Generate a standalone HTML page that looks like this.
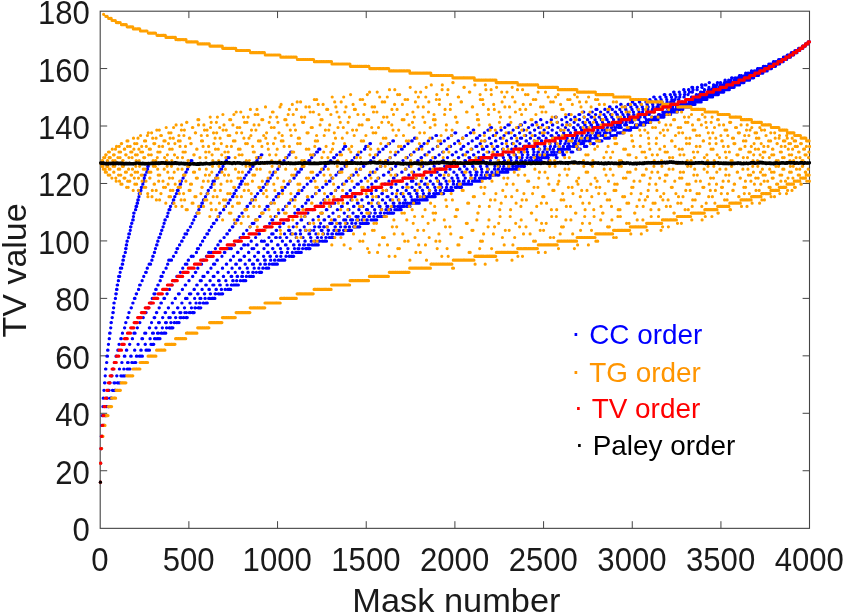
<!DOCTYPE html>
<html><head><meta charset="utf-8"><title>TV value vs mask number</title>
<style>
html,body{margin:0;padding:0;background:#fff}
body{width:844px;height:615px;overflow:hidden;font-family:"Liberation Sans",sans-serif}
svg{display:block}
text{font-family:"Liberation Sans",sans-serif;fill:#1a1a1a}
.d{fill:none;stroke-linecap:round;stroke-linejoin:round;stroke-width:3.2}
</style></head><body>
<svg width="844" height="615" viewBox="0 0 844 615">
<rect width="844" height="615" fill="#fff"/>
<g font-size="33.5"><text transform="translate(99.9 570.5) scale(0.930 1)" text-anchor="middle">0</text><text transform="translate(188.6 570.5) scale(0.930 1)" text-anchor="middle">500</text><text transform="translate(277.2 570.5) scale(0.930 1)" text-anchor="middle">1000</text><text transform="translate(365.9 570.5) scale(0.930 1)" text-anchor="middle">1500</text><text transform="translate(454.6 570.5) scale(0.930 1)" text-anchor="middle">2000</text><text transform="translate(543.3 570.5) scale(0.930 1)" text-anchor="middle">2500</text><text transform="translate(632.0 570.5) scale(0.930 1)" text-anchor="middle">3000</text><text transform="translate(720.6 570.5) scale(0.930 1)" text-anchor="middle">3500</text><text transform="translate(809.3 570.5) scale(0.930 1)" text-anchor="middle">4000</text><text transform="translate(89.9 541.1) scale(0.930 1)" text-anchor="end">0</text><text transform="translate(89.9 483.6) scale(0.930 1)" text-anchor="end">20</text><text transform="translate(89.9 426.2) scale(0.930 1)" text-anchor="end">40</text><text transform="translate(89.9 368.7) scale(0.930 1)" text-anchor="end">60</text><text transform="translate(89.9 311.3) scale(0.930 1)" text-anchor="end">80</text><text transform="translate(89.9 253.8) scale(0.930 1)" text-anchor="end">100</text><text transform="translate(89.9 196.4) scale(0.930 1)" text-anchor="end">120</text><text transform="translate(89.9 138.9) scale(0.930 1)" text-anchor="end">140</text><text transform="translate(89.9 81.5) scale(0.930 1)" text-anchor="end">160</text><text transform="translate(89.9 24.0) scale(0.930 1)" text-anchor="end">180</text></g>
<text transform="translate(456.4 612.4) scale(1.033 1)" font-size="33.3" text-anchor="middle">Mask number</text>
<text transform="translate(26.2 270.4) rotate(-90)" font-size="34" text-anchor="middle">TV value</text>
<rect x="100.2" y="11.2" width="709.3" height="517.15" fill="none" stroke="#444" stroke-width="1.1"/>
<path d="M188.88 528.20v-7.0M188.88 11.10v7.0M277.55 528.20v-7.0M277.55 11.10v7.0M366.23 528.20v-7.0M366.23 11.10v7.0M454.90 528.20v-7.0M454.90 11.10v7.0M543.58 528.20v-7.0M543.58 11.10v7.0M632.25 528.20v-7.0M632.25 11.10v7.0M720.93 528.20v-7.0M720.93 11.10v7.0M100.20 470.74h7.0M809.60 470.74h-7.0M100.20 413.29h7.0M809.60 413.29h-7.0M100.20 355.83h7.0M809.60 355.83h-7.0M100.20 298.38h7.0M809.60 298.38h-7.0M100.20 240.92h7.0M809.60 240.92h-7.0M100.20 183.47h7.0M809.60 183.47h-7.0M100.20 126.01h7.0M809.60 126.01h-7.0M100.20 68.56h7.0M809.60 68.56h-7.0" stroke="#444" stroke-width="1" fill="none"/>
<clipPath id="c"><rect x="97.2" y="9.1" width="713.9" height="521.1"/></clipPath>
<g clip-path="url(#c)">
<path class="d" stroke="#0000ff" d="M100.4 482.2h0M100.6 463.2h0.1M100.9 448.6h0.2M101.3 436.3h0.1M101.6 448.6h0M101.8 425.4h0.2M102.2 415.6h0M102.3 436.3h0.2M102.7 415.6h0M102.9 406.6h0.1M103.2 398.2h0.2M103.6 425.4h0.1M103.9 390.3h0.2M104.3 425.4h0M104.5 382.8h0M104.6 415.6h0.2M105 382.8h0M105.2 375.8h0.1M105.5 369h0M105.7 415.6h0M105.9 369h0M106.1 406.6h0M106.2 415.6h0M106.4 406.6h0M106.6 362.5h0.2M106.9 356.2h0M107.1 398.2h0.2M107.5 356.2h0M107.6 350.2h0M107.8 406.6h0M108 350.2h0M108.2 406.6h0M108.4 344.3h0.1M108.7 390.3h0M108.9 406.6h0M109.1 390.3h0M109.2 338.7h0.2M109.6 333.2h0M109.8 382.8h0.2M110.1 333.2h0M110.3 398.2h0.2M110.7 327.8h0.1M111 322.6h0M111.2 398.2h0M111.4 322.6h0M111.6 398.2h0M111.7 375.8h0.2M112.1 317.6h0.2M112.4 390.3h0.2M112.8 312.6h0M113 369h0.1M113.3 312.6h0M113.5 307.8h0.2M113.9 303h0M114 382.8h0M114.2 303h0M114.4 390.3h0M114.6 362.5h0.1M114.9 382.8h0M115.1 390.3h0M115.3 298.4h0.2M115.6 390.3h0M115.8 293.8h0M116 356.2h0.2M116.3 293.8h0M116.5 289.4h0M116.7 375.8h0.2M117 289.4h0M117.2 285h0M117.4 382.8h0M117.6 285h0M117.8 350.2h0M117.9 382.8h0M118.1 350.2h0M118.3 280.7h0.2M118.6 276.4h0M118.8 382.8h0M119 344.3h0.2M119.4 369h0.1M119.7 276.4h0M119.9 382.8h0M120.1 272.3h0.1M120.4 268.2h0.2M120.8 338.7h0M120.9 375.8h0.2M121.3 338.7h0M121.5 268.2h0.2M121.8 362.5h0.2M122.2 264.2h0M122.4 333.2h0.1M122.7 264.2h0M122.9 260.2h0M123.1 375.8h0.2M123.4 260.2h0M123.6 256.3h0M123.8 369h0.2M124.1 256.3h0M124.3 356.2h0M124.5 327.8h0.2M124.9 356.2h0M125 375.8h0M125.2 252.4h0.2M125.6 248.6h0M125.7 322.6h0.2M126.1 248.6h0M126.3 244.9h0M126.4 350.2h0M126.6 244.9h0M126.8 350.2h0M127 241.2h0M127.2 369h0M127.3 241.2h0M127.5 362.5h0M127.7 317.6h0M127.9 369h0M128 317.6h0M128.2 362.5h0M128.4 237.5h0.2M128.8 233.9h0M128.9 312.6h0.2M129.3 369h0M129.5 233.9h0M129.6 344.3h0.2M130 369h0M130.2 230.3h0.1M130.5 226.8h0M130.7 356.2h0M130.9 226.8h0M131.1 307.8h0M131.2 356.2h0M131.4 307.8h0M131.6 223.3h0M131.8 362.5h0M131.9 223.3h0M132.1 362.5h0M132.3 338.7h0.2M132.7 219.9h0M132.8 303h0.2M133.2 219.9h0M133.4 216.5h0.1M133.7 213.1h0M133.9 333.2h0M134.1 213.1h0M134.3 362.5h0M134.4 298.4h0M134.6 350.2h0.2M135 298.4h0M135.1 333.2h0M135.3 362.5h0M135.5 209.7h0.2M135.8 362.5h0M136 206.4h0M136.2 293.8h0M136.4 356.2h0M136.6 293.8h0M136.7 206.4h0M136.9 356.2h0M137.1 203.2h0M137.3 327.8h0.1M137.6 203.2h0M137.8 199.9h0M138 344.3h0.2M138.3 199.9h0M138.5 289.4h0.2M138.9 196.7h0.1M139.2 193.6h0M139.4 356.2h0M139.6 285h0M139.7 322.6h0.2M140.1 356.2h0M140.3 285h0M140.5 193.6h0M140.6 190.4h0M140.8 350.2h0M141 190.4h0M141.2 350.2h0M141.3 187.3h0M141.5 356.2h0M141.7 187.3h0M141.9 338.7h0M142.1 280.7h0.1M142.4 356.2h0M142.6 338.7h0M142.8 184.2h0.1M143.1 317.6h0.2M143.5 181.2h0M143.7 276.4h0.1M144 181.2h0M144.2 178.1h0.2M144.5 175.1h0M144.7 333.2h0M144.9 312.6h0M145.1 344.3h0M145.2 175.1h0M145.4 344.3h0M145.6 272.3h0M145.8 333.2h0M146 350.2h0M146.1 312.6h0M146.3 272.3h0M146.5 350.2h0M146.7 172.2h0.1M147 169.2h0M147.2 268.2h0.2M147.6 169.2h0M147.7 166.3h0M147.9 350.2h0M148.1 307.8h0M148.3 166.3h0M148.4 350.2h0M148.6 307.8h0M148.8 163.4h0.2M149.1 264.2h0M149.3 327.8h0M149.5 350.2h0M149.7 327.8h0M149.9 264.2h0M150 338.7h0.2M150.4 264.2h0.2M150.7 303h0M150.9 344.3h0.2M151.3 303h0M151.5 322.6h0.1M151.8 260.2h0.2M152.2 298.4h0.1M152.5 333.2h0M152.7 256.3h0M152.9 344.3h0.2M153.2 256.3h0M153.4 333.2h0M153.6 344.3h0.2M153.9 293.8h0M154.1 317.6h0M154.3 252.4h0M154.5 338.7h0M154.6 252.4h0M154.8 317.6h0M155 293.8h0M155.2 338.7h0M155.4 248.6h0.1M155.7 289.4h0M155.9 327.8h0.2M156.2 289.4h0M156.4 312.6h0M156.6 244.9h0M156.8 312.6h0M157 244.9h0M157.1 338.7h0.2M157.5 333.2h0M157.7 241.2h0M157.8 285h0M158 241.2h0M158.2 285h0M158.4 333.2h0M158.5 322.6h0M158.7 338.7h0M158.9 237.5h0M159.1 307.8h0.2M159.4 322.6h0M159.6 237.5h0M159.8 338.7h0.2M160.1 280.7h0.2M160.5 233.9h0.2M160.9 303h0M161 276.4h0M161.2 333.2h0M161.4 303h0M161.6 230.3h0M161.7 333.2h0M161.9 230.3h0M162.1 276.4h0M162.3 327.8h0.1M162.6 317.6h0.2M163 226.8h0.2M163.3 272.3h0.2M163.7 333.2h0M163.9 298.4h0M164 223.3h0.2M164.4 333.2h0M164.6 298.4h0M164.8 333.2h0M164.9 219.9h0M165.1 312.6h0M165.3 219.9h0M165.5 322.6h0M165.6 312.6h0M165.8 333.2h0M166 268.2h0.2M166.4 322.6h0M166.5 327.8h0.2M166.9 293.8h0M167.1 216.5h0M167.2 293.8h0M167.4 216.5h0M167.6 264.2h0.2M167.9 213.1h0.2M168.3 307.8h0.2M168.7 260.2h0M168.8 317.6h0M169 209.7h0M169.2 327.8h0M169.4 289.4h0.1M169.7 327.8h0M169.9 209.7h0M170.1 260.2h0M170.3 317.6h0M170.4 206.4h0.2M170.8 322.6h0.2M171.1 260.2h0M171.3 327.8h0M171.5 260.2h0M171.7 327.8h0M171.8 285h0.2M172.2 303h0.2M172.6 203.2h0.1M172.9 327.8h0M173.1 312.6h0M173.3 199.9h0M173.4 256.3h0.2M173.8 199.9h0M174 312.6h0M174.2 322.6h0M174.3 280.7h0M174.5 322.6h0M174.7 196.7h0.2M175 280.7h0M175.2 298.4h0.2M175.6 317.6h0.2M175.9 252.4h0.2M176.3 193.6h0.2M176.6 322.6h0M176.8 276.4h0M177 248.6h0M177.2 322.6h0M177.3 190.4h0M177.5 307.8h0M177.7 248.6h0M177.9 307.8h0M178.1 276.4h0M178.2 190.4h0M178.4 293.8h0M178.6 187.3h0M178.8 322.6h0M178.9 187.3h0M179.1 322.6h0M179.3 293.8h0M179.5 244.9h0.2M179.8 312.6h0M180 317.6h0M180.2 184.2h0M180.4 272.3h0.1M180.7 184.2h0M180.9 312.6h0M181.1 317.6h0M181.2 181.2h0.2M181.6 241.2h0M181.8 303h0.2M182.1 241.2h0M182.3 289.4h0.2M182.7 268.2h0.1M183 178.1h0.2M183.4 317.6h0.2M183.7 237.5h0.2M184.1 175.1h0.2M184.4 307.8h0.2M184.8 312.6h0M185 233.9h0M185.2 285h0M185.3 264.2h0M185.5 298.4h0M185.7 285h0M185.9 172.2h0M186 317.6h0M186.2 172.2h0M186.4 312.6h0M186.6 317.6h0M186.7 233.9h0M186.9 264.2h0M187.1 298.4h0M187.3 317.6h0M187.5 169.2h0.1M187.8 230.3h0.2M188.2 260.2h0M188.3 166.3h0M188.5 260.2h0M188.7 166.3h0M188.9 280.7h0.2M189.2 312.6h0M189.4 293.8h0M189.6 163.4h0.2M189.9 303h0.2M190.3 226.8h0.2M190.6 312.6h0M190.8 293.8h0M191 160.5h0M191.2 256.3h0M191.4 307.8h0.1M191.7 256.3h0M191.9 160.5h0M192.1 223.3h0.1M192.4 312.6h0M192.6 276.4h0.2M193 312.6h0M193.1 256.3h0.2M193.5 312.6h0M193.7 219.9h0.1M194 289.4h0M194.2 312.6h0M194.4 289.4h0M194.6 298.4h0.1M194.9 307.8h0M195.1 216.5h0M195.3 272.3h0M195.4 307.8h0M195.6 216.5h0M195.8 272.3h0M196 303h0.1M196.3 252.4h0.2M196.7 285h0M196.9 213.1h0.1M197.2 285h0M197.4 248.6h0M197.6 293.8h0M197.7 268.2h0.2M198.1 293.8h0M198.3 307.8h0M198.5 248.6h0M198.6 307.8h0M198.8 209.7h0.2M199.2 307.8h0.1M199.5 303h0M199.7 206.4h0M199.9 298.4h0M200 303h0M200.2 280.7h0M200.4 244.9h0.2M200.8 307.8h0M200.9 298.4h0M201.1 206.4h0M201.3 280.7h0M201.5 264.2h0.1M201.8 203.2h0M202 289.4h0.2M202.4 203.2h0M202.5 241.2h0.2M202.9 276.4h0M203.1 260.2h0M203.2 303h0M203.4 199.9h0M203.6 303h0M203.8 199.9h0M203.9 260.2h0M204.1 276.4h0M204.3 293.8h0M204.5 237.5h0M204.7 293.8h0M204.8 237.5h0M205 298.4h0.2M205.4 196.7h0.1M205.7 285h0M205.9 303h0.2M206.3 285h0M206.4 256.3h0.2M206.8 233.9h0M207 303h0M207.1 193.6h0M207.3 303h0M207.5 272.3h0M207.7 233.9h0M207.9 193.6h0M208 272.3h0M208.2 190.4h0.2M208.6 252.4h0M208.7 298.4h0M208.9 289.4h0M209.1 230.3h0.2M209.4 289.4h0M209.6 252.4h0M209.8 298.4h0M210 280.7h0.2M210.3 293.8h0.2M210.7 187.3h0M210.9 268.2h0.1M211.2 187.3h0M211.4 226.8h0.2M211.8 252.4h0.1M212.1 298.4h0M212.3 184.2h0.2M212.6 298.4h0M212.8 285h0M213 181.2h0M213.2 276.4h0M213.3 223.3h0M213.5 264.2h0M213.7 298.4h0M213.9 285h0M214.1 276.4h0M214.2 223.3h0M214.4 181.2h0M214.6 298.4h0M214.8 264.2h0M214.9 298.4h0M215.1 293.8h0M215.3 248.6h0.2M215.7 293.8h0M215.8 178.1h0M216 289.4h0M216.2 178.1h0M216.4 289.4h0M216.5 219.9h0.2M216.9 260.2h0M217.1 175.1h0.2M217.4 260.2h0M217.6 272.3h0M217.8 244.9h0M218 272.3h0M218.1 244.9h0M218.3 293.8h0M218.5 280.7h0M218.7 216.5h0.1M219 293.8h0M219.2 280.7h0M219.4 172.2h0.2M219.7 285h0M219.9 213.1h0M220.1 241.2h0M220.3 285h0M220.4 213.1h0M220.6 241.2h0M220.8 169.2h0M221 293.8h0.2M221.3 289.4h0.2M221.7 169.2h0M221.9 256.3h0.1M222.2 293.8h0M222.4 268.2h0.2M222.7 293.8h0M222.9 166.3h0.2M223.3 276.4h0M223.5 209.7h0M223.6 276.4h0M223.8 209.7h0M224 237.5h0.2M224.3 252.4h0M224.5 163.4h0.2M224.9 252.4h0M225.1 289.4h0.1M225.4 206.4h0.2M225.8 280.7h0.1M226.1 160.5h0M226.3 264.2h0M226.5 160.5h0M226.7 264.2h0M226.8 233.9h0M227 285h0.2M227.4 233.9h0M227.5 157.6h0M227.7 248.6h0M227.9 289.4h0M228.1 203.2h0M228.2 272.3h0.2M228.6 203.2h0M228.8 289.4h0M229 157.6h0M229.1 248.6h0M229.3 289.4h0M229.5 230.3h0M229.7 289.4h0M229.8 230.3h0M230 199.9h0.2M230.4 260.2h0.2M230.7 289.4h0M230.9 248.6h0M231.1 276.4h0M231.3 285h0M231.4 248.6h0M231.6 285h0M231.8 276.4h0M232 268.2h0.1M232.3 226.8h0M232.5 196.7h0M232.7 280.7h0M232.9 226.8h0M233 196.7h0M233.2 280.7h0M233.4 256.3h0.2M233.7 285h0M233.9 193.6h0M234.1 285h0M234.3 244.9h0M234.5 193.6h0M234.6 244.9h0M234.8 223.3h0.2M235.2 272.3h0.1M235.5 285h0M235.7 264.2h0M235.9 190.4h0M236.1 285h0M236.2 190.4h0M236.4 264.2h0M236.6 280.7h0.2M236.9 219.9h0M237.1 276.4h0M237.3 285h0M237.5 252.4h0M237.6 276.4h0M237.8 219.9h0M238 252.4h0M238.2 241.2h0M238.4 285h0M238.5 241.2h0M238.7 187.3h0.2M239.1 216.5h0.1M239.4 260.2h0M239.6 268.2h0.2M240 184.2h0M240.1 237.5h0M240.3 280.7h0.2M240.7 237.5h0M240.8 260.2h0M241 184.2h0M241.2 248.6h0.2M241.5 181.2h0M241.7 276.4h0M241.9 213.1h0.2M242.3 272.3h0M242.4 181.2h0M242.6 276.4h0M242.8 272.3h0M243 280.7h0.1M243.3 233.9h0.2M243.7 244.9h0M243.9 280.7h0M244 256.3h0M244.2 178.1h0.2M244.6 256.3h0M244.7 244.9h0M244.9 280.7h0M245.1 264.2h0.2M245.4 209.7h0.2M245.8 280.7h0M246 175.1h0.2M246.3 276.4h0.2M246.7 230.3h0.2M247 206.4h0M247.2 268.2h0.2M247.6 206.4h0M247.8 244.9h0M247.9 272.3h0M248.1 244.9h0M248.3 272.3h0M248.5 252.4h0M248.6 172.2h0M248.8 252.4h0M249 172.2h0M249.2 260.2h0M249.4 276.4h0.1M249.7 260.2h0M249.9 226.8h0.2M250.2 203.2h0.2M250.6 169.2h0.2M250.9 276.4h0M251.1 241.2h0.2M251.5 276.4h0.2M251.8 199.9h0M252 248.6h0M252.2 223.3h0M252.4 264.2h0M252.5 166.3h0M252.7 272.3h0M252.9 199.9h0M253.1 166.3h0M253.3 272.3h0M253.4 276.4h0M253.6 264.2h0M253.8 248.6h0M254 223.3h0M254.1 268.2h0.2M254.5 256.3h0.2M254.8 163.4h0.2M255.2 196.7h0.2M255.6 237.5h0.1M255.9 219.9h0.2M256.3 272.3h0.1M256.6 244.9h0M256.8 160.5h0M257 244.9h0M257.2 160.5h0M257.3 260.2h0M257.5 193.6h0.2M257.9 260.2h0M258 252.4h0M258.2 157.6h0M258.4 233.9h0M258.6 252.4h0M258.8 268.2h0.1M259.1 157.6h0M259.3 272.3h0M259.5 233.9h0M259.6 216.5h0M259.8 272.3h0M260 216.5h0M260.2 264.2h0.1M260.5 272.3h0M260.7 190.4h0M260.9 272.3h0M261.1 190.4h0M261.2 154.8h0M261.4 241.2h0M261.6 272.3h0M261.8 241.2h0M261.9 154.8h0M262.1 213.1h0.2M262.5 230.3h0.2M262.8 268.2h0M263 187.3h0M263.2 268.2h0M263.4 187.3h0M263.5 256.3h0.2M263.9 248.6h0.2M264.2 241.2h0.2M264.6 260.2h0M264.8 264.2h0M265 209.7h0.1M265.3 260.2h0M265.5 264.2h0M265.7 184.2h0.1M266 226.8h0M266.2 268.2h0.2M266.6 226.8h0M266.7 244.9h0M266.9 206.4h0M267.1 181.2h0M267.3 268.2h0.1M267.6 252.4h0M267.8 244.9h0M268 206.4h0M268.2 252.4h0M268.3 181.2h0M268.5 268.2h0.2M268.9 237.5h0.1M269.2 264.2h0.2M269.6 223.3h0.1M269.9 256.3h0M270.1 178.1h0.2M270.5 256.3h0M270.6 260.2h0.2M271 203.2h0.2M271.3 241.2h0.2M271.7 233.9h0M271.9 219.9h0M272.1 175.1h0M272.2 264.2h0M272.4 175.1h0M272.6 248.6h0M272.8 219.9h0M272.9 248.6h0M273.1 233.9h0M273.3 264.2h0M273.5 199.9h0.1M273.8 172.2h0.2M274.2 264.2h0.2M274.5 260.2h0M274.7 252.4h0.2M275.1 260.2h0M275.2 216.5h0.2M275.6 237.5h0M275.8 264.2h0M276 196.7h0M276.1 230.3h0M276.3 237.5h0M276.5 256.3h0M276.7 230.3h0M276.8 256.3h0M277 264.2h0M277.2 196.7h0M277.4 264.2h0M277.6 244.9h0M277.7 169.2h0.2M278.1 244.9h0M278.3 193.6h0M278.4 260.2h0M278.6 213.1h0.2M279 260.2h0M279.1 193.6h0M279.3 166.3h0.2M279.7 226.8h0.2M280 237.5h0.2M280.4 248.6h0.2M280.7 256.3h0.2M281.1 252.4h0M281.3 260.2h0M281.5 163.4h0.1M281.8 252.4h0M282 260.2h0M282.2 190.4h0M282.3 241.2h0.2M282.7 190.4h0M282.9 209.7h0.1M283.2 260.2h0M283.4 223.3h0M283.6 260.2h0M283.8 223.3h0M283.9 160.5h0.2M284.3 260.2h0M284.5 233.9h0.1M284.8 260.2h0M285 187.3h0.2M285.4 244.9h0M285.5 206.4h0.2M285.9 256.3h0M286.1 244.9h0M286.2 256.3h0M286.4 157.6h0M286.6 237.5h0.2M286.9 157.6h0M287.1 219.9h0M287.3 252.4h0.2M287.7 184.2h0M287.8 248.6h0.2M288.2 219.9h0M288.4 184.2h0M288.5 230.3h0M288.7 203.2h0M288.9 154.8h0M289.1 256.3h0M289.3 154.8h0M289.4 256.3h0M289.6 203.2h0M289.8 230.3h0M290 181.2h0.1M290.3 241.2h0.2M290.7 152h0M290.9 233.9h0M291 256.3h0M291.2 216.5h0.2M291.6 256.3h0M291.7 152h0M291.9 233.9h0M292.1 199.9h0M292.3 252.4h0.1M292.6 199.9h0M292.8 256.3h0.2M293.2 226.8h0.1M293.5 244.9h0M293.7 256.3h0M293.9 178.1h0M294 244.9h0M294.2 178.1h0M294.4 248.6h0.2M294.8 213.1h0.1M295.1 196.7h0.2M295.5 233.9h0M295.6 252.4h0M295.8 233.9h0M296 175.1h0M296.2 237.5h0M296.3 175.1h0M296.5 237.5h0M296.7 252.4h0M296.9 223.3h0.2M297.2 252.4h0M297.4 193.6h0M297.6 209.7h0M297.8 172.2h0M297.9 248.6h0M298.1 241.2h0.2M298.5 252.4h0M298.7 193.6h0M298.8 209.7h0M299 248.6h0M299.2 172.2h0M299.4 244.9h0.1M299.7 252.4h0.2M300.1 230.3h0.2M300.4 233.9h0.2M300.8 169.2h0M301 219.9h0M301.1 252.4h0.2M301.5 169.2h0M301.7 219.9h0M301.8 190.4h0.2M302.2 206.4h0.2M302.6 248.6h0.1M302.9 237.5h0.2M303.3 166.3h0.1M303.6 244.9h0M303.8 187.3h0.2M304.2 226.8h0.1M304.5 244.9h0M304.7 216.5h0M304.9 241.2h0M305 216.5h0M305.2 241.2h0M305.4 230.3h0M305.6 248.6h0M305.7 203.2h0.2M306.1 230.3h0M306.3 248.6h0M306.5 163.4h0.1M306.8 248.6h0.2M307.2 184.2h0.1M307.5 199.9h0M307.7 213.1h0.2M308.1 244.9h0M308.2 223.3h0M308.4 248.6h0M308.6 199.9h0M308.8 160.5h0M308.9 233.9h0M309.1 244.9h0M309.3 248.6h0M309.5 223.3h0M309.7 233.9h0M309.8 160.5h0M310 248.6h0M310.2 230.3h0.2M310.5 237.5h0M310.7 181.2h0M310.9 237.5h0M311.1 181.2h0M311.2 241.2h0.2M311.6 157.6h0.2M312 244.9h0M312.1 196.7h0M312.3 244.9h0M312.5 196.7h0M312.7 209.7h0.1M313 219.9h0.2M313.4 178.1h0.2M313.7 230.3h0.2M314.1 154.8h0.2M314.4 244.9h0M314.6 226.8h0.2M315 244.9h0M315.1 241.2h0.2M315.5 193.6h0.2M315.9 233.9h0.1M316.2 206.4h0M316.4 244.9h0M316.6 152h0M316.7 244.9h0M316.9 175.1h0M317.1 206.4h0M317.3 237.5h0M317.5 152h0M317.6 237.5h0M317.8 175.1h0M318 244.9h0M318.2 216.5h0M318.3 244.9h0M318.5 216.5h0M318.7 149.2h0M318.9 226.8h0M319 241.2h0M319.2 190.4h0.2M319.6 241.2h0M319.8 226.8h0M319.9 149.2h0M320.1 172.2h0.2M320.5 223.3h0.1M320.8 203.2h0.2M321.2 230.3h0M321.4 237.5h0.1M321.7 213.1h0.2M322.1 230.3h0M322.2 241.2h0.2M322.6 187.3h0.2M323 169.2h0M323.1 233.9h0M323.3 169.2h0M323.5 233.9h0M323.7 226.8h0M323.8 199.9h0M324 219.9h0M324.2 226.8h0M324.4 199.9h0M324.5 241.2h0M324.7 219.9h0M324.9 241.2h0M325.1 166.3h0M325.3 241.2h0M325.4 166.3h0M325.6 241.2h0M325.8 237.5h0M326 184.2h0M326.1 237.5h0M326.3 209.7h0M326.5 241.2h0M326.7 184.2h0M326.9 209.7h0M327 226.8h0.2M327.4 196.7h0.2M327.7 233.9h0.2M328.1 230.3h0M328.3 163.4h0.1M328.6 230.3h0M328.8 216.5h0.2M329.2 237.5h0M329.3 181.2h0M329.5 237.5h0M329.7 223.3h0.2M330 181.2h0M330.2 206.4h0.2M330.6 160.5h0.2M330.9 193.6h0M331.1 237.5h0.2M331.5 193.6h0M331.6 223.3h0M331.8 233.9h0M332 178.1h0M332.2 223.3h0M332.4 178.1h0M332.5 233.9h0M332.7 237.5h0M332.9 213.1h0.2M333.2 237.5h0.2M333.6 157.6h0M333.8 230.3h0M333.9 219.9h0M334.1 237.5h0M334.3 230.3h0M334.5 157.6h0M334.7 203.2h0.1M335 226.8h0M335.2 219.9h0M335.4 226.8h0M335.5 190.4h0.2M335.9 175.1h0.2M336.3 233.9h0.1M336.6 154.8h0.2M337 223.3h0.1M337.3 209.7h0.2M337.7 199.9h0.1M338 230.3h0M338.2 187.3h0M338.4 172.2h0M338.6 187.3h0M338.7 233.9h0M338.9 216.5h0.2M339.3 233.9h0M339.4 230.3h0M339.6 172.2h0M339.8 223.3h0M340 152h0.2M340.3 223.3h0M340.5 226.8h0.2M340.9 233.9h0.1M341.2 169.2h0M341.4 206.4h0M341.6 233.9h0M341.8 196.7h0.1M342.1 169.2h0M342.3 206.4h0M342.5 233.9h0M342.6 184.2h0.2M343 233.9h0M343.2 149.2h0.1M343.5 230.3h0M343.7 219.9h0.2M344.1 230.3h0M344.2 213.1h0.2M344.6 146.4h0M344.8 219.9h0M344.9 226.8h0M345.1 166.3h0.2M345.5 226.8h0M345.7 146.4h0M345.8 219.9h0M346 230.3h0M346.2 181.2h0M346.4 193.6h0M346.5 223.3h0M346.7 181.2h0M346.9 230.3h0M347.1 193.6h0M347.2 223.3h0M347.4 203.2h0.2M347.8 216.5h0.2M348.1 163.4h0.2M348.5 230.3h0M348.7 209.7h0M348.8 230.3h0M349 209.7h0M349.2 226.8h0M349.4 178.1h0.2M349.7 226.8h0M349.9 230.3h0M350.1 190.4h0M350.3 230.3h0M350.4 190.4h0M350.6 219.9h0M350.8 230.3h0M351 199.9h0M351.2 219.9h0M351.3 199.9h0M351.5 230.3h0M351.7 223.3h0M351.9 160.5h0M352 223.3h0M352.2 160.5h0M352.4 219.9h0.2M352.7 175.1h0M352.9 213.1h0.2M353.3 175.1h0M353.5 206.4h0M353.6 226.8h0.2M354 206.4h0M354.2 187.3h0.1M354.5 157.6h0.2M354.9 196.7h0.2M355.2 226.8h0.2M355.6 223.3h0.2M355.9 216.5h0.2M356.3 172.2h0.2M356.6 216.5h0M356.8 219.9h0M357 184.2h0M357.2 154.8h0M357.4 203.2h0M357.5 226.8h0.2M357.9 154.8h0M358.1 203.2h0M358.2 216.5h0M358.4 184.2h0M358.6 219.9h0M358.8 209.7h0.2M359.1 226.8h0.2M359.5 193.6h0.2M359.8 226.8h0M360 169.2h0M360.2 223.3h0.2M360.5 169.2h0M360.7 152h0.2M361.1 181.2h0.2M361.4 213.1h0.2M361.8 199.9h0.2M362.1 219.9h0.2M362.5 206.4h0M362.7 223.3h0.2M363 206.4h0M363.2 216.5h0M363.4 166.3h0M363.6 190.4h0M363.7 216.5h0M363.9 166.3h0M364.1 190.4h0M364.3 216.5h0M364.5 149.2h0M364.6 216.5h0M364.8 149.2h0M365 223.3h0.2M365.3 178.1h0.2M365.7 146.4h0M365.9 163.4h0.1M366.2 223.3h0M366.4 209.7h0M366.6 219.9h0M366.8 196.7h0M366.9 223.3h0M367.1 146.4h0M367.3 219.9h0M367.5 196.7h0M367.6 209.7h0M367.8 223.3h0M368 187.3h0.2M368.4 223.3h0M368.5 203.2h0.2M368.9 216.5h0M369.1 213.1h0.1M369.4 175.1h0M369.6 216.5h0M369.8 175.1h0M369.9 143.6h0M370.1 213.1h0.2M370.5 143.6h0M370.7 160.5h0.1M371 219.9h0.2M371.4 193.6h0.1M371.7 184.2h0.2M372.1 206.4h0.2M372.4 199.9h0.2M372.8 172.2h0M373 219.9h0.1M373.3 172.2h0M373.5 157.6h0M373.7 216.5h0.2M374 157.6h0M374.2 219.9h0.2M374.6 209.7h0.1M374.9 213.1h0.5M375.6 181.2h0M375.8 219.9h0M376 190.4h0.2M376.3 181.2h0M376.5 219.9h0.2M376.9 169.2h0.1M377.2 154.8h0.2M377.6 216.5h0M377.8 203.2h0M377.9 216.5h0M378.1 203.2h0M378.3 196.7h0.2M378.6 178.1h0.2M379 152h0M379.2 206.4h0M379.3 216.5h0M379.5 187.3h0M379.7 152h0M379.9 187.3h0M380.1 206.4h0M380.2 213.1h0M380.4 166.3h0M380.6 213.1h0M380.8 216.5h0M380.9 166.3h0M381.1 209.7h0.6M381.8 193.6h0M382 216.5h0.2M382.4 199.9h0M382.5 193.6h0M382.7 199.9h0M382.9 149.2h0.2M383.3 216.5h0M383.4 175.1h0M383.6 163.4h0.2M384 175.1h0M384.1 216.5h0M384.3 213.1h0.2M384.7 216.5h0M384.8 184.2h0M385 216.5h0M385.2 184.2h0M385.4 203.2h0.2M385.7 146.4h0M385.9 209.7h0.2M386.3 146.4h0M386.4 190.4h0.2M386.8 206.4h0M387 196.7h0M387.2 160.5h0M387.3 213.1h0.2M387.7 160.5h0M387.9 206.4h0M388 196.7h0M388.2 209.7h0.2M388.6 172.2h0.1M388.9 181.2h0.2M389.3 143.6h0M389.5 213.1h0M389.6 143.6h0M389.8 213.1h0M390 157.6h0M390.2 199.9h0M390.3 157.6h0M390.5 209.7h0.2M390.9 199.9h0M391.1 187.3h0M391.2 169.2h0M391.4 187.3h0M391.6 213.1h0M391.8 169.2h0M391.9 213.1h0M392.1 193.6h0.2M392.5 213.1h0.2M392.8 140.9h0M393 206.4h0M393.2 203.2h0M393.4 178.1h0M393.5 140.9h0M393.7 213.1h0M393.9 203.2h0M394.1 178.1h0M394.2 206.4h0.4M394.8 209.7h0.2M395.1 154.8h0.2M395.5 166.3h0.2M395.8 184.2h0.2M396.2 196.7h0.2M396.6 175.1h0M396.7 209.7h0M396.9 175.1h0M397.1 209.7h0M397.3 190.4h0.1M397.6 206.4h0.2M398 152h0.1M398.3 199.9h0.2M398.7 206.4h0.2M399 209.7h0M399.2 163.4h0.2M399.6 209.7h0M399.7 203.2h0.2M400.1 181.2h0M400.3 209.7h0.2M400.6 181.2h0M400.8 209.7h0M401 193.6h0M401.2 209.7h0M401.3 206.4h0M401.5 149.2h0M401.7 172.2h0M401.9 193.6h0M402 172.2h0M402.2 149.2h0M402.4 206.4h0M402.6 187.3h0.2M402.9 160.5h0.2M403.3 203.2h0M403.5 196.7h0M403.6 203.2h0M403.8 196.7h0M404 206.4h0.2M404.4 146.4h0.1M404.7 178.1h0.2M405.1 199.9h0.1M405.4 169.2h0M405.6 203.2h0.2M406 169.2h0M406.1 190.4h0.2M406.5 157.6h0M406.7 206.4h0M406.8 184.2h0.2M407.2 157.6h0M407.4 206.4h0M407.5 203.2h0.2M407.9 143.6h0.2M408.3 206.4h0.1M408.6 193.6h0M408.8 175.1h0M409 206.4h0M409.1 175.1h0M409.3 166.3h0.2M409.7 206.4h0M409.9 193.6h0M410 206.4h0M410.2 203.2h0M410.4 154.8h0M410.6 203.2h0M410.7 154.8h0M410.9 196.7h0.2M411.3 181.2h0M411.4 203.2h0M411.6 140.9h0M411.8 187.3h0M412 199.9h0M412.2 140.9h0M412.3 187.3h0M412.5 203.2h0M412.7 199.9h0M412.9 181.2h0M413 163.4h0.2M413.4 172.2h0.2M413.8 203.2h0M413.9 152h0.2M414.3 203.2h0M414.5 138.2h0M414.6 199.9h0M414.8 190.4h0.2M415.2 199.9h0M415.4 138.2h0M415.5 203.2h0.2M415.9 178.1h0.2M416.2 184.2h0.2M416.6 193.6h0M416.8 199.9h0.1M417.1 193.6h0M417.3 203.2h0M417.5 196.7h0M417.7 160.5h0M417.8 196.7h0M418 203.2h0M418.2 160.5h0M418.4 149.2h0.1M418.7 203.2h0M418.9 169.2h0.2M419.3 203.2h0M419.4 199.9h0.2M419.8 187.3h0.2M420.1 175.1h0.2M420.5 199.9h0.2M420.8 146.4h0M421 157.6h0M421.2 181.2h0.2M421.6 157.6h0M421.7 199.9h0M421.9 146.4h0M422.1 199.9h0M422.3 190.4h0M422.4 166.3h0M422.6 190.4h0M422.8 166.3h0M423 196.7h0.2M423.3 193.6h0.2M423.7 199.9h0.2M424 143.6h0.2M424.4 196.7h0M424.6 184.2h0M424.8 172.2h0M424.9 154.8h0M425.1 199.9h0.2M425.5 154.8h0M425.6 196.7h0M425.8 184.2h0M426 172.2h0M426.2 199.9h0M426.3 178.1h0.2M426.7 199.9h0M426.9 163.4h0.2M427.2 199.9h0M427.4 187.3h0.2M427.8 196.7h0.3M428.3 140.9h0.2M428.7 196.7h0M428.8 152h0M429 193.6h0M429.2 152h0M429.4 190.4h0M429.5 193.6h0M429.7 190.4h0M429.9 169.2h0.2M430.2 181.2h0.2M430.6 160.5h0.2M431 175.1h0M431.1 196.7h0.2M431.5 175.1h0M431.7 196.7h0.1M432 138.2h0.2M432.4 196.7h0.2M432.7 149.2h0.2M433.1 184.2h0.2M433.4 196.7h0M433.6 193.6h0M433.8 196.7h0M434 166.3h0M434.2 193.6h0M434.3 166.3h0M434.5 157.6h0M434.7 187.3h0M434.9 196.7h0M435 187.3h0M435.2 196.7h0M435.4 157.6h0M435.6 190.4h0.1M435.9 135.5h0M436.1 193.6h0M436.3 178.1h0.2M436.6 135.5h0M436.8 193.6h0M437 172.2h0.2M437.3 146.4h0.2M437.7 193.6h0.2M438.1 181.2h0M438.2 193.6h0.2M438.6 181.2h0M438.8 163.4h0.1M439.1 154.8h0.2M439.5 175.1h0M439.6 169.2h0M439.8 184.2h0M440 193.6h0M440.2 190.4h0.2M440.5 175.1h0M440.7 143.6h0.2M441.1 169.2h0M441.2 184.2h0M441.4 193.6h0M441.6 187.3h0.2M442 193.6h0.5M442.7 152h0.1M443 160.5h0M443.2 193.6h0.2M443.5 160.5h0M443.7 193.6h0M443.9 178.1h0.2M444.3 140.9h0.1M444.6 166.3h0M444.8 190.4h0M445 166.3h0M445.1 190.4h0.2M445.5 172.2h0M445.7 190.4h0M445.9 172.2h0M446 181.2h0.2M446.4 187.3h0.2M446.7 149.2h0.2M447.1 184.2h0.2M447.5 157.6h0.1M447.8 190.4h0M448 138.2h0M448.2 190.4h0M448.3 138.2h0M448.5 175.1h0.2M448.9 190.4h0.3M449.4 163.4h0.2M449.8 190.4h0M449.9 169.2h0.2M450.3 190.4h0M450.5 146.4h0.1M450.8 190.4h0M451 187.3h0M451.2 190.4h0M451.4 135.5h0M451.5 187.3h0M451.7 135.5h0M451.9 178.1h0.2M452.2 154.8h0M452.4 190.4h0M452.6 154.8h0M452.8 190.4h0.1M453.1 181.2h0M453.3 184.2h0M453.5 181.2h0M453.7 184.2h0M453.8 172.2h0.2M454.2 160.5h0.2M454.5 143.6h0.2M454.9 132.8h0M455.1 187.3h0M455.3 166.3h0.1M455.6 187.3h0M455.8 132.8h0M456 152h0M456.1 187.3h0M456.3 152h0M456.5 187.3h0M456.7 175.1h0.2M457 187.3h0.2M457.4 184.2h0.2M457.7 178.1h0.2M458.1 140.9h0M458.3 157.6h0M458.4 181.2h0M458.6 140.9h0M458.8 157.6h0M459 187.3h0M459.2 181.2h0M459.3 187.3h0M459.5 169.2h0M459.7 187.3h0.2M460 169.2h0M460.2 187.3h0.2M460.6 163.4h0.2M460.9 149.2h0M461.1 187.3h0M461.3 149.2h0M461.5 187.3h0.1M461.8 184.2h0M462 172.2h0.2M462.3 184.2h0M462.5 138.2h0.2M462.9 154.8h0.2M463.2 146.4h0M463.4 181.2h0M463.6 175.1h0M463.8 146.4h0M463.9 175.1h0M464.1 181.2h0M464.3 166.3h0.2M464.7 184.2h0M464.8 160.5h0M465 184.2h0M465.2 178.1h0.2M465.5 160.5h0M465.7 184.2h0.2M466.1 135.5h0M466.3 184.2h0.1M466.6 135.5h0M466.8 169.2h0M467 152h0M467.1 169.2h0M467.3 184.2h0.2M467.7 152h0M467.8 184.2h0.2M468.2 143.6h0.2M468.6 181.2h0.1M468.9 157.6h0M469.1 163.4h0.2M469.4 184.2h0.2M469.8 157.6h0M470 172.2h0.2M470.3 132.8h0M470.5 178.1h0M470.7 132.8h0M470.9 178.1h0M471 175.1h0.2M471.4 184.2h0.2M471.7 149.2h0.2M472.1 140.9h0.2M472.5 181.2h0M472.6 166.3h0M472.8 181.2h0M473 166.3h0M473.2 130.1h0M473.3 181.2h0M473.5 154.8h0M473.7 130.1h0M473.9 154.8h0M474.1 181.2h0M474.2 160.5h0.2M474.6 169.2h0.2M474.9 178.1h0.2M475.3 181.2h0.2M475.6 175.1h0M475.8 146.4h0M476 181.2h0M476.2 172.2h0M476.4 138.2h0M476.5 181.2h0M476.7 175.1h0M476.9 146.4h0M477.1 172.2h0M477.2 181.2h0.2M477.6 138.2h0M477.8 181.2h0M478 163.4h0.1M478.3 152h0.2M478.7 157.6h0M478.8 181.2h0.2M479.2 157.6h0M479.4 178.1h0.2M479.7 135.5h0.2M480.1 143.6h0M480.3 166.3h0M480.4 143.6h0M480.6 166.3h0M480.8 181.2h0.2M481.1 175.1h0.2M481.5 169.2h0.2M481.9 172.2h0.1M482.2 178.1h0M482.4 149.2h0M482.6 160.5h0M482.7 178.1h0.2M483.1 160.5h0M483.3 178.1h0M483.5 149.2h0M483.6 154.8h0.2M484 178.1h0.2M484.3 132.8h0.2M484.7 178.1h0M484.9 140.9h0.1M485.2 178.1h0M485.4 175.1h0M485.6 163.4h0.2M485.9 175.1h0M486.1 178.1h0.2M486.5 146.4h0M486.6 172.2h0M486.8 166.3h0.2M487.2 146.4h0M487.4 172.2h0M487.5 157.6h0M487.7 169.2h0M487.9 130.1h0M488.1 157.6h0M488.2 169.2h0M488.4 130.1h0M488.6 152h0.2M489 178.1h0.1M489.3 138.2h0.2M489.7 175.1h0.1M490 178.1h0.2M490.4 160.5h0.1M490.7 127.5h0M490.9 175.1h0M491.1 143.6h0.2M491.4 175.1h0M491.6 127.5h0M491.8 172.2h0.2M492.1 175.1h0.6M492.9 163.4h0.1M493.2 135.5h0.2M493.6 154.8h0.1M493.9 175.1h0M494.1 149.2h0.2M494.4 169.2h0.2M494.8 166.3h0.2M495.2 175.1h0.1M495.5 140.9h0M495.7 157.6h0M495.9 140.9h0M496 172.2h0M496.2 157.6h0M496.4 172.2h0M496.6 132.8h0.2M496.9 146.4h0M497.1 175.1h0M497.3 152h0.2M497.6 175.1h0M497.8 146.4h0M498 169.2h0M498.2 160.5h0M498.4 169.2h0M498.5 160.5h0M498.7 175.1h0.2M499.1 163.4h0.1M499.4 166.3h0.2M499.8 172.2h0.3M500.3 138.2h0M500.5 172.2h0M500.7 138.2h0M500.8 172.2h0M501 130.1h0.2M501.4 172.2h0M501.5 154.8h0.2M501.9 143.6h0.2M502.3 169.2h0M502.4 172.2h0M502.6 149.2h0.2M503 172.2h0M503.1 169.2h0M503.3 157.6h0.2M503.7 166.3h0.1M504 135.5h0.2M504.4 160.5h0.2M504.7 127.5h0.2M505.1 172.2h0.2M505.4 163.4h0.2M505.8 169.2h0M506 152h0.2M506.3 169.2h0M506.5 140.9h0.2M506.9 172.2h0.1M507.2 146.4h0.2M507.6 172.2h0.2M507.9 124.9h0M508.1 169.2h0M508.3 132.8h0M508.5 154.8h0M508.6 166.3h0.2M509 154.8h0M509.2 132.8h0M509.3 124.9h0M509.5 169.2h0.6M510.2 157.6h0M510.4 163.4h0.2M510.8 157.6h0M510.9 160.5h0.2M511.3 138.2h0.2M511.7 149.2h0.1M512 169.2h0M512.2 143.6h0M512.4 169.2h0M512.5 143.6h0M512.7 166.3h0.2M513.1 130.1h0.1M513.4 152h0.2M513.8 169.2h0.2M514.1 163.4h0.2M514.5 135.5h0M514.7 169.2h0.1M515 135.5h0M515.2 154.8h0.2M515.6 146.4h0M515.7 166.3h0M515.9 146.4h0M516.1 166.3h0M516.3 160.5h0.1M516.6 169.2h0M516.8 157.6h0M517 140.9h0.1M517.3 169.2h0M517.5 157.6h0M517.7 166.3h0M517.9 127.5h0M518 166.3h0M518.2 127.5h0M518.4 166.3h0.2M518.7 163.4h0.2M519.1 149.2h0.2M519.5 132.8h0.1M519.8 143.6h0.2M520.2 124.9h0M520.3 152h0M520.5 138.2h0M520.7 160.5h0M520.9 166.3h0.2M521.2 152h0M521.4 124.9h0M521.6 138.2h0M521.8 160.5h0M521.9 157.6h0.2M522.3 154.8h0.2M522.6 163.4h0.2M523 166.3h0.2M523.4 130.1h0M523.5 146.4h0M523.7 130.1h0M523.9 166.3h0.2M524.2 146.4h0M524.4 166.3h0.2M524.8 122.3h0M525 163.4h0M525.1 122.3h0M525.3 160.5h0.2M525.7 135.5h0.1M526 140.9h0M526.2 163.4h0.2M526.5 140.9h0M526.7 149.2h0.2M527.1 157.6h0.2M527.4 152h0.2M527.8 154.8h0.2M528.1 163.4h0.2M528.5 127.5h0.2M528.9 160.5h0M529 143.6h0.2M529.4 160.5h0M529.6 163.4h0.1M529.9 132.8h0.2M530.3 138.2h0.2M530.6 157.6h0M530.8 146.4h0.2M531.2 157.6h0M531.3 163.4h0.2M531.7 160.5h0.2M532 124.9h0M532.2 163.4h0.2M532.6 124.9h0M532.8 163.4h0.1M533.1 149.2h0M533.3 154.8h0.2M533.6 149.2h0M533.8 152h0.2M534.2 140.9h0.2M534.5 130.1h0.2M534.9 135.5h0M535.1 160.5h0M535.2 135.5h0M535.4 160.5h0M535.6 157.6h0.2M535.9 122.3h0M536.1 143.6h0M536.3 122.3h0M536.5 143.6h0M536.7 160.5h0.1M537 154.8h0.2M537.4 146.4h0.1M537.7 157.6h0M537.9 152h0M538.1 160.5h0M538.3 138.2h0M538.4 152h0M538.6 127.5h0.2M539 160.5h0M539.1 157.6h0M539.3 138.2h0M539.5 149.2h0.2M539.9 132.8h0.1M540.2 160.5h0.2M540.6 119.7h0M540.7 160.5h0M540.9 119.7h0M541.1 160.5h0M541.3 163.4h0M541.4 140.9h0M541.6 157.6h0M541.8 140.9h0M542 154.8h0M542.2 157.6h0M542.3 154.8h0M542.5 124.9h0.2M542.9 152h0M543 135.5h0M543.2 152h0M543.4 143.6h0M543.6 135.5h0M543.8 143.6h0M543.9 157.6h0M544.1 130.1h0.2M544.5 157.6h0M544.6 146.4h0M544.8 149.2h0M545 146.4h0M545.2 149.2h0M545.3 154.8h0.2M545.7 157.6h0.2M546.1 138.2h0.1M546.4 157.6h0.2M546.8 122.3h0.1M547.1 152h0.2M547.5 157.6h0M547.7 154.8h0M547.8 132.8h0.2M548.2 154.8h0M548.4 157.6h0M548.5 127.5h0.2M548.9 160.5h0.2M549.3 140.9h0.1M549.6 149.2h0.2M550 143.6h0.1M550.3 146.4h0.2M550.7 154.8h0.1M551 135.5h0M551.2 119.7h0.2M551.6 152h0.1M551.9 135.5h0M552.1 130.1h0.2M552.4 124.9h0M552.6 154.8h0M552.8 124.9h0M553 154.8h0M553.2 138.2h0M553.3 149.2h0.2M553.7 138.2h0M553.9 154.8h0.1M554.2 152h0.2M554.6 146.4h0M554.7 140.9h0.2M555.1 146.4h0M555.3 117.1h0M555.5 154.8h0M555.6 143.6h0.2M556 154.8h0M556.2 117.1h0M556.3 157.6h0M556.5 132.8h0.2M556.9 157.6h0.2M557.2 122.3h0.2M557.6 152h0.2M557.9 127.5h0.2M558.3 149.2h0.2M558.6 135.5h0.2M559 146.4h0.2M559.4 152h0.1M559.7 138.2h0.2M560.1 143.6h0.1M560.4 140.9h0M560.6 130.1h0M560.8 140.9h0M561 149.2h0M561.1 130.1h0M561.3 149.2h0M561.5 152h0M561.7 119.7h0.1M562 152h0M562.2 124.9h0.2M562.6 152h0.1M562.9 154.8h0.2M563.3 146.4h0.1M563.6 132.8h0.2M564 149.2h0.1M564.3 154.8h0.2M564.7 135.5h0M564.9 143.6h0M565 135.5h0M565.2 143.6h0M565.4 127.5h0.2M565.7 117.1h0.2M566.1 140.9h0.2M566.5 149.2h0M566.6 138.2h0M566.8 122.3h0.2M567.2 138.2h0M567.3 149.2h0M567.5 146.4h0.2M567.9 149.2h0.1M568.2 130.1h0.2M568.6 143.6h0.2M568.9 114.5h0M569.1 149.2h0M569.3 114.5h0M569.5 149.2h0M569.6 146.4h0M569.8 124.9h0.2M570.2 146.4h0M570.4 132.8h0.1M570.7 119.7h0.2M571.1 152h0.1M571.4 140.9h0.2M571.8 135.5h0M572 152h0.1M572.3 135.5h0M572.5 138.2h0.2M572.8 152h0M573 146.4h0.2M573.4 127.5h0M573.5 143.6h0.2M573.9 127.5h0M574.1 122.3h0.2M574.4 146.4h0M574.6 117.1h0M574.8 146.4h0M575 117.1h0M575.1 130.1h0M575.3 140.9h0.2M575.7 130.1h0M575.9 143.6h0.1M576.2 146.4h0M576.4 138.2h0M576.6 132.8h0.1M576.9 138.2h0M577.1 146.4h0M577.3 135.5h0.1M577.6 149.2h0M577.8 124.9h0M578 149.2h0M578.2 124.9h0M578.3 149.2h0.4M578.9 114.5h0M579 140.9h0M579.2 119.7h0M579.4 140.9h0M579.6 119.7h0M579.8 114.5h0M579.9 143.6h0.2M580.3 149.2h0M580.5 127.5h0.1M580.8 138.2h0.2M581.2 143.6h0.2M581.5 130.1h0.2M581.9 135.5h0.2M582.2 132.8h0.2M582.6 140.9h0.2M582.9 122.3h0.2M583.3 112h0M583.5 143.6h0.2M583.8 112h0M584 117.1h0.2M584.4 146.4h0.1M584.7 124.9h0M584.9 138.2h0M585.1 124.9h0M585.3 138.2h0M585.4 140.9h0.2M585.8 146.4h0.5M586.5 135.5h0M586.7 127.5h0M586.8 146.4h0M587 135.5h0M587.2 127.5h0M587.4 119.7h0.2M587.7 130.1h0.2M588.1 132.8h0.2M588.4 114.5h0M588.6 140.9h0.2M589 114.5h0M589.2 138.2h0.1M589.5 122.3h0.2M589.9 140.9h0.1M590.2 135.5h0.2M590.6 143.6h0.2M590.9 124.9h0M591.1 117.1h0M591.3 138.2h0M591.5 124.9h0M591.6 138.2h0M591.8 117.1h0M592 132.8h0M592.2 112h0.1M592.5 132.8h0M592.7 127.5h0.2M593.1 143.6h0M593.2 130.1h0M593.4 143.6h0M593.6 130.1h0M593.8 143.6h0.5M594.5 138.2h0.2M594.8 135.5h0M595 119.7h0.2M595.4 135.5h0M595.5 114.5h0.2M595.9 109.4h0M596.1 138.2h0M596.2 132.8h0M596.4 122.3h0.2M596.8 132.8h0M597 109.4h0M597.1 138.2h0M597.3 124.9h0M597.5 135.5h0M597.7 130.1h0M597.8 135.5h0M598 130.1h0M598.2 124.9h0M598.4 127.5h0.2M598.7 140.9h0.2M599.1 117.1h0.2M599.4 140.9h0.2M599.8 132.8h0.2M600.1 135.5h0.2M600.5 112h0.2M600.9 140.9h0.1M601.2 119.7h0.2M601.6 140.9h0.3M602.1 130.1h0.2M602.5 122.3h0.1M602.8 135.5h0.2M603.2 127.5h0.1M603.5 124.9h0.2M603.9 114.5h0.2M604.2 132.8h0.2M604.6 138.2h0M604.8 109.4h0M604.9 138.2h0M605.1 109.4h0M605.3 130.1h0M605.5 117.1h0M605.6 130.1h0M605.8 117.1h0M606 138.2h0.2M606.4 132.8h0.1M606.7 119.7h0M606.9 138.2h0M607.1 119.7h0M607.2 127.5h0.2M607.6 138.2h0M607.8 112h0.2M608.1 138.2h0M608.3 124.9h0M608.5 122.3h0M608.7 138.2h0M608.8 124.9h0M609 122.3h0M609.2 138.2h0.2M609.5 106.9h0M609.7 132.8h0.2M610.1 106.9h0M610.3 130.1h0.1M610.6 114.5h0.2M611 135.5h0.1M611.3 127.5h0.2M611.7 117.1h0.2M612 130.1h0M612.2 109.4h0.2M612.6 130.1h0M612.7 124.9h0M612.9 135.5h0.2M613.3 124.9h0M613.5 119.7h0.1M613.8 122.3h0.2M614.2 135.5h0.1M614.5 130.1h0M614.7 127.5h0M614.9 135.5h0M615 112h0M615.2 135.5h0M615.4 130.1h0M615.6 112h0M615.8 127.5h0M615.9 135.5h0.4M616.5 106.9h0.1M616.8 114.5h0M617 124.9h0.2M617.4 114.5h0M617.5 132.8h0.2M617.9 117.1h0M618.1 122.3h0.1M618.4 117.1h0M618.6 127.5h0.2M618.9 119.7h0.2M619.3 132.8h0.2M619.7 109.4h0.1M620 124.9h0M620.2 132.8h0M620.4 124.9h0M620.5 132.8h0M620.7 104.4h0M620.9 127.5h0M621.1 104.4h0M621.3 127.5h0M621.4 112h0.2M621.8 132.8h0.2M622.1 122.3h0.2M622.5 132.8h0.2M622.9 114.5h0.1M623.2 132.8h0.2M623.6 119.7h0.1M623.9 130.1h0.2M624.3 117.1h0.1M624.6 124.9h0M624.8 106.9h0M625 124.9h0M625.2 106.9h0M625.3 130.1h0.2M625.7 109.4h0.2M626 122.3h0.2M626.4 124.9h0.2M626.8 130.1h0.1M627.1 119.7h0.2M627.5 112h0.1M627.8 114.5h0M628 104.4h0M628.2 130.1h0M628.3 117.1h0M628.5 104.4h0M628.7 130.1h0M628.9 114.5h0M629.1 117.1h0M629.2 130.1h0.2M629.6 127.5h0.2M629.9 122.3h0.2M630.3 130.1h0.4M630.8 106.9h0.2M631.2 127.5h0.2M631.5 119.7h0.2M631.9 109.4h0.2M632.3 101.9h0M632.4 122.3h0.2M632.8 101.9h0M633 117.1h0.1M633.3 112h0.2M633.7 114.5h0M633.8 127.5h0M634 114.5h0M634.2 127.5h0.4M634.7 104.4h0M634.9 119.7h0.2M635.3 104.4h0M635.4 124.9h0.2M635.8 127.5h0.7M636.7 117.1h0M636.9 106.9h0.1M637.2 127.5h0M637.4 117.1h0M637.6 124.9h0.1M637.9 114.5h0M638.1 109.4h0.2M638.5 114.5h0M638.6 119.7h0.2M639 112h0.2M639.3 101.9h0M639.5 124.9h0M639.7 101.9h0M639.9 124.9h0M640.1 117.1h0.1M640.4 122.3h0.2M640.8 124.9h0.1M641.1 104.4h0.2M641.5 114.5h0.1M641.8 124.9h0.2M642.2 106.9h0.2M642.5 112h0.2M642.9 109.4h0.2M643.2 124.9h0.2M643.6 122.3h0.2M644 124.9h0.1M644.3 99.5h0M644.5 117.1h0M644.7 99.5h0M644.8 124.9h0M645 117.1h0M645.2 122.3h0.2M645.6 114.5h0.1M645.9 101.9h0.2M646.3 119.7h0.1M646.6 122.3h0.2M647 104.4h0M647.1 112h0M647.3 104.4h0M647.5 112h0M647.7 109.4h0.2M648 106.9h0.2M648.4 122.3h0.2M648.7 114.5h0M648.9 119.7h0.2M649.3 114.5h0M649.5 122.3h0.1M649.8 99.5h0.2M650.2 122.3h0.5M650.9 112h0.1M651.2 119.7h0.2M651.6 101.9h0.2M651.9 117.1h0.2M652.3 109.4h0.2M652.6 104.4h0.2M653 106.9h0.2M653.4 119.7h0.1M653.7 97h0M653.9 112h0.2M654.2 97h0M654.4 119.7h0.2M654.8 117.1h0.2M655.1 119.7h0.2M655.5 109.4h0M655.7 99.5h0.1M656 109.4h0M656.2 119.7h0.2M656.5 117.1h0M656.7 119.7h0M656.9 106.9h0M657.1 101.9h0.2M657.4 119.7h0M657.6 106.9h0M657.8 117.1h0M658 119.7h0M658.1 104.4h0.2M658.5 114.5h0.2M658.9 117.1h0.1M659.2 109.4h0.2M659.6 114.5h0.1M659.9 97h0.2M660.3 117.1h0.1M660.6 106.9h0.2M661 99.5h0.2M661.3 104.4h0M661.5 117.1h0M661.7 104.4h0M661.9 117.1h0M662 101.9h0.2M662.4 114.5h0.2M662.8 112h0.1M663.1 117.1h0.9M664.2 94.6h0M664.4 106.9h0M664.5 114.5h0.2M664.9 94.6h0M665.1 106.9h0M665.2 112h0.2M665.6 104.4h0M665.8 97h0M665.9 104.4h0M666.1 97h0M666.3 114.5h0.2M666.7 99.5h0.1M667 101.9h0.2M667.4 114.5h0.1M667.7 109.4h0.2M668.1 112h0.2M668.4 114.5h0.2M668.8 104.4h0M669 114.5h0.1M669.3 104.4h0M669.5 114.5h0.2M669.8 112h0.2M670.2 94.6h0.2M670.6 114.5h0M670.7 101.9h0.2M671.1 109.4h0.2M671.4 97h0.2M671.8 99.5h0.2M672.2 112h0.1M672.5 106.9h0.2M672.9 109.4h0.1M673.2 112h0.2M673.6 92.1h0M673.7 101.9h0.2M674.1 92.1h0M674.3 112h0.2M674.6 94.6h0M674.8 99.5h0.2M675.2 94.6h0M675.3 112h0M675.5 109.4h0M675.7 112h0M675.9 97h0M676.1 109.4h0M676.2 97h0M676.4 106.9h0.2M676.8 112h0.5M677.5 109.4h0.2M677.8 104.4h0.2M678.2 106.9h0.2M678.5 99.5h0M678.7 109.4h0M678.9 99.5h0M679.1 109.4h0M679.2 92.1h0.2M679.6 97h0.2M680 94.6h0.1M680.3 109.4h0.2M680.7 106.9h0M680.8 104.4h0M681 106.9h0M681.2 104.4h0M681.4 109.4h0.5M682.1 101.9h0.2M682.4 109.4h0.4M683 106.9h0.1M683.3 104.4h0.2M683.7 89.7h0M683.9 97h0M684 89.7h0M684.2 97h0M684.4 94.6h0.2M684.7 92.1h0.2M685.1 106.9h0.2M685.5 101.9h0.1M685.8 106.9h0M686 104.4h0.2M686.3 106.9h0.4M686.9 99.5h0.2M687.2 106.9h0.2M687.6 104.4h0.2M687.9 94.6h0.2M688.3 106.9h0M688.5 89.7h0M688.6 106.9h0M688.8 89.7h0M689 101.9h0.2M689.4 92.1h0.1M689.7 106.9h0.2M690.1 104.4h0.1M690.4 99.5h0.2M690.8 101.9h0.2M691.1 104.4h0.2M691.5 97h0.2M691.8 87.3h0M692 92.1h0M692.2 104.4h0.2M692.5 92.1h0M692.7 87.3h0M692.9 89.7h0.2M693.3 101.9h0.1M693.6 99.5h0.2M694 104.4h1M695.2 97h0.2M695.6 101.9h0.1M695.9 99.5h0.2M696.3 94.6h0.2M696.6 101.9h0.2M697 89.7h0.2M697.3 87.3h0.2M697.7 101.9h0.2M698 97h0.2M698.4 99.5h0.2M698.8 101.9h0.1M699.1 94.6h0.2M699.5 101.9h0.1M699.8 99.5h0.2M700.2 101.9h0.2M700.5 92.1h0M700.7 97h0M700.9 101.9h0M701.1 92.1h0M701.2 101.9h0M701.4 97h0M701.6 84.9h0M701.8 87.3h0M701.9 84.9h0M702.1 87.3h0M702.3 99.5h0.2M702.7 94.6h0.1M703 97h0.2M703.4 99.5h0.1M703.7 92.1h0.2M704.1 99.5h0.2M704.4 89.7h0.2M704.8 97h0.2M705.1 84.9h0M705.3 99.5h0M705.5 94.6h0.2M705.9 84.9h0M706 99.5h0.9M707.1 97h0.2M707.4 92.1h0.2M707.8 94.6h0.2M708.2 97h0M708.3 89.7h0.2M708.7 97h0M708.9 87.3h0.1M709.2 82.6h0.2M709.6 97h0.2M709.9 92.1h0.2M710.3 94.6h0.2M710.6 97h0.6M711.3 89.7h0.2M711.7 94.6h0.2M712.1 97h0.5M712.8 92.1h0.1M713.1 87.3h0.2M713.5 84.9h0.2M713.8 94.6h0.2M714.2 89.7h0.2M714.5 92.1h0.2M714.9 94.6h0.2M715.2 87.3h0M715.4 94.6h0.2M715.8 87.3h0M716 92.1h0.1M716.3 94.6h0.2M716.7 84.9h0.1M717 89.7h0.2M717.4 82.6h0.2M717.7 94.6h0.7M718.6 92.1h0.2M719 87.3h0.2M719.3 89.7h0.2M719.7 92.1h0.2M720 84.9h0.2M720.4 82.6h0.2M720.7 92.1h0.2M721.1 89.7h0.2M721.5 87.3h0.1M721.8 92.1h0.7M722.7 89.7h0M722.9 84.9h0M723.1 92.1h0M723.2 84.9h0M723.4 89.7h0M723.6 92.1h0.2M723.9 87.3h0.2M724.3 82.6h0.2M724.6 89.7h0.2M725 80.2h0.2M725.4 84.9h0.1M725.7 87.3h0M725.9 89.7h0M726.1 87.3h0M726.2 89.7h0.4M726.8 82.6h0.2M727.1 87.3h0M727.3 89.7h0.2M727.7 87.3h0M727.8 84.9h0.2M728.2 89.7h0.2M728.6 80.2h0.1M728.9 89.7h0.4M729.4 87.3h0.2M729.8 82.6h0.2M730.1 84.9h0.2M730.5 87.3h0.2M730.9 80.2h0.1M731.2 87.3h0.2M731.6 77.8h0M731.7 84.9h0.2M732.1 77.8h0M732.3 82.6h0.2M732.6 87.3h0.9M733.7 84.9h0.2M734 87.3h0.2M734.4 80.2h0.2M734.8 82.6h0.1M735.1 77.8h0.2M735.5 84.9h0.5M736.2 82.6h0.2M736.5 80.2h0.2M736.9 84.9h0.2M737.2 77.8h0.2M737.6 84.9h0.2M738 82.6h0.1M738.3 84.9h0.2M738.7 80.2h0.1M739 84.9h0.2M739.4 75.5h0M739.5 84.9h0M739.7 75.5h0M739.9 82.6h0.2M740.3 77.8h0.1M740.6 80.2h0.2M741 82.6h0.1M741.3 75.5h0.2M741.7 82.6h0.2M742 80.2h0.2M742.4 82.6h0.2M742.7 77.8h0.2M743.1 82.6h0.9M744.2 80.2h0.1M744.5 75.5h0.2M744.9 77.8h0.1M745.2 80.2h0.2M745.6 73.2h0.2M745.9 80.2h0.2M746.3 77.8h0.2M746.6 75.5h0.2M747 80.2h0.5M747.7 77.8h0M747.9 73.2h0M748.1 77.8h0M748.2 73.2h0M748.4 80.2h0.4M748.9 75.5h0.2M749.3 80.2h0.2M749.7 77.8h0.1M750 73.2h0.2M750.4 75.5h0.1M750.7 77.8h0.6M751.4 70.9h0.2M751.8 75.5h0.2M752.1 77.8h0.2M752.5 73.2h0.2M752.8 77.8h0.9M753.9 75.5h0.2M754.3 70.9h0.1M754.6 73.2h0.2M755 75.5h0.5M755.7 73.2h0.2M756 70.9h0.2M756.4 75.5h0.5M757.1 73.2h0.2M757.5 68.6h0M757.6 75.5h0.2M758 68.6h0M758.2 75.5h0.3M758.7 70.9h0.2M759.1 73.2h0.1M759.4 68.6h0M759.6 73.2h0.2M759.9 70.9h0M760.1 68.6h0M760.3 70.9h0M760.5 73.2h0.2M760.8 70.9h0.2M761.2 73.2h0.2M761.5 68.6h0.2M761.9 73.2h0.9M763 70.9h0.1M763.3 66.3h0.2M763.7 68.6h0.1M764 70.9h0.6M764.7 68.6h0.2M765.1 66.3h0.2M765.4 70.9h0.6M766.1 68.6h0.2M766.5 70.9h0.7M767.4 66.3h0.2M767.7 68.6h0.6M768.5 66.3h0.1M768.8 64h0.2M769.2 68.6h0.3M769.7 66.3h0.2M770.1 68.6h0.1M770.4 64h0.2M770.8 68.6h0.7M771.6 66.3h0.2M772 64h0.2M772.4 66.3h0.5M773.1 64h0.1M773.4 61.7h0M773.6 66.3h0.2M774 61.7h0M774.1 66.3h0.2M774.5 64h0.2M774.8 66.3h0.7M775.7 61.7h0.2M776.1 64h0.5M776.8 61.7h0.2M777.1 64h0.6M777.9 61.7h0.1M778.2 64h0.2M778.6 59.5h0.1M778.9 64h0.6M779.6 61.7h0.2M780 59.5h0.2M780.3 61.7h0.6M781 59.5h0.2M781.4 61.7h0.9M782.5 59.5h0.1M782.8 61.7h0.4M783.4 57.2h0.1M783.7 59.5h0.5M784.4 57.2h0.2M784.8 59.5h0.5M785.5 57.2h0.2M785.8 59.5h0.9M786.9 57.2h0.2M787.3 55h0M787.4 57.2h0M787.6 55h0M787.8 57.2h0.3M788.3 55h0.2M788.7 57.2h0.9M789.7 55h0.2M790.1 57.2h0.3M790.6 55h0.6M791.3 52.7h0.2M791.7 55h0.5M792.4 52.7h0.2M792.8 55h0.8M793.8 52.7h0.9M794.9 50.5h0.2M795.2 52.7h0.9M796.3 50.5h0M796.5 52.7h0M796.7 50.5h0M796.8 52.7h0.2M797.2 50.5h1.2M798.6 48.3h0.2M799 50.5h0.8M800 48.3h2.3M802.5 46.1h0.2M802.9 48.3h0M803 46.1h2.3M805.5 43.9h2.5M808.2 41.8h1.4"/>
<path class="d" stroke="#ffa000" d="M100.4 482.2h0M100.6 463.2h0.1M100.9 163.4h0M101.1 448.6h0M101.3 163.4h0M101.4 448.6h0.2M101.8 436.3h0M102 166.3h0M102.2 160.5h0M102.3 436.3h0M102.5 160.5h0M102.7 436.3h0M102.9 166.3h0M103 436.3h0M103.2 425.4h0M103.4 169.2h0M103.6 14.3h0M103.7 157.6h0M103.9 425.4h0.4M104.5 163.4h0.1M104.8 157.6h0M105 425.4h0M105.2 169.2h0M105.3 172.2h0M105.5 415.6h0M105.7 154.8h0M105.9 16.4h0M106.1 154.8h0M106.2 415.6h0M106.4 172.2h0M106.6 415.6h0.2M106.9 166.3h0M107.1 16.4h0M107.3 160.5h0M107.5 415.6h0M107.6 160.5h0M107.8 166.3h0M108 415.6h0M108.2 175.1h0M108.4 406.6h0M108.5 152h0M108.7 18.4h0M108.9 406.6h0M109.1 157.6h0M109.2 169.2h0M109.4 152h0M109.6 406.6h0M109.8 175.1h0M110 169.2h0M110.1 406.6h0M110.3 157.6h0M110.5 18.4h0M110.7 406.6h0.1M111 163.4h0M111.2 18.4h0M111.4 163.4h0M111.6 406.6h0M111.7 398.2h0M111.9 178.1h0M112.1 20.5h0M112.3 149.2h0M112.4 398.2h0.2M112.8 160.5h0M113 20.5h0M113.1 166.3h0M113.3 398.2h0M113.5 154.8h0M113.7 172.2h0.2M114 398.2h0M114.2 154.8h0M114.4 20.5h0M114.6 398.2h0M114.7 166.3h0M114.9 398.2h0M115.1 160.5h0M115.3 20.5h0M115.5 149.2h0M115.6 398.2h0M115.8 178.1h0M116 390.3h0M116.2 181.2h0M116.3 22.6h0M116.5 146.4h0M116.7 390.3h0.2M117 163.4h0M117.2 390.3h0M117.4 163.4h0M117.6 22.6h0M117.8 390.3h0M117.9 157.6h0M118.1 22.6h0M118.3 169.2h0M118.5 390.3h0M118.6 175.1h0M118.8 22.6h0M119 152h0M119.2 146.4h0M119.4 390.3h0M119.5 181.2h0M119.7 169.2h0M119.9 390.3h0M120.1 157.6h0M120.2 22.6h0M120.4 390.3h0M120.6 152h0M120.8 175.1h0M120.9 184.2h0M121.1 382.8h0M121.3 143.6h0M121.5 24.7h0M121.7 143.6h0M121.8 382.8h0M122 184.2h0M122.2 382.8h0M122.4 166.3h0M122.5 382.8h0M122.7 160.5h0M122.9 24.7h0M123.1 160.5h0M123.3 382.8h0M123.4 166.3h0M123.6 24.7h0M123.8 382.8h0M124 178.1h0M124.1 24.7h0M124.3 149.2h0M124.5 382.8h0M124.7 149.2h0M124.9 178.1h0M125 382.8h0.2M125.4 172.2h0M125.6 24.7h0M125.7 154.8h0M125.9 382.8h0M126.1 154.8h0M126.3 24.7h0M126.4 172.2h0M126.6 187.3h0M126.8 375.8h0M127 140.9h0M127.2 26.8h0M127.3 375.8h0M127.5 146.4h0M127.7 181.2h0M127.9 140.9h0M128 375.8h0M128.2 187.3h0M128.4 375.8h0M128.6 169.2h0M128.8 26.8h0M128.9 157.6h0M129.1 163.4h0M129.3 375.8h0M129.5 163.4h0M129.6 26.8h0M129.8 181.2h0M130 375.8h0M130.2 146.4h0M130.3 26.8h0M130.5 375.8h0M130.7 152h0M130.9 26.8h0M131.1 175.1h0M131.2 375.8h0.2M131.6 175.1h0M131.8 26.8h0M131.9 152h0M132.1 157.6h0M132.3 375.8h0M132.5 169.2h0M132.7 26.8h0M132.8 375.8h0M133 369h0M133.2 190.4h0M133.4 28.9h0M133.5 138.2h0M133.7 369h0M133.9 149.2h0M134.1 28.9h0M134.3 178.1h0M134.4 369h0M134.6 143.6h0M134.8 184.2h0M135 369h0M135.1 172.2h0M135.3 28.9h0M135.5 154.8h0M135.7 369h0M135.8 166.3h0M136 28.9h0M136.2 160.5h0M136.4 369h0M136.6 184.2h0M136.7 369h0M136.9 143.6h0M137.1 28.9h0M137.3 154.8h0M137.4 369h0M137.6 172.2h0M137.8 28.9h0M138 138.2h0M138.2 369h0M138.3 190.4h0M138.5 178.1h0M138.7 369h0M138.9 149.2h0M139 28.9h0M139.2 160.5h0M139.4 369h0M139.6 166.3h0M139.7 28.9h0M139.9 369h0M140.1 362.5h0M140.3 193.6h0M140.5 31h0M140.6 135.5h0M140.8 152h0M141 362.5h0M141.2 175.1h0M141.3 31h0M141.5 362.5h0M141.7 146.4h0M141.9 31h0M142.1 181.2h0M142.2 175.1h0M142.4 362.5h0M142.6 152h0M142.8 31h0M142.9 362.5h0.2M143.3 169.2h0M143.5 31h0M143.7 157.6h0M143.8 362.5h0.2M144.2 187.3h0M144.4 31h0M144.5 140.9h0M144.7 157.6h0M144.9 362.5h0M145.1 169.2h0M145.2 31h0M145.4 362.5h0M145.6 140.9h0M145.8 187.3h0M146 181.2h0M146.1 362.5h0M146.3 146.4h0M146.5 31h0M146.7 362.5h0M146.8 163.4h0M147 31h0M147.2 163.4h0M147.4 135.5h0M147.6 362.5h0M147.7 193.6h0M147.9 196.7h0M148.1 356.2h0M148.3 132.8h0M148.4 33.1h0M148.6 154.8h0M148.8 356.2h0M149 172.2h0M149.1 33.1h0M149.3 149.2h0M149.5 356.2h0M149.7 178.1h0M149.9 33.1h0M150 178.1h0M150.2 356.2h0M150.4 149.2h0M150.6 33.1h0M150.7 356.2h0M150.9 172.2h0M151.1 356.2h0M151.3 154.8h0M151.5 33.1h0M151.6 132.8h0M151.8 356.2h0M152 196.7h0M152.2 356.2h0M152.3 190.4h0M152.5 33.1h0M152.7 138.2h0M152.9 356.2h0M153.1 160.5h0M153.2 33.1h0M153.4 166.3h0M153.6 356.2h0M153.8 143.6h0M153.9 33.1h0M154.1 184.2h0M154.3 356.2h0M154.5 184.2h0M154.6 33.1h0M154.8 143.6h0M155 356.2h0.2M155.4 166.3h0M155.5 33.1h0M155.7 160.5h0M155.9 356.2h0M156.1 138.2h0M156.2 190.4h0M156.4 199.9h0M156.6 350.2h0M156.8 130.1h0M157 35.3h0M157.1 350.2h0M157.3 157.6h0M157.5 35.3h0M157.7 169.2h0M157.8 152h0M158 350.2h0M158.2 175.1h0M158.4 35.3h0M158.5 350.2h0M158.7 181.2h0M158.9 35.3h0M159.1 146.4h0M159.3 130.1h0M159.4 350.2h0M159.6 199.9h0M159.8 175.1h0M160 350.2h0M160.1 152h0M160.3 35.3h0M160.5 350.2h0M160.7 135.5h0M160.9 193.6h0.1M161.2 350.2h0M161.4 135.5h0M161.6 35.3h0M161.7 350.2h0.2M162.1 163.4h0M162.3 35.3h0M162.4 163.4h0M162.6 146.4h0M162.8 350.2h0M163 181.2h0M163.2 35.3h0M163.3 350.2h0M163.5 187.3h0M163.7 35.3h0M163.9 140.9h0M164 350.2h0M164.2 169.2h0M164.4 350.2h0M164.6 157.6h0M164.8 35.3h0M164.9 350.2h0M165.1 140.9h0M165.3 35.3h0M165.5 187.3h0M165.6 344.3h0M165.8 203.2h0M166 37.4h0M166.2 127.5h0M166.4 344.3h0.1M166.7 160.5h0M166.9 37.4h0M167.1 166.3h0M167.2 344.3h0M167.4 154.8h0M167.6 37.4h0M167.8 172.2h0M167.9 344.3h0M168.1 184.2h0M168.3 37.4h0M168.5 143.6h0M168.7 344.3h0M168.8 132.8h0M169 196.7h0M169.2 344.3h0M169.4 178.1h0M169.5 37.4h0M169.7 149.2h0M169.9 344.3h0M170.1 138.2h0M170.3 37.4h0M170.4 190.4h0M170.6 196.7h0M170.8 344.3h0M171 132.8h0M171.1 37.4h0M171.3 344.3h0M171.5 166.3h0M171.7 344.3h0M171.8 160.5h0M172 37.4h0M172.2 149.2h0M172.4 344.3h0M172.6 178.1h0M172.7 37.4h0M172.9 190.4h0M173.1 344.3h0M173.3 138.2h0M173.4 37.4h0M173.6 127.5h0M173.8 344.3h0M174 203.2h0M174.2 172.2h0M174.3 344.3h0M174.5 154.8h0M174.7 37.4h0M174.9 143.6h0M175 344.3h0M175.2 184.2h0M175.4 37.4h0M175.6 338.7h0M175.8 206.4h0M175.9 39.6h0M176.1 124.9h0M176.3 338.7h0.2M176.6 163.4h0M176.8 338.7h0M177 163.4h0M177.2 39.6h0M177.3 338.7h0M177.5 157.6h0M177.7 39.6h0M177.9 169.2h0M178.1 187.3h0M178.2 338.7h0M178.4 140.9h0M178.6 39.6h0M178.8 338.7h0M178.9 135.5h0M179.1 39.6h0M179.3 193.6h0M179.5 338.7h0M179.7 181.2h0M179.8 39.6h0M180 146.4h0M180.2 140.9h0M180.4 338.7h0M180.5 187.3h0M180.7 39.6h0M180.9 338.7h0M181.1 199.9h0M181.2 39.6h0M181.4 130.1h0M181.6 124.9h0M181.8 338.7h0M182 206.4h0M182.1 169.2h0M182.3 338.7h0M182.5 157.6h0M182.7 39.6h0M182.8 338.7h0M183 152h0M183.2 39.6h0M183.4 175.1h0M183.6 193.6h0M183.7 338.7h0M183.9 135.5h0M184.1 39.6h0M184.3 338.7h0M184.4 130.1h0M184.6 199.9h0M184.8 338.7h0M185 175.1h0M185.2 39.6h0M185.3 152h0M185.5 146.4h0M185.7 338.7h0M185.9 181.2h0M186 39.6h0M186.2 209.7h0M186.4 333.2h0M186.6 122.3h0M186.7 41.8h0M186.9 122.3h0M187.1 333.2h0M187.3 209.7h0M187.5 333.2h0M187.6 166.3h0M187.8 333.2h0M188 160.5h0M188.2 41.8h0M188.3 160.5h0M188.5 333.2h0M188.7 166.3h0M188.9 41.8h0M189.1 190.4h0M189.2 333.2h0M189.4 138.2h0M189.6 41.8h0M189.8 138.2h0M189.9 333.2h0M190.1 190.4h0M190.3 41.8h0M190.5 184.2h0M190.6 333.2h0M190.8 143.6h0M191 41.8h0M191.2 143.6h0M191.4 333.2h0M191.5 184.2h0M191.7 41.8h0M191.9 333.2h0M192.1 203.2h0M192.2 41.8h0M192.4 127.5h0M192.6 333.2h0M192.8 127.5h0M193 203.2h0M193.1 333.2h0.2M193.5 172.2h0M193.7 41.8h0M193.8 154.8h0M194 333.2h0M194.2 154.8h0M194.4 41.8h0M194.6 172.2h0M194.7 333.2h0M194.9 196.7h0M195.1 41.8h0M195.3 132.8h0M195.4 333.2h0M195.6 132.8h0M195.8 41.8h0M196 196.7h0M196.1 333.2h0M196.3 178.1h0M196.5 41.8h0M196.7 149.2h0M196.9 333.2h0M197 149.2h0M197.2 41.8h0M197.4 178.1h0M197.6 213.1h0M197.7 327.8h0M197.9 119.7h0M198.1 43.9h0M198.3 327.8h0M198.5 124.9h0M198.6 206.4h0M198.8 119.7h0M199 327.8h0M199.2 213.1h0M199.3 327.8h0M199.5 169.2h0M199.7 43.9h0M199.9 157.6h0M200 163.4h0M200.2 327.8h0M200.4 163.4h0M200.6 43.9h0M200.8 327.8h0M200.9 193.6h0M201.1 43.9h0M201.3 135.5h0M201.5 140.9h0M201.6 327.8h0M201.8 187.3h0M202 43.9h0M202.2 187.3h0M202.4 327.8h0M202.5 140.9h0M202.7 43.9h0M202.9 327.8h0M203.1 146.4h0M203.2 43.9h0M203.4 181.2h0M203.6 206.4h0M203.8 327.8h0M203.9 124.9h0M204.1 43.9h0M204.3 327.8h0M204.5 130.1h0M204.7 43.9h0M204.8 199.9h0M205 327.8h0.2M205.4 175.1h0M205.5 43.9h0M205.7 152h0M205.9 157.6h0M206.1 327.8h0M206.3 169.2h0M206.4 43.9h0M206.6 327.8h0M206.8 199.9h0M207 43.9h0M207.1 130.1h0M207.3 135.5h0M207.5 327.8h0M207.7 193.6h0M207.9 43.9h0M208 327.8h0M208.2 181.2h0M208.4 327.8h0M208.6 146.4h0M208.7 43.9h0M208.9 327.8h0M209.1 152h0M209.3 43.9h0M209.4 175.1h0M209.6 322.6h0M209.8 216.5h0M210 46.1h0M210.2 117.1h0M210.3 322.6h0M210.5 127.5h0M210.7 46.1h0M210.9 203.2h0M211 322.6h0M211.2 122.3h0M211.4 209.7h0M211.6 322.6h0M211.8 172.2h0M211.9 46.1h0M212.1 154.8h0M212.3 322.6h0M212.5 166.3h0M212.6 46.1h0M212.8 160.5h0M213 322.6h0M213.2 196.7h0M213.3 46.1h0M213.5 132.8h0M213.7 322.6h0M213.9 143.6h0M214.1 46.1h0M214.2 184.2h0M214.4 322.6h0.2M214.8 190.4h0M214.9 46.1h0M215.1 138.2h0M215.3 322.6h0M215.5 149.2h0M215.7 46.1h0M215.8 178.1h0M216 209.7h0M216.2 322.6h0M216.4 122.3h0M216.5 46.1h0M216.7 132.8h0M216.9 322.6h0M217.1 196.7h0M217.3 46.1h0M217.4 117.1h0M217.6 322.6h0M217.8 216.5h0M218 178.1h0M218.1 322.6h0M218.3 149.2h0M218.5 46.1h0M218.7 160.5h0M218.8 322.6h0M219 166.3h0M219.2 46.1h0M219.4 203.2h0M219.6 322.6h0M219.7 127.5h0M219.9 46.1h0M220.1 138.2h0M220.3 322.6h0M220.4 190.4h0M220.6 46.1h0M220.8 322.6h0M221 184.2h0M221.2 322.6h0M221.3 143.6h0M221.5 46.1h0M221.7 154.8h0M221.9 322.6h0M222 172.2h0M222.2 46.1h0M222.4 317.6h0M222.6 219.9h0M222.7 48.3h0M222.9 114.5h0M223.1 130.1h0M223.3 317.6h0M223.5 199.9h0M223.6 48.3h0M223.8 317.6h0M224 124.9h0M224.2 48.3h0M224.3 206.4h0M224.5 175.1h0M224.7 317.6h0M224.9 152h0M225.1 48.3h0M225.2 317.6h0M225.4 169.2h0M225.6 48.3h0M225.8 157.6h0M225.9 199.9h0M226.1 317.6h0M226.3 130.1h0M226.5 48.3h0M226.7 317.6h0M226.8 146.4h0M227 48.3h0M227.2 181.2h0M227.4 317.6h0.1M227.7 193.6h0M227.9 48.3h0M228.1 135.5h0M228.2 152h0M228.4 317.6h0M228.6 175.1h0M228.8 48.3h0M229 317.6h0.1M229.3 213.1h0M229.5 48.3h0M229.7 119.7h0M229.8 135.5h0M230 317.6h0M230.2 193.6h0M230.4 48.3h0M230.6 317.6h0M230.7 119.7h0M230.9 213.1h0M231.1 181.2h0M231.3 317.6h0M231.4 146.4h0M231.6 48.3h0M231.8 317.6h0M232 163.4h0M232.1 48.3h0M232.3 163.4h0M232.5 206.4h0M232.7 317.6h0M232.9 124.9h0M233 48.3h0M233.2 317.6h0M233.4 140.9h0M233.6 48.3h0M233.7 187.3h0M233.9 114.5h0M234.1 317.6h0M234.3 219.9h0M234.5 317.6h0M234.6 187.3h0M234.8 48.3h0M235 140.9h0M235.2 157.6h0M235.3 317.6h0M235.5 169.2h0M235.7 48.3h0M235.9 223.3h0M236.1 312.6h0M236.2 112h0M236.4 50.5h0M236.6 132.8h0M236.8 312.6h0M236.9 196.7h0M237.1 50.5h0M237.3 127.5h0M237.5 312.6h0M237.6 203.2h0M237.8 50.5h0M238 178.1h0M238.2 312.6h0M238.4 149.2h0M238.5 50.5h0M238.7 172.2h0M238.9 312.6h0M239.1 154.8h0M239.2 50.5h0M239.4 203.2h0M239.6 312.6h0M239.8 127.5h0M240 50.5h0M240.1 149.2h0M240.3 312.6h0M240.5 178.1h0M240.7 50.5h0M240.8 112h0M241 312.6h0M241.2 223.3h0M241.4 196.7h0M241.5 312.6h0M241.7 132.8h0M241.9 50.5h0M242.1 154.8h0M242.3 312.6h0M242.4 172.2h0M242.6 50.5h0M242.8 312.6h0.2M243.1 216.5h0M243.3 50.5h0M243.5 117.1h0M243.7 312.6h0M243.9 138.2h0M244 50.5h0M244.2 190.4h0M244.4 312.6h0M244.6 122.3h0M244.7 50.5h0M244.9 209.7h0M245.1 312.6h0M245.3 184.2h0M245.4 50.5h0M245.6 143.6h0M245.8 312.6h0M246 166.3h0M246.2 50.5h0M246.3 160.5h0M246.5 312.6h0M246.7 209.7h0M246.9 50.5h0M247 122.3h0M247.2 312.6h0M247.4 143.6h0M247.6 50.5h0M247.8 184.2h0M247.9 312.6h0M248.1 117.1h0M248.3 216.5h0M248.5 312.6h0M248.6 190.4h0M248.8 50.5h0M249 138.2h0M249.2 312.6h0M249.4 160.5h0M249.5 50.5h0M249.7 166.3h0M249.9 312.6h0M250.1 226.8h0M250.2 307.8h0M250.4 109.4h0M250.6 52.7h0M250.8 307.8h0M250.9 135.5h0M251.1 52.7h0M251.3 193.6h0M251.5 130.1h0M251.7 307.8h0M251.8 199.9h0M252 52.7h0M252.2 307.8h0M252.4 181.2h0M252.5 52.7h0M252.7 146.4h0M252.9 175.1h0M253.1 307.8h0M253.3 152h0M253.4 52.7h0M253.6 307.8h0M253.8 206.4h0M254 52.7h0M254.1 124.9h0M254.3 152h0M254.5 307.8h0M254.7 175.1h0M254.8 52.7h0M255 307.8h0M255.2 114.5h0M255.4 219.9h0M255.6 199.9h0M255.7 307.8h0M255.9 130.1h0M256.1 52.7h0M256.3 307.8h0M256.4 157.6h0M256.6 52.7h0M256.8 169.2h0M257 109.4h0M257.2 307.8h0M257.3 226.8h0M257.5 219.9h0M257.7 307.8h0M257.9 114.5h0M258 52.7h0M258.2 307.8h0M258.4 140.9h0M258.6 52.7h0M258.8 187.3h0M258.9 124.9h0M259.1 307.8h0M259.3 206.4h0M259.5 52.7h0M259.6 307.8h0M259.8 187.3h0M260 52.7h0M260.2 140.9h0M260.3 169.2h0M260.5 307.8h0M260.7 157.6h0M260.9 52.7h0M261.1 307.8h0.1M261.4 213.1h0M261.6 52.7h0M261.8 119.7h0M261.9 146.4h0M262.1 307.8h0M262.3 181.2h0M262.5 52.7h0M262.7 307.8h0M262.8 119.7h0M263 52.7h0M263.2 213.1h0M263.4 193.6h0M263.5 307.8h0M263.7 135.5h0M263.9 52.7h0M264.1 307.8h0M264.2 163.4h0M264.4 52.7h0M264.6 163.4h0M264.8 307.8h0M265 303h0M265.1 230.3h0M265.3 55h0M265.5 106.9h0M265.7 303h0M265.8 138.2h0M266 55h0M266.2 190.4h0M266.4 303h0M266.6 132.8h0M266.7 55h0M266.9 196.7h0M267.1 303h0M267.3 184.2h0M267.4 55h0M267.6 143.6h0M267.8 303h0M268 178.1h0M268.2 55h0M268.3 149.2h0M268.5 303h0.2M268.9 209.7h0M269 55h0M269.2 122.3h0M269.4 303h0M269.6 154.8h0M269.7 55h0M269.9 172.2h0M270.1 303h0M270.3 117.1h0M270.5 55h0M270.6 216.5h0M270.8 303h0M271 203.2h0M271.2 55h0M271.3 127.5h0M271.5 303h0M271.7 160.5h0M271.9 55h0M272.1 166.3h0M272.2 303h0M272.4 112h0M272.6 223.3h0.2M272.9 303h0M273.1 112h0M273.3 55h0M273.5 143.6h0M273.6 303h0M273.8 184.2h0M274 55h0M274.2 127.5h0M274.4 303h0M274.5 203.2h0M274.7 55h0M274.9 190.4h0M275.1 303h0M275.2 138.2h0M275.4 55h0M275.6 172.2h0M275.8 303h0M276 154.8h0M276.1 55h0M276.3 303h0M276.5 216.5h0M276.7 303h0M276.8 117.1h0M277 55h0M277.2 149.2h0M277.4 303h0M277.6 178.1h0M277.7 55h0M277.9 122.3h0M278.1 303h0M278.3 209.7h0M278.4 55h0M278.6 196.7h0M278.8 303h0M279 132.8h0M279.1 55h0M279.3 166.3h0M279.5 303h0M279.7 160.5h0M279.9 55h0M280 106.9h0M280.2 303h0M280.4 230.3h0M280.6 298.4h0M280.7 233.9h0M280.9 57.2h0M281.1 104.4h0M281.3 140.9h0M281.5 298.4h0M281.6 187.3h0M281.8 57.2h0M282 298.4h0M282.2 135.5h0M282.3 57.2h0M282.5 193.6h0M282.7 187.3h0M282.9 298.4h0M283 140.9h0M283.2 57.2h0M283.4 298.4h0.2M283.8 181.2h0M283.9 57.2h0M284.1 146.4h0M284.3 298.4h0M284.5 213.1h0M284.6 298.4h0M284.8 119.7h0M285 57.2h0M285.2 298.4h0M285.4 157.6h0M285.5 57.2h0M285.7 169.2h0M285.9 119.7h0M286.1 298.4h0M286.2 213.1h0M286.4 57.2h0M286.6 298.4h0M286.8 206.4h0M286.9 57.2h0M287.1 124.9h0M287.3 163.4h0M287.5 298.4h0M287.7 163.4h0M287.8 57.2h0M288 298.4h0M288.2 114.5h0M288.4 57.2h0M288.5 219.9h0M288.7 298.4h0M288.9 226.8h0M289.1 57.2h0M289.3 109.4h0M289.4 146.4h0M289.6 298.4h0M289.8 181.2h0M290 57.2h0M290.1 298.4h0M290.3 130.1h0M290.5 57.2h0M290.7 199.9h0M290.9 193.6h0M291 298.4h0M291.2 135.5h0M291.4 57.2h0M291.6 298.4h0M291.7 175.1h0M291.9 57.2h0M292.1 152h0M292.3 104.4h0M292.4 298.4h0M292.6 233.9h0M292.8 219.9h0M293 298.4h0M293.2 114.5h0M293.3 57.2h0M293.5 298.4h0M293.7 152h0M293.9 57.2h0M294 175.1h0M294.2 124.9h0M294.4 298.4h0M294.6 206.4h0M294.8 57.2h0M294.9 298.4h0M295.1 199.9h0M295.3 57.2h0M295.5 130.1h0M295.6 169.2h0M295.8 298.4h0M296 157.6h0M296.2 57.2h0M296.3 298.4h0M296.5 109.4h0M296.7 226.8h0M296.9 237.5h0M297.1 293.8h0M297.2 101.9h0M297.4 59.5h0M297.6 143.6h0M297.8 293.8h0M297.9 184.2h0M298.1 59.5h0M298.3 138.2h0M298.5 293.8h0M298.7 190.4h0M298.8 59.5h0M299 190.4h0M299.2 293.8h0M299.4 138.2h0M299.5 59.5h0M299.7 293.8h0M299.9 184.2h0M300.1 293.8h0M300.3 143.6h0M300.4 59.5h0M300.6 101.9h0M300.8 293.8h0M301 237.5h0M301.1 216.5h0M301.3 293.8h0M301.5 117.1h0M301.7 59.5h0M301.8 160.5h0M302 293.8h0M302.2 166.3h0M302.4 59.5h0M302.6 122.3h0M302.7 293.8h0M302.9 209.7h0M303.1 59.5h0M303.3 209.7h0M303.4 293.8h0M303.6 122.3h0M303.8 59.5h0M304 166.3h0M304.2 293.8h0M304.3 160.5h0M304.5 59.5h0M304.7 117.1h0M304.9 293.8h0M305 216.5h0M305.2 59.5h0M305.4 293.8h0M305.6 230.3h0M305.7 59.5h0M305.9 106.9h0M306.1 293.8h0M306.3 149.2h0M306.5 59.5h0M306.6 178.1h0M306.8 293.8h0M307 132.8h0M307.2 59.5h0M307.3 196.7h0M307.5 293.8h0M307.7 196.7h0M307.9 59.5h0M308.1 132.8h0M308.2 293.8h0.2M308.6 178.1h0M308.8 59.5h0M308.9 149.2h0M309.1 293.8h0M309.3 106.9h0M309.5 230.3h0M309.7 293.8h0M309.8 223.3h0M310 59.5h0M310.2 112h0M310.4 293.8h0M310.5 154.8h0M310.7 59.5h0M310.9 172.2h0M311.1 293.8h0M311.2 127.5h0M311.4 59.5h0M311.6 203.2h0M311.8 293.8h0M312 203.2h0M312.1 59.5h0M312.3 127.5h0M312.5 293.8h0M312.7 172.2h0M312.8 59.5h0M313 154.8h0M313.2 293.8h0M313.4 112h0M313.6 59.5h0M313.7 223.3h0M313.9 241.2h0M314.1 289.4h0M314.3 99.5h0M314.4 61.7h0M314.6 289.4h0M314.8 146.4h0M315 61.7h0M315.1 181.2h0M315.3 140.9h0M315.5 289.4h0M315.7 187.3h0M315.9 61.7h0M316 289.4h0M316.2 193.6h0M316.4 61.7h0M316.6 135.5h0M316.7 99.5h0M316.9 289.4h0M317.1 241.2h0M317.3 187.3h0M317.5 289.4h0M317.6 140.9h0M317.8 61.7h0M318 289.4h0M318.2 104.4h0M318.3 233.9h0M318.5 289.4h0M318.7 219.9h0M318.9 61.7h0M319 114.5h0M319.2 163.4h0M319.4 289.4h0M319.6 163.4h0M319.8 61.7h0M319.9 289.4h0M320.1 124.9h0M320.3 61.7h0M320.5 206.4h0M320.6 213.1h0M320.8 289.4h0M321 119.7h0M321.2 61.7h0M321.4 289.4h0M321.5 169.2h0M321.7 61.7h0M321.9 157.6h0M322.1 119.7h0M322.2 289.4h0M322.4 213.1h0M322.6 61.7h0M322.8 233.9h0M323 289.4h0M323.1 104.4h0M323.3 61.7h0M323.5 289.4h0M323.7 152h0M323.8 61.7h0M324 175.1h0M324.2 135.5h0M324.4 289.4h0M324.5 193.6h0M324.7 61.7h0M324.9 289.4h0M325.1 199.9h0M325.3 61.7h0M325.4 130.1h0M325.6 289.4h0M325.8 181.2h0M326 289.4h0M326.1 146.4h0M326.3 61.7h0M326.5 289.4h0M326.7 109.4h0M326.9 61.7h0M327 226.8h0M327.2 289.4h0M327.4 226.8h0M327.6 61.7h0M327.7 109.4h0M327.9 157.6h0M328.1 289.4h0M328.3 169.2h0M328.4 61.7h0M328.6 289.4h0M328.8 130.1h0M329 61.7h0M329.2 199.9h0M329.3 206.4h0M329.5 289.4h0M329.7 124.9h0M329.9 61.7h0M330 289.4h0.2M330.4 175.1h0M330.6 61.7h0M330.8 152h0M330.9 114.5h0M331.1 289.4h0M331.3 219.9h0M331.5 61.7h0M331.6 285h0M331.8 244.9h0M332 64h0M332.2 97h0M332.4 285h0M332.5 149.2h0M332.7 64h0M332.9 178.1h0M333.1 285h0M333.2 143.6h0M333.4 64h0M333.6 184.2h0M333.8 285h0M333.9 196.7h0M334.1 64h0M334.3 132.8h0M334.5 285h0M334.7 101.9h0M334.8 237.5h0M335 285h0M335.2 190.4h0M335.4 64h0M335.5 138.2h0M335.7 285h0M335.9 106.9h0M336.1 64h0M336.3 230.3h0M336.4 285h0M336.6 223.3h0M336.8 64h0M337 112h0M337.1 285h0M337.3 166.3h0M337.5 64h0M337.7 160.5h0M337.8 285h0M338 127.5h0M338.2 64h0M338.4 203.2h0M338.6 285h0M338.7 216.5h0M338.9 64h0M339.1 117.1h0M339.3 285h0.1M339.6 172.2h0M339.8 64h0M340 154.8h0M340.2 285h0M340.3 122.3h0M340.5 64h0M340.7 209.7h0M340.9 237.5h0M341 285h0M341.2 101.9h0M341.4 64h0M341.6 154.8h0M341.8 285h0M341.9 172.2h0M342.1 64h0M342.3 138.2h0M342.5 285h0M342.6 190.4h0M342.8 64h0M343 203.2h0M343.2 285h0M343.3 127.5h0M343.5 64h0M343.7 97h0M343.9 285h0M344.1 244.9h0M344.2 184.2h0M344.4 285h0M344.6 143.6h0M344.8 64h0M344.9 112h0M345.1 285h0M345.3 223.3h0M345.5 64h0M345.7 230.3h0M345.8 285h0M346 106.9h0M346.2 64h0M346.4 160.5h0M346.5 285h0M346.7 166.3h0M346.9 64h0M347.1 132.8h0M347.2 285h0M347.4 196.7h0M347.6 64h0M347.8 209.7h0M348 285h0M348.1 122.3h0M348.3 64h0M348.5 285h0M348.7 178.1h0M348.8 285h0M349 149.2h0M349.2 64h0M349.4 117.1h0M349.6 285h0M349.7 216.5h0M349.9 64h0M350.1 280.7h0M350.3 248.6h0M350.4 66.3h0M350.6 94.6h0M350.8 152h0M351 280.7h0M351.2 175.1h0M351.3 66.3h0M351.5 280.7h0M351.7 146.4h0M351.9 66.3h0M352 181.2h0M352.2 199.9h0M352.4 280.7h0M352.6 130.1h0M352.7 66.3h0M352.9 280.7h0M353.1 104.4h0M353.3 66.3h0M353.5 233.9h0M353.6 280.7h0M353.8 193.6h0M354 66.3h0M354.2 135.5h0M354.3 109.4h0M354.5 280.7h0M354.7 226.8h0M354.9 66.3h0M355.1 226.8h0M355.2 280.7h0M355.4 109.4h0M355.6 66.3h0M355.8 280.7h0.1M356.1 169.2h0M356.3 66.3h0M356.5 157.6h0M356.6 130.1h0M356.8 280.7h0M357 199.9h0M357.2 66.3h0M357.4 280.7h0M357.5 219.9h0M357.7 66.3h0M357.9 114.5h0M358.1 280.7h0M358.2 175.1h0M358.4 280.7h0M358.6 152h0M358.8 66.3h0M359 280.7h0M359.1 124.9h0M359.3 66.3h0M359.5 206.4h0M359.7 280.7h0M359.8 241.2h0M360 66.3h0M360.2 99.5h0M360.4 157.6h0M360.5 280.7h0M360.7 169.2h0M360.9 66.3h0M361.1 280.7h0M361.3 140.9h0M361.4 66.3h0M361.6 187.3h0M361.8 206.4h0M362 280.7h0M362.1 124.9h0M362.3 66.3h0M362.5 280.7h0M362.7 99.5h0M362.9 241.2h0M363 280.7h0M363.2 187.3h0M363.4 66.3h0M363.6 140.9h0M363.7 114.5h0M363.9 280.7h0M364.1 219.9h0M364.3 66.3h0M364.5 233.9h0M364.6 280.7h0M364.8 104.4h0M365 66.3h0M365.2 280.7h0M365.3 163.4h0M365.5 66.3h0M365.7 163.4h0M365.9 135.5h0M366 280.7h0M366.2 193.6h0M366.4 66.3h0M366.6 280.7h0M366.8 213.1h0M366.9 66.3h0M367.1 119.7h0M367.3 94.6h0M367.5 280.7h0M367.6 248.6h0M367.8 181.2h0M368 280.7h0M368.2 146.4h0M368.4 66.3h0M368.5 280.7h0M368.7 119.7h0M368.9 66.3h0M369.1 213.1h0M369.2 252.4h0M369.4 276.4h0M369.6 92.1h0M369.8 68.6h0M369.9 154.8h0M370.1 276.4h0M370.3 172.2h0M370.5 68.6h0M370.7 149.2h0M370.8 276.4h0M371 178.1h0M371.2 68.6h0M371.4 203.2h0M371.5 276.4h0M371.7 127.5h0M371.9 68.6h0M372.1 106.9h0M372.3 276.4h0M372.4 230.3h0M372.6 68.6h0M372.8 196.7h0M373 276.4h0M373.1 132.8h0M373.3 68.6h0M373.5 112h0M373.7 276.4h0M373.9 223.3h0M374 68.6h0M374.2 230.3h0M374.4 276.4h0M374.6 106.9h0M374.7 68.6h0M374.9 276.4h0M375.1 172.2h0M375.3 276.4h0M375.4 154.8h0M375.6 68.6h0M375.8 132.8h0M376 276.4h0M376.2 196.7h0M376.3 68.6h0M376.5 223.3h0M376.7 276.4h0M376.9 112h0M377 68.6h0M377.2 92.1h0M377.4 276.4h0M377.6 252.4h0M377.8 178.1h0M377.9 276.4h0M378.1 149.2h0M378.3 68.6h0M378.5 127.5h0M378.6 276.4h0M378.8 203.2h0M379 68.6h0M379.2 276.4h0M379.3 244.9h0M379.5 68.6h0M379.7 97h0M379.9 276.4h0M380.1 160.5h0M380.2 68.6h0M380.4 166.3h0M380.6 276.4h0M380.8 143.6h0M380.9 68.6h0M381.1 184.2h0M381.3 276.4h0M381.5 209.7h0M381.7 68.6h0M381.8 122.3h0M382 276.4h0M382.2 101.9h0M382.4 68.6h0M382.5 237.5h0M382.7 276.4h0M382.9 190.4h0M383.1 68.6h0M383.3 138.2h0M383.4 276.4h0M383.6 117.1h0M383.8 68.6h0M384 216.5h0M384.1 276.4h0M384.3 237.5h0M384.5 68.6h0M384.7 101.9h0M384.8 276.4h0.2M385.2 166.3h0M385.4 68.6h0M385.6 160.5h0M385.7 276.4h0M385.9 138.2h0M386.1 68.6h0M386.3 190.4h0M386.4 276.4h0M386.6 216.5h0M386.8 68.6h0M387 117.1h0M387.2 276.4h0M387.3 97h0M387.5 244.9h0M387.7 276.4h0M387.9 184.2h0M388 68.6h0M388.2 143.6h0M388.4 276.4h0M388.6 122.3h0M388.7 68.6h0M388.9 209.7h0M389.1 256.3h0M389.3 272.3h0M389.5 89.7h0M389.6 70.9h0M389.8 272.3h0M390 157.6h0M390.2 70.9h0M390.3 169.2h0M390.5 152h0M390.7 272.3h0M390.9 175.1h0M391.1 70.9h0M391.2 272.3h0M391.4 206.4h0M391.6 70.9h0M391.8 124.9h0M391.9 109.4h0M392.1 272.3h0M392.3 226.8h0M392.5 70.9h0M392.7 199.9h0M392.8 272.3h0M393 130.1h0M393.2 70.9h0M393.4 272.3h0M393.5 114.5h0M393.7 70.9h0M393.9 219.9h0M394.1 272.3h0M394.2 233.9h0M394.4 70.9h0M394.6 104.4h0M394.8 89.7h0M395 272.3h0M395.1 256.3h0M395.3 175.1h0M395.5 272.3h0M395.7 152h0M395.8 70.9h0M396 272.3h0M396.2 135.5h0M396.4 70.9h0M396.6 193.6h0M396.7 226.8h0M396.9 272.3h0M397.1 109.4h0M397.3 70.9h0M397.4 272.3h0M397.6 94.6h0M397.8 248.6h0M398 272.3h0M398.1 181.2h0M398.3 70.9h0M398.5 146.4h0M398.7 130.1h0M398.9 272.3h0M399 199.9h0M399.2 70.9h0M399.4 248.6h0M399.6 272.3h0M399.7 94.6h0M399.9 70.9h0M400.1 272.3h0.2M400.5 163.4h0M400.6 70.9h0M400.8 163.4h0M401 146.4h0M401.2 272.3h0M401.3 181.2h0M401.5 70.9h0M401.7 272.3h0M401.9 213.1h0M402 70.9h0M402.2 119.7h0M402.4 104.4h0M402.6 272.3h0M402.8 233.9h0M402.9 70.9h0M403.1 193.6h0M403.3 272.3h0M403.5 135.5h0M403.6 70.9h0M403.8 272.3h0M404 119.7h0M404.2 70.9h0M404.4 213.1h0M404.5 272.3h0M404.7 241.2h0M404.9 70.9h0M405.1 99.5h0M405.2 272.3h0M405.4 169.2h0M405.6 272.3h0M405.8 157.6h0M406 70.9h0M406.1 272.3h0M406.3 140.9h0M406.5 70.9h0M406.7 187.3h0M406.8 219.9h0M407 272.3h0M407.2 114.5h0M407.4 70.9h0M407.5 272.3h0M407.7 99.5h0M407.9 70.9h0M408.1 241.2h0M408.3 272.3h0M408.4 187.3h0M408.6 70.9h0M408.8 140.9h0M409 124.9h0M409.1 272.3h0M409.3 206.4h0M409.5 70.9h0M409.7 268.2h0M409.9 260.2h0M410 73.2h0M410.2 87.3h0M410.4 268.2h0.2M410.7 160.5h0M410.9 73.2h0M411.1 166.3h0M411.3 268.2h0M411.4 154.8h0M411.6 73.2h0M411.8 172.2h0M412 268.2h0M412.2 209.7h0M412.3 73.2h0M412.5 122.3h0M412.7 268.2h0M412.9 112h0M413 73.2h0M413.2 223.3h0M413.4 268.2h0M413.6 203.2h0M413.8 73.2h0M413.9 127.5h0M414.1 268.2h0M414.3 117.1h0M414.5 73.2h0M414.6 216.5h0M414.8 268.2h0M415 237.5h0M415.2 73.2h0M415.4 101.9h0M415.5 268.2h0M415.7 92.1h0M415.9 252.4h0M416.1 268.2h0M416.2 178.1h0M416.4 73.2h0M416.6 149.2h0M416.8 268.2h0M416.9 138.2h0M417.1 73.2h0M417.3 190.4h0M417.5 268.2h0M417.7 230.3h0M417.8 73.2h0M418 106.9h0M418.2 268.2h0M418.4 97h0M418.5 73.2h0M418.7 244.9h0M418.9 268.2h0M419.1 184.2h0M419.3 73.2h0M419.4 143.6h0M419.6 268.2h0M419.8 132.8h0M420 73.2h0M420.1 196.7h0M420.3 252.4h0M420.5 268.2h0M420.7 92.1h0M420.8 73.2h0M421 268.2h0M421.2 166.3h0M421.4 268.2h0M421.6 160.5h0M421.7 73.2h0M421.9 149.2h0M422.1 268.2h0M422.3 178.1h0M422.4 73.2h0M422.6 216.5h0M422.8 268.2h0M423 117.1h0M423.2 73.2h0M423.3 106.9h0M423.5 268.2h0M423.7 230.3h0M423.9 73.2h0M424 196.7h0M424.2 268.2h0M424.4 132.8h0M424.6 73.2h0M424.8 122.3h0M424.9 268.2h0M425.1 209.7h0M425.3 73.2h0M425.5 244.9h0M425.6 268.2h0M425.8 97h0M426 73.2h0M426.2 87.3h0M426.3 268.2h0M426.5 260.2h0M426.7 172.2h0M426.9 268.2h0M427.1 154.8h0M427.2 73.2h0M427.4 143.6h0M427.6 268.2h0M427.8 184.2h0M427.9 73.2h0M428.1 223.3h0M428.3 268.2h0M428.5 112h0M428.7 73.2h0M428.8 101.9h0M429 268.2h0M429.2 237.5h0M429.4 73.2h0M429.5 190.4h0M429.7 268.2h0M429.9 138.2h0M430.1 73.2h0M430.2 127.5h0M430.4 268.2h0M430.6 203.2h0M430.8 73.2h0M431 264.2h0M431.1 75.5h0M431.3 84.9h0M431.5 264.2h0M431.7 163.4h0M431.8 264.2h0M432 163.4h0M432.2 75.5h0M432.4 264.2h0M432.6 157.6h0M432.7 75.5h0M432.9 169.2h0M433.1 213.1h0M433.3 264.2h0M433.4 119.7h0M433.6 75.5h0M433.8 264.2h0M434 114.5h0M434.2 75.5h0M434.3 219.9h0M434.5 264.2h0M434.7 206.4h0M434.9 75.5h0M435 124.9h0M435.2 119.7h0M435.4 264.2h0M435.6 213.1h0M435.7 75.5h0M435.9 241.2h0M436.1 264.2h0M436.3 99.5h0M436.5 75.5h0M436.6 264.2h0M436.8 94.6h0M437 75.5h0M437.2 248.6h0M437.3 264.2h0M437.5 181.2h0M437.7 75.5h0M437.9 146.4h0M438.1 140.9h0M438.2 264.2h0M438.4 187.3h0M438.6 75.5h0M438.8 264.2h0M438.9 233.9h0M439.1 75.5h0M439.3 104.4h0M439.5 99.5h0M439.6 264.2h0M439.8 241.2h0M440 75.5h0M440.2 187.3h0M440.4 264.2h0M440.5 140.9h0M440.7 75.5h0M440.9 264.2h0M441.1 135.5h0M441.2 75.5h0M441.4 193.6h0M441.6 264.2h0M441.8 256.3h0M442 75.5h0M442.1 89.7h0M442.3 84.9h0M442.5 264.2h0.2M442.8 169.2h0M443 264.2h0M443.2 157.6h0M443.4 75.5h0M443.5 264.2h0M443.7 152h0M443.9 75.5h0M444.1 175.1h0M444.3 219.9h0M444.4 264.2h0M444.6 114.5h0M444.8 75.5h0M445 264.2h0M445.1 109.4h0M445.3 75.5h0M445.5 226.8h0M445.7 264.2h0M445.9 199.9h0M446 75.5h0M446.2 130.1h0M446.4 124.9h0M446.6 264.2h0M446.7 206.4h0M446.9 75.5h0M447.1 248.6h0M447.3 264.2h0M447.5 94.6h0M447.6 75.5h0M447.8 264.2h0M448 89.7h0M448.2 256.3h0M448.3 264.2h0M448.5 175.1h0M448.7 75.5h0M448.9 152h0M449 146.4h0M449.2 264.2h0M449.4 181.2h0M449.6 75.5h0M449.8 264.2h0M449.9 226.8h0M450.1 75.5h0M450.3 109.4h0M450.5 104.4h0M450.6 264.2h0M450.8 233.9h0M451 75.5h0M451.2 193.6h0M451.4 264.2h0M451.5 135.5h0M451.7 75.5h0M451.9 264.2h0M452.1 130.1h0M452.2 75.5h0M452.4 199.9h0M452.6 268.2h0M452.8 82.6h0M452.9 77.8h0M453.1 82.6h0M453.3 260.2h0M453.5 268.2h0M453.7 166.3h0M453.8 260.2h0M454 160.5h0M454.2 77.8h0M454.4 160.5h0M454.5 260.2h0M454.7 166.3h0M454.9 77.8h0M455.1 216.5h0M455.3 260.2h0M455.4 117.1h0M455.6 77.8h0M455.8 117.1h0M456 260.2h0M456.1 216.5h0M456.3 77.8h0M456.5 209.7h0M456.7 260.2h0M456.9 122.3h0M457 77.8h0M457.2 122.3h0M457.4 260.2h0M457.6 209.7h0M457.7 77.8h0M457.9 244.9h0M458.1 260.2h0M458.3 97h0M458.4 77.8h0M458.6 97h0M458.8 260.2h0M459 244.9h0M459.2 77.8h0M459.3 184.2h0M459.5 260.2h0M459.7 143.6h0M459.9 77.8h0M460 143.6h0M460.2 260.2h0M460.4 184.2h0M460.6 77.8h0M460.8 237.5h0M460.9 260.2h0M461.1 101.9h0M461.3 77.8h0M461.5 101.9h0M461.6 260.2h0M461.8 237.5h0M462 77.8h0M462.2 190.4h0M462.3 260.2h0M462.5 138.2h0M462.7 77.8h0M462.9 138.2h0M463.1 260.2h0M463.2 190.4h0M463.4 77.8h0M463.6 260.2h0M463.8 77.8h0M463.9 87.3h0M464.1 260.2h0M464.3 87.3h0M464.5 260.2h0.2M464.8 172.2h0M465 77.8h0M465.2 154.8h0M465.4 260.2h0M465.5 154.8h0M465.7 77.8h0M465.9 172.2h0M466.1 260.2h0M466.3 223.3h0M466.4 77.8h0M466.6 112h0M466.8 260.2h0M467 112h0M467.1 77.8h0M467.3 223.3h0M467.5 260.2h0M467.7 203.2h0M467.8 77.8h0M468 127.5h0M468.2 260.2h0M468.4 127.5h0M468.6 77.8h0M468.7 203.2h0M468.9 260.2h0M469.1 252.4h0M469.3 77.8h0M469.4 92.1h0M469.6 260.2h0M469.8 92.1h0M470 77.8h0M470.2 252.4h0M470.3 260.2h0M470.5 178.1h0M470.7 77.8h0M470.9 149.2h0M471 260.2h0M471.2 149.2h0M471.4 77.8h0M471.6 178.1h0M471.7 260.2h0M471.9 230.3h0M472.1 77.8h0M472.3 106.9h0M472.5 260.2h0M472.6 106.9h0M472.8 77.8h0M473 230.3h0M473.2 260.2h0M473.3 196.7h0M473.5 77.8h0M473.7 132.8h0M473.9 260.2h0M474.1 132.8h0M474.2 77.8h0M474.4 196.7h0M474.6 80.2h0M474.8 256.3h0M474.9 84.9h0M475.1 264.2h0M475.3 256.3h0M475.5 169.2h0M475.6 80.2h0M475.8 157.6h0M476 163.4h0M476.2 256.3h0M476.4 163.4h0M476.5 80.2h0M476.7 256.3h0M476.9 219.9h0M477.1 80.2h0M477.2 114.5h0M477.4 119.7h0M477.6 256.3h0M477.8 213.1h0M478 80.2h0M478.1 213.1h0M478.3 256.3h0M478.5 119.7h0M478.7 80.2h0M478.8 256.3h0M479 124.9h0M479.2 80.2h0M479.4 206.4h0M479.6 256.3h0M479.7 248.6h0M479.9 80.2h0M480.1 94.6h0M480.3 99.5h0M480.4 256.3h0M480.6 241.2h0M480.8 80.2h0M481 187.3h0M481.1 256.3h0M481.3 140.9h0M481.5 80.2h0M481.7 256.3h0M481.9 146.4h0M482 80.2h0M482.2 181.2h0M482.4 241.2h0M482.6 256.3h0M482.7 99.5h0M482.9 80.2h0M483.1 256.3h0M483.3 104.4h0M483.5 80.2h0M483.6 233.9h0M483.8 256.3h0M484 193.6h0M484.2 80.2h0M484.3 135.5h0M484.5 140.9h0M484.7 256.3h0M484.9 187.3h0M485 80.2h0M485.2 264.2h0M485.4 84.9h0M485.6 80.2h0M485.8 256.3h0M485.9 89.7h0M486.1 80.2h0M486.3 256.3h0.2M486.6 175.1h0M486.8 80.2h0M487 152h0M487.2 157.6h0M487.4 256.3h0M487.5 169.2h0M487.7 80.2h0M487.9 256.3h0M488.1 226.8h0M488.2 80.2h0M488.4 109.4h0M488.6 114.5h0M488.8 256.3h0M489 219.9h0M489.1 80.2h0M489.3 206.4h0M489.5 256.3h0M489.7 124.9h0M489.8 80.2h0M490 256.3h0M490.2 130.1h0M490.4 80.2h0M490.5 199.9h0M490.7 256.3h0M490.9 80.2h0M491.1 89.7h0M491.3 94.6h0M491.4 256.3h0M491.6 248.6h0M491.8 80.2h0M492 181.2h0M492.1 256.3h0M492.3 146.4h0M492.5 80.2h0M492.7 256.3h0M492.9 152h0M493 80.2h0M493.2 175.1h0M493.4 233.9h0M493.6 256.3h0M493.7 104.4h0M493.9 80.2h0M494.1 256.3h0M494.3 109.4h0M494.4 80.2h0M494.6 226.8h0M494.8 256.3h0M495 199.9h0M495.2 80.2h0M495.3 130.1h0M495.5 135.5h0M495.7 256.3h0M495.9 193.6h0M496 80.2h0M496.2 82.6h0M496.4 252.4h0M496.6 87.3h0M496.8 82.6h0M496.9 260.2h0M497.1 252.4h0M497.3 172.2h0M497.5 82.6h0M497.6 154.8h0M497.8 252.4h0M498 166.3h0M498.2 82.6h0M498.4 160.5h0M498.5 252.4h0M498.7 223.3h0M498.9 82.6h0M499.1 112h0M499.2 252.4h0M499.4 122.3h0M499.6 82.6h0M499.8 209.7h0M499.9 252.4h0M500.1 216.5h0M500.3 82.6h0M500.5 117.1h0M500.7 252.4h0M500.8 127.5h0M501 82.6h0M501.2 203.2h0M501.4 252.4h0M501.5 82.6h0M501.7 92.1h0M501.9 252.4h0M502.1 101.9h0M502.3 82.6h0M502.4 237.5h0M502.6 252.4h0M502.8 190.4h0M503 82.6h0M503.1 138.2h0M503.3 252.4h0M503.5 149.2h0M503.7 82.6h0M503.8 178.1h0M504 252.4h0M504.2 244.9h0M504.4 82.6h0M504.6 97h0M504.7 252.4h0M504.9 106.9h0M505.1 82.6h0M505.3 230.3h0M505.4 252.4h0M505.6 196.7h0M505.8 82.6h0M506 132.8h0M506.2 252.4h0M506.3 143.6h0M506.5 82.6h0M506.7 184.2h0M506.9 82.6h0M507 92.1h0M507.2 252.4h0.2M507.6 82.6h0M507.8 178.1h0M507.9 252.4h0M508.1 149.2h0M508.3 82.6h0M508.5 160.5h0M508.6 252.4h0M508.8 166.3h0M509 82.6h0M509.2 230.3h0M509.3 252.4h0M509.5 106.9h0M509.7 82.6h0M509.9 117.1h0M510.1 252.4h0M510.2 216.5h0M510.4 82.6h0M510.6 209.7h0M510.8 252.4h0M510.9 122.3h0M511.1 82.6h0M511.3 132.8h0M511.5 252.4h0M511.7 196.7h0M511.8 82.6h0M512 260.2h0M512.2 87.3h0M512.4 82.6h0M512.5 97h0M512.7 252.4h0M512.9 244.9h0M513.1 82.6h0M513.2 184.2h0M513.4 252.4h0M513.6 143.6h0M513.8 82.6h0M514 154.8h0M514.1 252.4h0M514.3 172.2h0M514.5 82.6h0M514.7 237.5h0M514.8 252.4h0M515 101.9h0M515.2 82.6h0M515.4 112h0M515.6 252.4h0M515.7 223.3h0M515.9 82.6h0M516.1 203.2h0M516.3 252.4h0M516.4 127.5h0M516.6 82.6h0M516.8 138.2h0M517 252.4h0M517.1 190.4h0M517.3 82.6h0M517.5 89.7h0M517.7 248.6h0M517.9 256.3h0M518 84.9h0M518.2 175.1h0M518.4 248.6h0M518.6 152h0M518.7 84.9h0M518.9 248.6h0M519.1 169.2h0M519.3 84.9h0M519.5 157.6h0M519.6 226.8h0M519.8 248.6h0M520 109.4h0M520.2 84.9h0M520.3 248.6h0M520.5 124.9h0M520.7 84.9h0M520.9 206.4h0M521.1 248.6h0M521.2 219.9h0M521.4 84.9h0M521.6 114.5h0M521.8 130.1h0M521.9 248.6h0M522.1 199.9h0M522.3 84.9h0M522.5 256.3h0M522.6 89.7h0M522.8 84.9h0M523 248.6h0M523.2 104.4h0M523.4 84.9h0M523.5 233.9h0M523.7 248.6h0M523.9 193.6h0M524.1 84.9h0M524.2 135.5h0M524.4 152h0M524.6 248.6h0M524.8 175.1h0M525 84.9h0M525.1 248.6h0M525.3 84.9h0M525.5 94.6h0M525.7 109.4h0M525.8 248.6h0M526 226.8h0M526.2 84.9h0M526.4 199.9h0M526.5 248.6h0M526.7 130.1h0M526.9 84.9h0M527.1 248.6h0M527.3 146.4h0M527.4 84.9h0M527.6 181.2h0M527.8 84.9h0M528 94.6h0M528.1 248.6h0.2M528.5 84.9h0M528.7 181.2h0M528.9 248.6h0M529 146.4h0M529.2 84.9h0M529.4 248.6h0M529.6 163.4h0M529.7 84.9h0M529.9 163.4h0M530.1 233.9h0M530.3 248.6h0M530.5 104.4h0M530.6 84.9h0M530.8 248.6h0M531 119.7h0M531.2 84.9h0M531.3 213.1h0M531.5 248.6h0M531.7 213.1h0M531.9 84.9h0M532 119.7h0M532.2 135.5h0M532.4 248.6h0M532.6 193.6h0M532.8 84.9h0.1M533.1 248.6h0M533.3 99.5h0M533.5 84.9h0M533.6 241.2h0M533.8 248.6h0M534 187.3h0M534.2 84.9h0M534.4 140.9h0M534.5 157.6h0M534.7 248.6h0M534.9 169.2h0M535.1 84.9h0M535.2 248.6h0M535.4 241.2h0M535.6 84.9h0M535.8 99.5h0M535.9 114.5h0M536.1 248.6h0M536.3 219.9h0M536.5 84.9h0M536.7 206.4h0M536.8 248.6h0M537 124.9h0M537.2 84.9h0M537.4 248.6h0M537.5 140.9h0M537.7 84.9h0M537.9 187.3h0M538.1 92.1h0M538.3 244.9h0M538.4 252.4h0M538.6 87.3h0M538.8 178.1h0M539 244.9h0M539.1 149.2h0M539.3 87.3h0M539.5 172.2h0M539.7 244.9h0M539.9 154.8h0M540 87.3h0M540.2 230.3h0M540.4 244.9h0M540.6 106.9h0M540.7 87.3h0M540.9 127.5h0M541.1 244.9h0M541.3 203.2h0M541.4 87.3h0M541.6 223.3h0M541.8 244.9h0M542 112h0M542.2 87.3h0M542.3 132.8h0M542.5 244.9h0M542.7 196.7h0M542.9 87.3h0.1M543.2 106.9h0M543.4 244.9h0M543.6 230.3h0M543.8 87.3h0M543.9 196.7h0M544.1 244.9h0M544.3 132.8h0M544.5 87.3h0M544.6 154.8h0M544.8 244.9h0M545 172.2h0M545.2 87.3h0M545.3 252.4h0M545.5 92.1h0M545.7 87.3h0M545.9 112h0M546.1 244.9h0M546.2 223.3h0M546.4 87.3h0M546.6 203.2h0M546.8 244.9h0M546.9 127.5h0M547.1 87.3h0M547.3 149.2h0M547.5 244.9h0M547.7 178.1h0M547.8 87.3h0M548 244.9h0M548.2 97h0M548.4 87.3h0M548.5 244.9h0.2M548.9 184.2h0M549.1 87.3h0M549.3 143.6h0M549.4 244.9h0M549.6 166.3h0M549.8 87.3h0M550 160.5h0M550.1 244.9h0M550.3 237.5h0M550.5 87.3h0M550.7 101.9h0M550.8 244.9h0M551 122.3h0M551.2 87.3h0M551.4 209.7h0M551.6 244.9h0M551.7 216.5h0M551.9 87.3h0M552.1 117.1h0M552.3 244.9h0M552.4 138.2h0M552.6 87.3h0M552.8 190.4h0M553 87.3h0M553.2 244.9h0M553.3 101.9h0M553.5 87.3h0M553.7 237.5h0M553.9 244.9h0M554 190.4h0M554.2 87.3h0M554.4 138.2h0M554.6 244.9h0M554.7 160.5h0M554.9 87.3h0M555.1 166.3h0M555.3 244.9h0M555.5 87.3h0M555.6 97h0M555.8 244.9h0M556 117.1h0M556.2 87.3h0M556.3 216.5h0M556.5 244.9h0M556.7 209.7h0M556.9 87.3h0M557.1 122.3h0M557.2 244.9h0M557.4 143.6h0M557.6 87.3h0M557.8 184.2h0M557.9 241.2h0M558.1 94.6h0M558.3 89.7h0M558.5 248.6h0M558.6 241.2h0M558.8 181.2h0M559 89.7h0M559.2 146.4h0M559.4 175.1h0M559.5 241.2h0M559.7 152h0M559.9 89.7h0M560.1 241.2h0M560.2 233.9h0M560.4 89.7h0M560.6 104.4h0M560.8 130.1h0M561 241.2h0M561.1 199.9h0M561.3 89.7h0M561.5 226.8h0M561.7 241.2h0M561.8 109.4h0M562 89.7h0M562.2 241.2h0M562.4 135.5h0M562.6 89.7h0M562.7 193.6h0M562.9 89.7h0M563.1 109.4h0M563.3 241.2h0M563.4 226.8h0M563.6 89.7h0M563.8 199.9h0M564 241.2h0M564.1 130.1h0M564.3 89.7h0M564.5 241.2h0M564.7 157.6h0M564.9 89.7h0M565 169.2h0M565.2 89.7h0M565.4 241.2h0M565.6 114.5h0M565.7 89.7h0M565.9 219.9h0M566.1 241.2h0M566.3 206.4h0M566.5 89.7h0M566.6 124.9h0M566.8 152h0M567 241.2h0M567.2 175.1h0M567.3 89.7h0M567.5 241.2h0M567.7 99.5h0M567.9 89.7h0M568 241.2h0.2M568.4 187.3h0M568.6 89.7h0M568.8 140.9h0M568.9 169.2h0M569.1 241.2h0M569.3 157.6h0M569.5 89.7h0M569.6 241.2h0M569.8 89.7h0M570 99.5h0M570.2 124.9h0M570.4 241.2h0M570.5 206.4h0M570.7 89.7h0M570.9 219.9h0M571.1 241.2h0M571.2 114.5h0M571.4 89.7h0M571.6 241.2h0M571.8 140.9h0M572 89.7h0M572.1 187.3h0M572.3 104.4h0M572.5 241.2h0M572.7 233.9h0M572.8 89.7h0M573 193.6h0M573.2 241.2h0M573.4 135.5h0M573.5 89.7h0M573.7 241.2h0M573.9 163.4h0M574.1 89.7h0M574.3 163.4h0M574.4 248.6h0M574.6 94.6h0M574.8 89.7h0M575 241.2h0M575.1 119.7h0M575.3 89.7h0M575.5 213.1h0M575.7 241.2h0M575.9 213.1h0M576 89.7h0M576.2 119.7h0M576.4 146.4h0M576.6 241.2h0M576.7 181.2h0M576.9 89.7h0M577.1 237.5h0M577.3 97h0M577.4 92.1h0M577.6 244.9h0M577.8 237.5h0M578 184.2h0M578.2 92.1h0M578.3 143.6h0M578.5 237.5h0M578.7 178.1h0M578.9 92.1h0M579 149.2h0M579.2 237.5h0M579.4 92.1h0M579.6 101.9h0M579.8 237.5h0M579.9 132.8h0M580.1 92.1h0M580.3 196.7h0M580.5 237.5h0M580.6 230.3h0M580.8 92.1h0M581 106.9h0M581.2 237.5h0M581.4 138.2h0M581.5 92.1h0M581.7 190.4h0M581.9 237.5h0M582.1 112h0M582.2 92.1h0M582.4 223.3h0M582.6 237.5h0M582.8 203.2h0M582.9 92.1h0M583.1 127.5h0M583.3 237.5h0M583.5 160.5h0M583.7 92.1h0M583.8 166.3h0M584 92.1h0M584.2 237.5h0M584.4 117.1h0M584.5 92.1h0M584.7 216.5h0M584.9 237.5h0M585.1 209.7h0M585.3 92.1h0M585.4 122.3h0M585.6 237.5h0M585.8 154.8h0M586 92.1h0M586.1 172.2h0M586.3 101.9h0M586.5 237.5h0.2M586.8 92.1h0M587 190.4h0M587.2 237.5h0M587.4 138.2h0M587.6 92.1h0M587.7 172.2h0M587.9 237.5h0M588.1 154.8h0M588.3 92.1h0M588.4 244.9h0M588.6 97h0M588.8 92.1h0M589 127.5h0M589.2 237.5h0M589.3 203.2h0M589.5 92.1h0M589.7 223.3h0M589.9 237.5h0M590 112h0M590.2 92.1h0M590.4 143.6h0M590.6 237.5h0M590.8 184.2h0M590.9 92.1h0M591.1 106.9h0M591.3 237.5h0M591.5 230.3h0M591.6 92.1h0M591.8 196.7h0M592 237.5h0M592.2 132.8h0M592.3 92.1h0M592.5 166.3h0M592.7 237.5h0M592.9 160.5h0M593.1 92.1h0.1M593.4 122.3h0M593.6 237.5h0M593.8 209.7h0M593.9 92.1h0M594.1 216.5h0M594.3 237.5h0M594.5 117.1h0M594.7 92.1h0M594.8 149.2h0M595 237.5h0M595.2 178.1h0M595.4 92.1h0M595.5 99.5h0M595.7 233.9h0M595.9 241.2h0M596.1 94.6h0M596.2 187.3h0M596.4 233.9h0M596.6 140.9h0M596.8 94.6h0M597 233.9h0M597.1 181.2h0M597.3 94.6h0M597.5 146.4h0M597.7 241.2h0M597.8 99.5h0M598 94.6h0M598.2 233.9h0M598.4 135.5h0M598.6 94.6h0M598.7 193.6h0M598.9 233.9h0M599.1 94.6h0M599.3 104.4h0M599.4 140.9h0M599.6 233.9h0M599.8 187.3h0M600 94.6h0M600.1 233.9h0M600.3 114.5h0M600.5 94.6h0M600.7 219.9h0M600.9 233.9h0M601 206.4h0M601.2 94.6h0M601.4 124.9h0M601.6 163.4h0M601.7 233.9h0M601.9 163.4h0M602.1 94.6h0M602.3 119.7h0M602.5 233.9h0M602.6 213.1h0M602.8 94.6h0M603 213.1h0M603.2 233.9h0M603.3 119.7h0M603.5 94.6h0M603.7 233.9h0M603.9 157.6h0M604.1 94.6h0M604.2 169.2h0M604.4 104.4h0M604.6 233.9h0.2M604.9 94.6h0M605.1 193.6h0M605.3 233.9h0M605.5 135.5h0M605.6 94.6h0M605.8 233.9h0M606 175.1h0M606.2 94.6h0M606.4 152h0M606.5 94.6h0M606.7 233.9h0M606.9 130.1h0M607.1 94.6h0M607.2 199.9h0M607.4 233.9h0M607.6 226.8h0M607.8 94.6h0M608 109.4h0M608.1 146.4h0M608.3 233.9h0M608.5 181.2h0M608.7 94.6h0M608.8 233.9h0M609 109.4h0M609.2 94.6h0M609.4 226.8h0M609.5 233.9h0M609.7 199.9h0M609.9 94.6h0M610.1 130.1h0M610.3 169.2h0M610.4 233.9h0M610.6 157.6h0M610.8 94.6h0.2M611.1 124.9h0M611.3 233.9h0M611.5 206.4h0M611.7 94.6h0M611.9 219.9h0M612 233.9h0M612.2 114.5h0M612.4 94.6h0M612.6 233.9h0M612.7 152h0M612.9 94.6h0M613.1 175.1h0M613.3 101.9h0M613.5 230.3h0M613.6 237.5h0M613.8 97h0M614 190.4h0M614.2 230.3h0M614.3 138.2h0M614.5 97h0M614.7 184.2h0M614.9 230.3h0M615 143.6h0M615.2 97h0.2M615.6 138.2h0M615.8 230.3h0M615.9 190.4h0M616.1 97h0M616.3 237.5h0M616.5 101.9h0M616.6 97h0M616.8 143.6h0M617 230.3h0M617.2 184.2h0M617.4 97h0M617.5 117.1h0M617.7 230.3h0M617.9 216.5h0M618.1 97h0M618.2 209.7h0M618.4 230.3h0M618.6 122.3h0M618.8 97h0M618.9 166.3h0M619.1 230.3h0M619.3 160.5h0M619.5 97h0M619.7 122.3h0M619.8 230.3h0M620 209.7h0M620.2 97h0M620.4 216.5h0M620.5 230.3h0M620.7 117.1h0M620.9 97h0M621.1 160.5h0M621.3 230.3h0M621.4 166.3h0M621.6 97h0M621.8 230.3h0M622 106.9h0M622.1 97h0M622.3 230.3h0.2M622.7 196.7h0M622.9 97h0M623 132.8h0M623.2 230.3h0M623.4 178.1h0M623.6 97h0M623.7 149.2h0M623.9 97h0M624.1 230.3h0M624.3 132.8h0M624.4 97h0M624.6 196.7h0M624.8 230.3h0M625 97h0M625.2 106.9h0M625.3 230.3h0M625.5 149.2h0M625.7 97h0M625.9 178.1h0M626 230.3h0M626.2 112h0M626.4 97h0M626.6 223.3h0M626.8 230.3h0M626.9 203.2h0M627.1 97h0M627.3 127.5h0M627.5 230.3h0M627.6 172.2h0M627.8 97h0M628 154.8h0M628.2 230.3h0M628.3 127.5h0M628.5 97h0M628.7 203.2h0M628.9 230.3h0M629.1 223.3h0M629.2 97h0M629.4 112h0M629.6 230.3h0M629.8 154.8h0M629.9 97h0M630.1 172.2h0M630.3 226.8h0M630.5 104.4h0M630.7 99.5h0M630.8 233.9h0M631 226.8h0M631.2 193.6h0M631.4 99.5h0M631.5 135.5h0M631.7 187.3h0M631.9 226.8h0M632.1 140.9h0M632.3 99.5h0.1M632.6 140.9h0M632.8 226.8h0M633 187.3h0M633.1 99.5h0.2M633.5 226.8h0M633.7 146.4h0M633.8 99.5h0M634 181.2h0M634.2 119.7h0M634.4 226.8h0M634.6 213.1h0M634.7 99.5h0M634.9 213.1h0M635.1 226.8h0M635.3 119.7h0M635.4 99.5h0M635.6 226.8h0M635.8 169.2h0M636 99.5h0M636.2 157.6h0M636.3 226.8h0M636.5 124.9h0M636.7 99.5h0M636.9 206.4h0M637 226.8h0M637.2 219.9h0M637.4 99.5h0M637.6 114.5h0M637.7 163.4h0M637.9 226.8h0M638.1 163.4h0M638.3 99.5h0M638.5 226.8h0M638.6 109.4h0M638.8 99.5h0M639 226.8h0.2M639.3 199.9h0M639.5 99.5h0M639.7 130.1h0M639.9 181.2h0M640.1 226.8h0M640.2 146.4h0M640.4 99.5h0M640.6 135.5h0M640.8 226.8h0M640.9 193.6h0M641.1 99.5h0M641.3 233.9h0M641.5 104.4h0M641.6 99.5h0M641.8 226.8h0M642 152h0M642.2 99.5h0M642.4 175.1h0M642.5 114.5h0M642.7 226.8h0M642.9 219.9h0M643.1 99.5h0M643.2 206.4h0M643.4 226.8h0M643.6 124.9h0M643.8 99.5h0M644 226.8h0M644.1 175.1h0M644.3 99.5h0M644.5 152h0M644.7 226.8h0M644.8 130.1h0M645 99.5h0M645.2 199.9h0M645.4 226.8h0M645.6 99.5h0M645.7 109.4h0M645.9 157.6h0M646.1 226.8h0M646.3 169.2h0M646.4 99.5h0M646.6 223.3h0M646.8 106.9h0M647 101.9h0M647.1 230.3h0M647.3 223.3h0M647.5 196.7h0M647.7 101.9h0M647.9 132.8h0M648 223.3h0M648.2 190.4h0M648.4 101.9h0M648.6 138.2h0M648.7 223.3h0M648.9 143.6h0M649.1 101.9h0M649.3 184.2h0M649.5 101.9h0M649.6 223.3h0M649.8 149.2h0M650 101.9h0M650.2 178.1h0M650.3 223.3h0M650.5 122.3h0M650.7 101.9h0M650.9 209.7h0M651 223.3h0M651.2 216.5h0M651.4 101.9h0M651.6 117.1h0M651.8 223.3h0M651.9 172.2h0M652.1 101.9h0M652.3 154.8h0M652.5 223.3h0M652.6 127.5h0M652.8 101.9h0M653 203.2h0M653.2 223.3h0M653.4 101.9h0M653.5 112h0M653.7 223.3h0M653.9 166.3h0M654.1 101.9h0M654.2 160.5h0M654.4 112h0M654.6 223.3h0.2M655 101.9h0M655.1 203.2h0M655.3 223.3h0M655.5 127.5h0M655.7 101.9h0M655.8 184.2h0M656 223.3h0M656.2 143.6h0M656.4 101.9h0M656.5 138.2h0M656.7 223.3h0M656.9 190.4h0M657.1 101.9h0.2M657.4 154.8h0M657.6 223.3h0M657.8 172.2h0M658 101.9h0M658.1 117.1h0M658.3 223.3h0M658.5 216.5h0M658.7 101.9h0M658.9 209.7h0M659 223.3h0M659.2 122.3h0M659.4 101.9h0M659.6 178.1h0M659.7 223.3h0M659.9 149.2h0M660.1 101.9h0M660.3 132.8h0M660.4 223.3h0M660.6 196.7h0M660.8 101.9h0M661 230.3h0M661.2 106.9h0M661.3 101.9h0M661.5 160.5h0M661.7 223.3h0M661.9 166.3h0M662 101.9h0M662.2 109.4h0M662.4 219.9h0M662.6 226.8h0M662.8 104.4h0M662.9 199.9h0M663.1 219.9h0M663.3 130.1h0M663.5 104.4h0M663.6 219.9h0M663.8 193.6h0M664 104.4h0M664.2 135.5h0M664.4 219.9h0M664.5 146.4h0M664.7 104.4h0M664.9 181.2h0M665.1 152h0M665.2 219.9h0M665.4 175.1h0M665.6 104.4h0M665.8 219.9h0M665.9 124.9h0M666.1 104.4h0M666.3 206.4h0M666.5 219.9h0M666.7 104.4h0M666.8 114.5h0M667 175.1h0M667.2 219.9h0M667.4 152h0M667.5 104.4h0M667.7 130.1h0M667.9 219.9h0M668.1 199.9h0M668.3 104.4h0M668.4 226.8h0M668.6 109.4h0M668.8 104.4h0M669 219.9h0M669.1 169.2h0M669.3 104.4h0M669.5 157.6h0M669.7 114.5h0M669.8 219.9h0.2M670.2 104.4h0M670.4 206.4h0M670.6 219.9h0M670.7 124.9h0M670.9 104.4h0M671.1 219.9h0M671.3 187.3h0M671.4 104.4h0M671.6 140.9h0M671.8 219.9h0M672 140.9h0M672.2 104.4h0M672.3 187.3h0M672.5 104.4h0M672.7 157.6h0M672.9 219.9h0M673 169.2h0M673.2 104.4h0M673.4 219.9h0M673.6 119.7h0M673.7 104.4h0M673.9 213.1h0M674.1 219.9h0M674.3 213.1h0M674.5 104.4h0M674.6 119.7h0M674.8 181.2h0M675 219.9h0M675.2 146.4h0M675.3 104.4h0M675.5 135.5h0M675.7 219.9h0M675.9 193.6h0M676.1 104.4h0.1M676.4 219.9h0M676.6 163.4h0M676.8 104.4h0M676.9 163.4h0M677.1 112h0M677.3 216.5h0M677.5 223.3h0M677.7 106.9h0M677.8 203.2h0M678 216.5h0M678.2 127.5h0M678.4 106.9h0M678.5 196.7h0M678.7 216.5h0M678.9 132.8h0M679.1 106.9h0M679.2 149.2h0M679.4 216.5h0M679.6 178.1h0M679.8 106.9h0M680 154.8h0M680.1 216.5h0M680.3 172.2h0M680.5 106.9h0M680.7 127.5h0M680.8 216.5h0M681 203.2h0M681.2 106.9h0M681.4 223.3h0M681.6 112h0M681.7 106.9h0M681.9 178.1h0M682.1 216.5h0M682.3 149.2h0M682.4 106.9h0M682.6 132.8h0M682.8 216.5h0M683 196.7h0M683.1 106.9h0.2M683.5 172.2h0M683.7 216.5h0M683.9 154.8h0M684 106.9h0M684.2 216.5h0M684.4 117.1h0M684.6 106.9h0M684.7 216.5h0.2M685.1 209.7h0M685.3 106.9h0M685.5 122.3h0M685.6 216.5h0M685.8 190.4h0M686 106.9h0M686.2 138.2h0M686.3 216.5h0M686.5 143.6h0M686.7 106.9h0M686.9 184.2h0M687.1 216.5h0M687.2 160.5h0M687.4 106.9h0M687.6 166.3h0M687.8 216.5h0M687.9 122.3h0M688.1 106.9h0M688.3 209.7h0M688.5 216.5h0M688.6 106.9h0M688.8 117.1h0M689 216.5h0M689.2 184.2h0M689.4 106.9h0M689.5 143.6h0M689.7 216.5h0M689.9 138.2h0M690.1 106.9h0M690.2 190.4h0M690.4 106.9h0M690.6 216.5h0M690.8 166.3h0M691 106.9h0M691.1 160.5h0M691.3 213.1h0M691.5 114.5h0M691.7 109.4h0M691.8 219.9h0M692 213.1h0M692.2 206.4h0M692.4 109.4h0M692.5 124.9h0M692.7 199.9h0M692.9 213.1h0M693.1 130.1h0M693.3 109.4h0M693.4 152h0M693.6 213.1h0M693.8 175.1h0M694 109.4h0M694.1 213.1h0M694.3 157.6h0M694.5 109.4h0M694.7 169.2h0M694.9 130.1h0M695 213.1h0M695.2 199.9h0M695.4 109.4h0.2M695.7 213.1h0M695.9 181.2h0M696.1 109.4h0M696.3 146.4h0M696.5 213.1h0M696.6 135.5h0M696.8 109.4h0M697 193.6h0M697.2 109.4h0M697.3 175.1h0M697.5 213.1h0M697.7 152h0M697.9 109.4h0M698 213.1h0M698.2 119.7h0M698.4 109.4h0M698.6 213.1h0.2M698.9 109.4h0M699.1 119.7h0M699.3 193.6h0M699.5 213.1h0M699.6 135.5h0M699.8 109.4h0M700 146.4h0M700.2 213.1h0M700.4 181.2h0M700.5 109.4h0M700.7 213.1h0M700.9 163.4h0M701.1 109.4h0M701.2 163.4h0M701.4 124.9h0M701.6 213.1h0M701.8 206.4h0M701.9 109.4h0M702.1 219.9h0M702.3 114.5h0M702.5 109.4h0M702.7 213.1h0M702.8 187.3h0M703 109.4h0M703.2 140.9h0M703.4 213.1h0M703.5 140.9h0M703.7 109.4h0M703.9 187.3h0M704.1 169.2h0M704.3 213.1h0M704.4 157.6h0M704.6 109.4h0M704.8 209.7h0M705 117.1h0M705.1 112h0M705.3 216.5h0M705.5 209.7h0M705.7 112h0M705.9 122.3h0M706 209.7h0M706.2 203.2h0M706.4 112h0M706.6 127.5h0M706.7 209.7h0M706.9 154.8h0M707.1 112h0M707.3 172.2h0M707.4 209.7h0M707.6 160.5h0M707.8 112h0M708 166.3h0M708.2 209.7h0M708.3 132.8h0M708.5 112h0M708.7 196.7h0M708.9 112h0M709 209.7h0M709.2 184.2h0M709.4 112h0M709.6 143.6h0M709.8 209.7h0M709.9 138.2h0M710.1 112h0M710.3 190.4h0M710.5 209.7h0M710.6 178.1h0M710.8 112h0M711 149.2h0M711.2 122.3h0M711.3 209.7h0.2M711.7 112h0M711.9 216.5h0M712.1 117.1h0M712.2 112h0M712.4 196.7h0M712.6 209.7h0M712.8 132.8h0M712.9 112h0M713.1 149.2h0M713.3 209.7h0M713.5 178.1h0M713.7 112h0M713.8 166.3h0M714 209.7h0M714.2 160.5h0M714.4 112h0M714.5 127.5h0M714.7 209.7h0M714.9 203.2h0M715.1 112h0.1M715.4 190.4h0M715.6 209.7h0M715.8 138.2h0M716 112h0M716.1 143.6h0M716.3 209.7h0M716.5 184.2h0M716.7 112h0M716.8 172.2h0M717 209.7h0M717.2 154.8h0M717.4 112h0M717.6 119.7h0M717.7 206.4h0M717.9 213.1h0M718.1 114.5h0M718.3 213.1h0M718.4 119.7h0M718.6 114.5h0M718.8 206.4h0M719 114.5h0M719.2 124.9h0M719.3 206.4h0M719.5 157.6h0M719.7 114.5h0M719.9 169.2h0M720 163.4h0M720.2 206.4h0M720.4 163.4h0M720.6 114.5h0M720.7 206.4h0M720.9 135.5h0M721.1 114.5h0M721.3 193.6h0M721.5 187.3h0M721.6 206.4h0M721.8 140.9h0M722 114.5h0M722.2 140.9h0M722.3 206.4h0M722.5 187.3h0M722.7 114.5h0M722.9 206.4h0M723.1 181.2h0M723.2 114.5h0M723.4 146.4h0M723.6 124.9h0M723.8 206.4h0.1M724.1 114.5h0.2M724.5 206.4h0M724.6 199.9h0M724.8 114.5h0M725 130.1h0M725.2 206.4h0M725.4 152h0M725.5 114.5h0M725.7 175.1h0M725.9 169.2h0M726.1 206.4h0M726.2 157.6h0M726.4 114.5h0M726.6 206.4h0M726.8 130.1h0M727 114.5h0M727.1 199.9h0M727.3 114.5h0M727.5 193.6h0M727.7 206.4h0M727.8 135.5h0M728 114.5h0M728.2 146.4h0M728.4 206.4h0M728.6 181.2h0M728.7 114.5h0M728.9 206.4h0M729.1 175.1h0M729.3 114.5h0M729.4 152h0M729.6 122.3h0M729.8 203.2h0M730 209.7h0M730.1 117.1h0.2M730.5 209.7h0M730.7 122.3h0M730.9 117.1h0M731 160.5h0M731.2 203.2h0M731.4 166.3h0M731.6 117.1h0M731.7 166.3h0M731.9 203.2h0M732.1 160.5h0M732.3 117.1h0M732.5 138.2h0M732.6 203.2h0M732.8 190.4h0M733 117.1h0M733.2 190.4h0M733.3 203.2h0M733.5 138.2h0M733.7 117.1h0M733.9 143.6h0M734 203.2h0M734.2 184.2h0M734.4 117.1h0M734.6 184.2h0M734.8 203.2h0M734.9 143.6h0M735.1 117.1h0M735.3 203.2h0M735.5 127.5h0M735.6 117.1h0M735.8 203.2h0M736 117.1h0M736.2 203.2h0M736.4 117.1h0M736.5 127.5h0M736.7 203.2h0M736.9 154.8h0M737.1 117.1h0M737.2 172.2h0M737.4 203.2h0M737.6 172.2h0M737.8 117.1h0M738 154.8h0M738.1 203.2h0M738.3 132.8h0M738.5 117.1h0M738.7 196.7h0M738.8 203.2h0M739 196.7h0M739.2 117.1h0M739.4 132.8h0M739.5 203.2h0M739.7 149.2h0M739.9 117.1h0M740.1 178.1h0M740.3 203.2h0M740.4 178.1h0M740.6 117.1h0M740.8 149.2h0M741 199.9h0M741.1 124.9h0M741.3 119.7h0M741.5 206.4h0M741.7 119.7h0.2M742 163.4h0M742.2 199.9h0M742.4 163.4h0M742.6 119.7h0M742.7 199.9h0M742.9 169.2h0M743.1 119.7h0M743.3 157.6h0M743.4 140.9h0M743.6 199.9h0M743.8 187.3h0M744 119.7h0M744.2 199.9h0M744.3 193.6h0M744.5 119.7h0M744.7 135.5h0M744.9 199.9h0M745 146.4h0M745.2 119.7h0M745.4 181.2h0M745.6 187.3h0M745.8 199.9h0M745.9 140.9h0M746.1 119.7h0M746.3 199.9h0M746.5 130.1h0M746.6 119.7h0M746.8 199.9h0M747 206.4h0M747.2 124.9h0M747.4 119.7h0M747.5 157.6h0M747.7 199.9h0M747.9 169.2h0M748.1 119.7h0M748.2 199.9h0M748.4 175.1h0M748.6 119.7h0M748.8 152h0M748.9 135.5h0M749.1 199.9h0M749.3 193.6h0M749.5 119.7h0M749.7 199.9h0M749.8 119.7h0M750 130.1h0M750.2 199.9h0M750.4 152h0M750.5 119.7h0M750.7 175.1h0M750.9 181.2h0M751.1 199.9h0M751.3 146.4h0M751.4 119.7h0M751.6 196.7h0M751.8 127.5h0M752 122.3h0M752.1 203.2h0M752.3 122.3h0M752.5 196.7h0M752.7 166.3h0M752.8 122.3h0M753 160.5h0M753.2 196.7h0M753.4 172.2h0M753.6 122.3h0M753.7 154.8h0M753.9 196.7h0M754.1 143.6h0M754.3 122.3h0M754.4 184.2h0M754.6 196.7h0M754.8 122.3h0M755 132.8h0M755.2 196.7h0M755.3 149.2h0M755.5 122.3h0M755.7 178.1h0M755.9 196.7h0M756 190.4h0M756.2 122.3h0M756.4 138.2h0M756.6 132.8h0M756.7 196.7h0.2M757.1 122.3h0.2M757.5 160.5h0M757.6 196.7h0M757.8 166.3h0M758 122.3h0M758.2 178.1h0M758.3 196.7h0M758.5 149.2h0M758.7 122.3h0M758.9 138.2h0M759.1 196.7h0M759.2 190.4h0M759.4 122.3h0M759.6 203.2h0M759.8 127.5h0M759.9 122.3h0M760.1 154.8h0M760.3 196.7h0M760.5 172.2h0M760.7 122.3h0M760.8 184.2h0M761 196.7h0M761.2 143.6h0M761.4 122.3h0M761.5 130.1h0M761.7 193.6h0M761.9 199.9h0M762.1 124.9h0M762.2 193.6h0M762.4 169.2h0M762.6 124.9h0M762.8 157.6h0M763 175.1h0M763.1 193.6h0M763.3 152h0M763.5 124.9h0M763.7 193.6h0M763.8 146.4h0M764 124.9h0M764.2 181.2h0M764.4 199.9h0M764.6 130.1h0M764.7 124.9h0M764.9 152h0M765.1 193.6h0M765.3 175.1h0M765.4 124.9h0M765.6 193.6h0M765.8 124.9h0M766 135.5h0.1M766.3 193.6h0.2M766.7 124.9h0.2M767 193.6h0M767.2 163.4h0M767.4 124.9h0M767.6 163.4h0M767.7 181.2h0M767.9 193.6h0M768.1 146.4h0M768.3 124.9h0M768.5 193.6h0M768.6 140.9h0M768.8 124.9h0M769 187.3h0M769.2 124.9h0M769.3 157.6h0M769.5 193.6h0M769.7 169.2h0M769.9 124.9h0M770.1 193.6h0M770.2 187.3h0M770.4 124.9h0M770.6 140.9h0M770.8 132.8h0M770.9 190.4h0M771.1 196.7h0M771.3 127.5h0M771.5 172.2h0M771.6 190.4h0M771.8 154.8h0M772 127.5h0M772.2 178.1h0M772.4 190.4h0M772.5 149.2h0M772.7 127.5h0M772.9 149.2h0M773.1 190.4h0M773.2 178.1h0M773.4 127.5h0.2M773.8 154.8h0M774 190.4h0M774.1 172.2h0M774.3 127.5h0M774.5 196.7h0M774.7 132.8h0M774.8 127.5h0M775 190.4h0M775.2 138.2h0M775.4 127.5h0M775.5 190.4h0.2M775.9 166.3h0M776.1 127.5h0M776.3 160.5h0M776.4 190.4h0M776.6 184.2h0M776.8 127.5h0M777 143.6h0M777.1 190.4h0M777.3 143.6h0M777.5 127.5h0M777.7 184.2h0M777.9 127.5h0M778 190.4h0M778.2 160.5h0M778.4 127.5h0M778.6 166.3h0M778.7 190.4h0M778.9 127.5h0M779.1 138.2h0M779.3 187.3h0M779.5 135.5h0M779.6 130.1h0M779.8 193.6h0M780 175.1h0M780.2 187.3h0M780.3 152h0M780.5 130.1h0M780.7 187.3h0M780.9 181.2h0M781 130.1h0M781.2 146.4h0M781.4 152h0M781.6 187.3h0M781.8 175.1h0M781.9 130.1h0.2M782.3 187.3h0M782.5 157.6h0M782.6 130.1h0M782.8 169.2h0M783 130.1h0M783.2 187.3h0M783.4 140.9h0M783.5 130.1h0M783.7 187.3h0M783.9 169.2h0M784.1 187.3h0M784.2 157.6h0M784.4 130.1h0M784.6 187.3h0M784.8 130.1h0M784.9 140.9h0M785.1 146.4h0M785.3 187.3h0M785.5 181.2h0M785.7 130.1h0M785.8 187.3h0M786 163.4h0M786.2 130.1h0M786.4 163.4h0M786.5 193.6h0M786.7 135.5h0M786.9 130.1h0M787.1 184.2h0M787.3 138.2h0M787.4 132.8h0M787.6 190.4h0M787.8 184.2h0M788 178.1h0M788.1 132.8h0M788.3 149.2h0M788.5 184.2h0M788.7 132.8h0M788.9 143.6h0M789 184.2h0M789.2 154.8h0M789.4 132.8h0M789.6 172.2h0M789.7 184.2h0M789.9 160.5h0M790.1 132.8h0M790.3 166.3h0M790.4 132.8h0M790.6 143.6h0M790.8 184.2h0.2M791.2 132.8h0M791.3 172.2h0M791.5 184.2h0M791.7 154.8h0M791.9 132.8h0M792 190.4h0M792.2 138.2h0M792.4 132.8h0M792.6 149.2h0M792.8 184.2h0M792.9 178.1h0M793.1 132.8h0M793.3 166.3h0M793.5 184.2h0M793.6 160.5h0M793.8 132.8h0.2M794.2 140.9h0M794.3 181.2h0M794.5 187.3h0M794.7 135.5h0M794.9 181.2h0M795.1 135.5h0M795.2 146.4h0M795.4 187.3h0M795.6 140.9h0M795.8 135.5h0M795.9 181.2h0M796.1 157.6h0M796.3 135.5h0M796.5 169.2h0M796.7 163.4h0M796.8 181.2h0M797 163.4h0M797.2 135.5h0M797.4 146.4h0M797.5 181.2h0.2M797.9 135.5h0M798.1 181.2h0M798.2 175.1h0M798.4 135.5h0M798.6 152h0M798.8 135.5h0M799 181.2h0M799.1 152h0M799.3 135.5h0M799.5 175.1h0M799.7 169.2h0M799.8 181.2h0M800 157.6h0M800.2 135.5h0.2M800.6 143.6h0M800.7 178.1h0M800.9 184.2h0M801.1 138.2h0M801.3 184.2h0M801.4 143.6h0M801.6 138.2h0.2M802 160.5h0M802.2 178.1h0M802.3 166.3h0M802.5 138.2h0M802.7 166.3h0M802.9 178.1h0M803 160.5h0M803.2 138.2h0M803.4 178.1h0M803.6 149.2h0M803.7 138.2h0M803.9 178.1h0.2M804.3 138.2h0M804.5 149.2h0M804.6 138.2h0M804.8 178.1h0M805 154.8h0M805.2 138.2h0M805.3 172.2h0M805.5 178.1h0M805.7 172.2h0M805.9 138.2h0M806.1 154.8h0M806.2 175.1h0M806.4 146.4h0M806.6 140.9h0M806.8 181.2h0M806.9 140.9h0.2M807.3 163.4h0M807.5 175.1h0M807.6 163.4h0M807.8 140.9h0M808 175.1h0M808.2 169.2h0M808.4 140.9h0M808.5 157.6h0M808.7 175.1h0M808.9 152h0M809.1 140.9h0M809.2 175.1h0M809.4 181.2h0M809.6 146.4h0"/>
<path class="d" stroke="#ff0000" d="M100.4 482.2h0M100.6 463.2h0.1M100.9 448.6h0.4M101.4 436.3h0.6M102.2 425.4h0.7M103 415.6h0.9M104.1 406.6h1.1M105.3 398.2h1.3M106.8 390.3h1.4M108.4 382.8h1.6M110.1 375.8h1.8M112.1 369h1.9M114.2 362.5h2.1M116.5 356.2h2.3M119 350.2h2.5M121.7 344.3h2.6M124.5 338.7h2.8M127.5 333.2h3M130.7 327.8h3.2M134.1 322.6h3.3M137.6 317.6h3.6M141.3 312.6h3.8M145.2 307.8h3.9M149.3 303h4.1M153.6 298.4h4.2M158 293.8h4.4M162.6 289.4h4.6M167.4 285h4.8M172.4 280.7h4.9M177.5 276.4h5.2M182.8 272.3h5.4M188.3 268.2h5.9M194.4 264.2h6M200.6 260.2h6.2M207 256.3h6.3M213.5 252.4h6.6M220.3 248.6h6.7M227.2 244.9h6.9M234.3 241.2h7.1M241.5 237.5h7.3M249 233.9h7.4M256.6 230.3h7.6M264.4 226.8h7.8M272.4 223.3h8M280.6 219.9h8.1M288.9 216.5h8.3M297.4 213.1h8.5M306.1 209.7h8.7M315 206.4h8.8M324 203.2h9.1M333.2 199.9h9.3M342.6 196.7h9.4M352.2 193.6h9.6M362 190.4h9.7M371.9 187.3h9.9M382 184.2h10.1M392.3 181.2h10.3M402.8 178.1h10.4M413.4 175.1h10.6M424.2 172.2h10.8M435.2 169.2h11M446.4 166.3h11.2M457.7 163.4h11.6M469.4 160.5h11.2M480.8 157.6h11M492 154.8h10.8M503 152h10.6M513.8 149.2h10.4M524.4 146.4h10.3M534.9 143.6h10.1M545.2 140.9h9.9M555.3 138.2h9.7M565.2 135.5h9.6M575 132.8h9.4M584.5 130.1h9.3M593.9 127.5h9.1M603.2 124.9h8.8M612.2 122.3h8.7M621.1 119.7h8.5M629.8 117.1h8.3M638.3 114.5h8.1M646.6 112h8M654.8 109.4h7.8M662.8 106.9h7.6M670.6 104.4h7.4M678.2 101.9h7.3M685.6 99.5h7.1M692.9 97h6.9M700 94.6h6.7M706.9 92.1h6.6M713.7 89.7h6.3M720.2 87.3h6.2M726.6 84.9h6M732.8 82.6h5.9M738.8 80.2h5.4M744.3 77.8h5.2M749.7 75.5h4.9M754.8 73.2h4.8M759.8 70.9h4.6M764.6 68.6h4.4M769.2 66.3h4.2M773.6 64h4.1M777.9 61.7h3.9M781.9 59.5h3.8M785.8 57.2h3.6M789.6 55h3.3M793.1 52.7h3.2M796.5 50.5h3M799.7 48.3h2.8M802.7 46.1h2.6M805.5 43.9h2.5M808.2 41.8h1.4"/>
<path class="d" stroke="#000" stroke-width="4.1" d="M100.6 162.8 100.7 163.3 100.9 163.3 101.1 163.2 101.3 163.3 101.4 163.1 101.6 163.2 101.8 162.8 102.0 162.9 102.2 163.0 102.3 163.2 102.5 163.0 102.7 163.0 102.9 163.3 103.0 163.1 103.2 163.0 103.4 163.2 103.6 162.9 103.7 163.1 103.9 163.5 104.1 163.4 104.3 163.6 104.5 163.4 104.6 163.7 104.8 163.3 105.0 163.4 105.2 163.5 105.3 163.7 105.5 163.9 105.7 163.3 105.9 163.7 106.1 163.5 106.2 163.7 106.4 163.7 106.6 163.4 106.8 163.7 106.9 163.5 107.1 163.9 107.3 163.6 107.5 163.7 107.6 163.7 107.8 163.7 108.0 163.7 108.2 163.4 108.4 164.0 108.5 163.7 108.7 163.8 108.9 163.4 109.1 163.7 109.2 163.5 109.4 163.6 109.6 163.4 109.8 163.4 110.0 163.6 110.1 163.5 110.3 163.7 110.5 163.4 110.7 163.3 110.8 163.4 111.0 163.2 111.2 163.7 111.4 163.7 111.6 163.6 111.7 163.5 111.9 163.4 112.1 163.5 112.3 163.4 112.4 163.2 112.6 163.5 112.8 163.7 113.0 163.6 113.1 163.1 113.3 163.9 113.5 163.5 113.7 163.2 113.9 163.3 114.0 163.6 114.2 163.4 114.4 163.3 114.6 163.1 114.7 163.5 114.9 163.3 115.1 163.3 115.3 163.2 115.5 163.1 115.6 163.5 115.8 163.7 116.0 163.4 116.2 163.1 116.3 163.2 116.5 163.3 116.7 162.9 116.9 163.5 117.0 163.1 117.2 163.3 117.4 163.2 117.6 163.3 117.8 163.0 117.9 163.5 118.1 163.5 118.3 163.7 118.5 163.4 118.6 163.6 118.8 163.3 119.0 163.6 119.2 163.5 119.4 163.2 119.5 163.4 119.7 163.3 119.9 163.3 120.1 163.4 120.2 163.6 120.4 163.2 120.6 163.3 120.8 163.2 120.9 163.8 121.1 163.7 121.3 163.8 121.5 163.5 121.7 163.2 121.8 163.2 122.0 163.4 122.2 163.4 122.4 163.3 122.5 163.6 122.7 163.4 122.9 163.6 123.1 163.9 123.3 163.7 123.4 163.4 123.6 163.7 123.8 163.6 124.0 163.7 124.1 163.7 124.3 163.4 124.5 163.5 124.7 163.7 124.9 164.0 125.0 163.6 125.2 163.9 125.4 163.8 125.6 163.4 125.7 163.4 125.9 163.8 126.1 163.4 126.3 163.5 126.4 163.7 126.6 163.4 126.8 163.8 127.0 163.7 127.2 163.7 127.3 163.7 127.5 163.4 127.7 163.8 127.9 163.7 128.0 163.7 128.2 163.6 128.4 163.7 128.6 163.4 128.8 163.7 128.9 163.8 129.1 163.7 129.3 163.5 129.5 163.7 129.6 163.5 129.8 163.3 130.0 163.8 130.2 163.6 130.3 163.4 130.5 163.7 130.7 163.8 130.9 163.8 131.1 163.6 131.2 163.6 131.4 163.7 131.6 163.7 131.8 163.5 131.9 163.5 132.1 163.9 132.3 163.7 132.5 163.7 132.7 163.6 132.8 163.7 133.0 163.8 133.2 163.7 133.4 164.0 133.5 163.6 133.7 163.6 133.9 163.4 134.1 163.7 134.3 163.7 134.4 163.7 134.6 163.7 134.8 163.4 135.0 163.5 135.1 163.3 135.3 163.5 135.5 163.3 135.7 163.6 135.8 163.3 136.0 163.4 136.2 163.2 136.4 163.2 136.6 163.2 136.7 162.9 136.9 163.0 137.1 163.0 137.3 163.0 137.4 163.1 137.6 163.2 137.8 163.1 138.0 163.2 138.2 163.1 138.3 163.1 138.5 163.1 138.7 163.4 138.9 163.5 139.0 163.3 139.2 163.4 139.4 163.2 139.6 163.5 139.7 163.5 139.9 163.4 140.1 163.6 140.3 163.5 140.5 163.2 140.6 163.3 140.8 163.4 141.0 163.5 141.2 163.8 141.3 163.5 141.5 163.6 141.7 163.6 141.9 163.7 142.1 163.5 142.2 163.6 142.4 163.4 142.6 163.2 142.8 163.4 142.9 163.8 143.1 163.7 143.3 163.8 143.5 163.7 143.7 163.4 143.8 163.4 144.0 163.6 144.2 163.4 144.4 163.7 144.5 163.8 144.7 163.9 144.9 164.0 145.1 163.6 145.2 164.0 145.4 163.5 145.6 163.6 145.8 163.9 146.0 163.8 146.1 163.9 146.3 163.8 146.5 163.6 146.7 163.7 146.8 163.5 147.0 163.4 147.2 163.6 147.4 163.6 147.6 163.6 147.7 163.6 147.9 163.8 148.1 163.6 148.3 163.6 148.4 163.8 148.6 163.3 148.8 163.8 149.0 163.7 149.1 163.5 149.3 163.8 149.5 163.6 149.7 163.9 149.9 163.7 150.0 163.6 150.2 163.5 150.4 163.4 150.6 163.5 150.7 163.4 150.9 163.4 151.1 163.6 151.3 163.3 151.5 163.5 151.6 163.6 151.8 163.2 152.0 163.4 152.2 163.4 152.3 163.3 152.5 163.2 152.7 163.6 152.9 163.3 153.1 163.5 153.2 163.3 153.4 163.4 153.6 163.1 153.8 163.1 153.9 163.3 154.1 163.2 154.3 163.4 154.5 163.2 154.6 163.1 154.8 163.1 155.0 163.5 155.2 163.2 155.4 163.1 155.5 163.2 155.7 163.0 155.9 163.4 156.1 163.1 156.2 163.3 156.4 163.2 156.6 163.2 156.8 163.2 157.0 163.4 157.1 163.2 157.3 163.5 157.5 163.5 157.7 163.1 157.8 163.2 158.0 163.5 158.2 163.4 158.4 163.2 158.5 163.0 158.7 163.1 158.9 163.0 159.1 163.5 159.3 163.2 159.4 163.1 159.6 163.1 159.8 163.2 160.0 163.4 160.1 162.9 160.3 163.0 160.5 163.2 160.7 163.3 160.9 162.8 161.0 163.2 161.2 162.8 161.4 162.7 161.6 163.2 161.7 163.1 161.9 163.2 162.1 163.0 162.3 162.9 162.4 162.7 162.6 163.0 162.8 163.1 163.0 162.9 163.2 163.2 163.3 163.2 163.5 162.7 163.7 163.2 163.9 163.2 164.0 163.1 164.2 163.3 164.4 163.4 164.6 162.8 164.8 163.1 164.9 163.0 165.1 163.1 165.3 163.2 165.5 163.3 165.6 163.2 165.8 162.7 166.0 163.0 166.2 163.0 166.4 163.5 166.5 163.2 166.7 163.4 166.9 163.1 167.1 163.1 167.2 163.1 167.4 163.1 167.6 163.3 167.8 163.4 167.9 163.1 168.1 163.5 168.3 163.4 168.5 163.3 168.7 163.4 168.8 163.1 169.0 162.9 169.2 163.1 169.4 163.1 169.5 163.1 169.7 163.0 169.9 163.5 170.1 163.2 170.3 163.5 170.4 163.5 170.6 163.3 170.8 163.3 171.0 163.1 171.1 163.1 171.3 163.7 171.5 163.3 171.7 162.9 171.8 163.1 172.0 163.0 172.2 163.2 172.4 163.5 172.6 163.5 172.7 163.2 172.9 163.1 173.1 163.5 173.3 163.3 173.4 163.2 173.6 163.5 173.8 163.3 174.0 162.9 174.2 162.9 174.3 163.1 174.5 162.8 174.7 163.1 174.9 163.2 175.0 163.5 175.2 163.0 175.4 163.3 175.6 162.7 175.8 163.1 175.9 163.1 176.1 163.4 176.3 162.9 176.5 163.3 176.6 163.2 176.8 163.6 177.0 163.1 177.2 163.1 177.3 163.4 177.5 163.3 177.7 163.3 177.9 163.2 178.1 163.3 178.2 163.1 178.4 163.5 178.6 163.6 178.8 163.6 178.9 163.9 179.1 163.6 179.3 163.2 179.5 163.4 179.7 163.5 179.8 163.3 180.0 163.8 180.2 163.5 180.4 163.3 180.5 163.3 180.7 163.5 180.9 163.3 181.1 163.1 181.2 163.5 181.4 163.2 181.6 163.7 181.8 163.7 182.0 163.4 182.1 163.4 182.3 163.5 182.5 163.7 182.7 163.6 182.8 163.4 183.0 163.3 183.2 163.7 183.4 163.9 183.6 163.5 183.7 163.6 183.9 163.6 184.1 163.7 184.3 163.3 184.4 163.7 184.6 163.6 184.8 164.1 185.0 163.9 185.2 164.0 185.3 163.8 185.5 163.7 185.7 163.9 185.9 163.4 186.0 163.9 186.2 163.8 186.4 163.6 186.6 163.9 186.7 163.6 186.9 163.7 187.1 163.9 187.3 163.4 187.5 163.7 187.6 163.7 187.8 164.0 188.0 164.1 188.2 163.9 188.3 163.9 188.5 163.9 188.7 163.8 188.9 164.2 189.1 164.1 189.2 164.2 189.4 163.7 189.6 164.1 189.8 164.0 189.9 164.0 190.1 163.7 190.3 163.9 190.5 163.9 190.6 164.3 190.8 163.8 191.0 163.9 191.2 163.8 191.4 163.8 191.5 164.0 191.7 164.0 191.9 163.8 192.1 163.7 192.2 163.8 192.4 163.8 192.6 163.9 192.8 163.7 193.0 163.7 193.1 163.8 193.3 163.6 193.5 164.1 193.7 163.9 193.8 163.5 194.0 163.9 194.2 164.1 194.4 163.6 194.6 163.8 194.7 164.1 194.9 163.7 195.1 164.0 195.3 164.1 195.4 163.9 195.6 164.0 195.8 164.2 196.0 164.0 196.1 164.2 196.3 164.0 196.5 164.0 196.7 163.9 196.9 164.1 197.0 164.3 197.2 164.3 197.4 164.1 197.6 163.8 197.7 163.9 197.9 164.2 198.1 163.9 198.3 164.3 198.5 163.9 198.6 164.1 198.8 163.9 199.0 164.0 199.2 164.1 199.3 164.0 199.5 164.2 199.7 164.0 199.9 163.8 200.0 163.3 200.2 163.8 200.4 163.9 200.6 164.0 200.8 163.8 200.9 164.2 201.1 164.0 201.3 163.7 201.5 163.9 201.6 163.5 201.8 163.6 202.0 163.8 202.2 164.0 202.4 164.1 202.5 164.1 202.7 163.9 202.9 163.9 203.1 163.8 203.2 163.9 203.4 164.0 203.6 163.7 203.8 163.9 203.9 163.7 204.1 163.4 204.3 163.5 204.5 163.8 204.7 163.8 204.8 163.5 205.0 163.4 205.2 163.9 205.4 163.7 205.5 163.6 205.7 163.4 205.9 163.7 206.1 163.4 206.3 163.5 206.4 163.1 206.6 163.4 206.8 163.5 207.0 163.6 207.1 163.4 207.3 163.4 207.5 163.7 207.7 163.6 207.9 163.8 208.0 163.8 208.2 163.9 208.4 164.0 208.6 163.9 208.7 163.9 208.9 163.6 209.1 163.6 209.3 163.8 209.4 163.9 209.6 163.7 209.8 164.1 210.0 164.1 210.2 163.6 210.3 163.5 210.5 163.4 210.7 163.6 210.9 163.7 211.0 163.5 211.2 163.4 211.4 163.6 211.6 163.5 211.8 163.6 211.9 163.5 212.1 163.2 212.3 163.2 212.5 163.4 212.6 163.4 212.8 163.2 213.0 163.1 213.2 163.4 213.3 163.2 213.5 163.5 213.7 163.3 213.9 163.1 214.1 163.1 214.2 163.4 214.4 163.4 214.6 163.2 214.8 163.3 214.9 163.3 215.1 163.1 215.3 163.2 215.5 163.0 215.7 163.1 215.8 163.2 216.0 163.2 216.2 163.2 216.4 163.4 216.5 163.4 216.7 163.0 216.9 163.5 217.1 163.1 217.3 163.2 217.4 163.3 217.6 163.1 217.8 163.1 218.0 163.0 218.1 163.3 218.3 163.1 218.5 163.0 218.7 162.6 218.8 162.8 219.0 163.0 219.2 162.9 219.4 163.1 219.6 162.9 219.7 162.9 219.9 162.6 220.1 163.4 220.3 162.9 220.4 163.0 220.6 163.2 220.8 163.2 221.0 163.2 221.2 163.1 221.3 162.9 221.5 163.3 221.7 162.9 221.9 163.2 222.0 162.9 222.2 163.1 222.4 162.9 222.6 163.1 222.7 163.0 222.9 163.2 223.1 163.3 223.3 163.1 223.5 163.2 223.6 162.9 223.8 163.5 224.0 163.2 224.2 162.9 224.3 163.3 224.5 163.0 224.7 162.6 224.9 162.8 225.1 163.1 225.2 162.7 225.4 162.7 225.6 162.8 225.8 162.8 225.9 162.7 226.1 162.9 226.3 162.8 226.5 162.7 226.7 162.7 226.8 162.5 227.0 162.8 227.2 163.2 227.4 162.8 227.5 162.8 227.7 162.8 227.9 162.9 228.1 163.0 228.2 162.7 228.4 163.1 228.6 163.0 228.8 163.1 229.0 163.2 229.1 162.7 229.3 163.3 229.5 163.0 229.7 162.9 229.8 163.0 230.0 162.9 230.2 163.1 230.4 163.2 230.6 162.8 230.7 163.2 230.9 163.3 231.1 163.4 231.3 163.3 231.4 163.1 231.6 163.1 231.8 163.3 232.0 163.4 232.1 163.3 232.3 163.7 232.5 163.3 232.7 163.2 232.9 163.2 233.0 163.0 233.2 163.2 233.4 163.2 233.6 162.7 233.7 162.9 233.9 162.8 234.1 163.0 234.3 162.9 234.5 162.9 234.6 162.9 234.8 162.7 235.0 163.1 235.2 163.0 235.3 163.0 235.5 163.6 235.7 163.2 235.9 163.0 236.1 162.9 236.2 163.1 236.4 162.8 236.6 162.8 236.8 163.0 236.9 162.7 237.1 162.6 237.3 162.9 237.5 163.1 237.6 162.7 237.8 163.1 238.0 163.1 238.2 163.0 238.4 163.1 238.5 162.7 238.7 162.9 238.9 162.8 239.1 162.9 239.2 163.2 239.4 163.0 239.6 162.9 239.8 163.2 240.0 162.7 240.1 163.3 240.3 163.4 240.5 163.1 240.7 163.1 240.8 163.2 241.0 163.2 241.2 163.2 241.4 163.1 241.5 163.2 241.7 163.4 241.9 163.3 242.1 163.2 242.3 163.3 242.4 164.0 242.6 163.6 242.8 163.5 243.0 163.4 243.1 163.3 243.3 163.2 243.5 163.2 243.7 163.3 243.9 163.2 244.0 162.9 244.2 163.4 244.4 163.2 244.6 163.0 244.7 163.2 244.9 163.7 245.1 163.2 245.3 163.3 245.4 163.3 245.6 163.2 245.8 163.3 246.0 163.5 246.2 163.3 246.3 163.4 246.5 163.4 246.7 163.4 246.9 163.4 247.0 163.5 247.2 163.5 247.4 163.3 247.6 163.5 247.8 163.5 247.9 163.1 248.1 163.4 248.3 163.4 248.5 163.4 248.6 163.4 248.8 163.4 249.0 163.5 249.2 163.6 249.4 163.4 249.5 163.8 249.7 163.5 249.9 164.0 250.1 163.9 250.2 163.6 250.4 163.8 250.6 163.8 250.8 163.6 250.9 163.9 251.1 163.7 251.3 164.0 251.5 163.8 251.7 163.9 251.8 163.7 252.0 163.5 252.2 163.8 252.4 163.3 252.5 163.7 252.7 163.9 252.9 164.0 253.1 163.3 253.3 163.5 253.4 163.5 253.6 163.5 253.8 163.6 254.0 163.2 254.1 163.3 254.3 163.0 254.5 163.5 254.7 163.8 254.8 163.3 255.0 163.5 255.2 163.4 255.4 163.1 255.6 163.3 255.7 163.1 255.9 163.3 256.1 163.3 256.3 163.1 256.4 163.2 256.6 162.9 256.8 162.9 257.0 163.1 257.2 163.0 257.3 163.0 257.5 163.1 257.7 162.9 257.9 163.1 258.0 162.9 258.2 163.2 258.4 163.0 258.6 163.0 258.8 163.2 258.9 163.1 259.1 163.2 259.3 163.0 259.5 163.2 259.6 163.1 259.8 162.9 260.0 163.1 260.2 163.4 260.3 163.0 260.5 162.7 260.7 163.0 260.9 162.7 261.1 162.8 261.2 162.8 261.4 162.8 261.6 163.0 261.8 162.9 261.9 162.8 262.1 162.7 262.3 162.7 262.5 162.8 262.7 162.8 262.8 162.7 263.0 163.0 263.2 162.9 263.4 162.9 263.5 162.9 263.7 162.9 263.9 162.8 264.1 162.9 264.2 162.7 264.4 162.7 264.6 163.1 264.8 162.8 265.0 163.0 265.1 162.5 265.3 162.9 265.5 162.9 265.7 162.8 265.8 162.9 266.0 162.8 266.2 162.6 266.4 162.9 266.6 162.8 266.7 162.7 266.9 163.0 267.1 162.5 267.3 162.7 267.4 162.6 267.6 163.0 267.8 162.7 268.0 162.7 268.2 162.9 268.3 162.5 268.5 162.8 268.7 162.9 268.9 162.9 269.0 162.8 269.2 162.7 269.4 162.8 269.6 162.6 269.7 162.5 269.9 163.0 270.1 162.7 270.3 162.8 270.5 162.6 270.6 162.4 270.8 162.5 271.0 162.7 271.2 162.7 271.3 162.5 271.5 162.7 271.7 162.6 271.9 162.5 272.1 162.9 272.2 162.4 272.4 162.5 272.6 162.5 272.8 162.7 272.9 162.8 273.1 162.7 273.3 162.6 273.5 162.6 273.6 162.6 273.8 162.4 274.0 162.5 274.2 162.9 274.4 162.9 274.5 162.6 274.7 162.9 274.9 162.6 275.1 162.5 275.2 162.9 275.4 162.8 275.6 162.8 275.8 162.9 276.0 162.9 276.1 162.8 276.3 162.6 276.5 162.8 276.7 162.8 276.8 162.8 277.0 163.0 277.2 162.5 277.4 163.2 277.6 162.9 277.7 162.7 277.9 163.0 278.1 162.7 278.3 162.6 278.4 162.9 278.6 162.7 278.8 162.8 279.0 162.5 279.1 162.6 279.3 162.6 279.5 162.4 279.7 162.5 279.9 162.4 280.0 162.5 280.2 162.9 280.4 162.7 280.6 162.8 280.7 163.1 280.9 162.7 281.1 162.9 281.3 162.9 281.5 163.1 281.6 163.0 281.8 163.1 282.0 163.2 282.2 163.3 282.3 163.7 282.5 163.0 282.7 163.5 282.9 163.6 283.0 163.5 283.2 163.4 283.4 163.2 283.6 163.5 283.8 163.2 283.9 163.3 284.1 162.8 284.3 163.1 284.5 162.9 284.6 163.4 284.8 163.1 285.0 163.3 285.2 163.0 285.4 162.9 285.5 163.4 285.7 163.4 285.9 163.3 286.1 163.4 286.2 163.3 286.4 163.4 286.6 163.5 286.8 163.2 286.9 163.0 287.1 163.3 287.3 163.2 287.5 163.2 287.7 163.2 287.8 163.3 288.0 163.0 288.2 163.1 288.4 163.0 288.5 163.1 288.7 162.8 288.9 162.9 289.1 163.3 289.3 163.3 289.4 163.2 289.6 163.5 289.8 163.3 290.0 163.4 290.1 163.4 290.3 163.2 290.5 163.5 290.7 163.3 290.9 163.5 291.0 162.8 291.2 163.0 291.4 163.0 291.6 163.3 291.7 163.1 291.9 163.1 292.1 163.2 292.3 163.3 292.4 163.6 292.6 163.3 292.8 163.5 293.0 163.6 293.2 163.5 293.3 163.4 293.5 163.3 293.7 163.7 293.9 163.2 294.0 163.2 294.2 163.5 294.4 163.6 294.6 163.5 294.8 163.3 294.9 163.5 295.1 163.5 295.3 163.2 295.5 163.7 295.6 163.3 295.8 163.0 296.0 163.1 296.2 163.0 296.3 163.0 296.5 163.0 296.7 163.1 296.9 163.3 297.1 163.2 297.2 163.2 297.4 163.0 297.6 163.0 297.8 163.2 297.9 163.4 298.1 163.4 298.3 163.3 298.5 163.0 298.7 163.1 298.8 163.2 299.0 163.3 299.2 163.0 299.4 163.1 299.5 163.1 299.7 163.2 299.9 162.8 300.1 163.1 300.3 162.9 300.4 163.0 300.6 163.2 300.8 163.0 301.0 163.3 301.1 163.3 301.3 163.3 301.5 163.5 301.7 163.3 301.8 163.5 302.0 163.4 302.2 163.3 302.4 163.9 302.6 163.4 302.7 163.8 302.9 163.3 303.1 163.5 303.3 163.3 303.4 163.0 303.6 163.4 303.8 163.0 304.0 163.1 304.2 163.4 304.3 162.9 304.5 163.0 304.7 163.2 304.9 163.2 305.0 162.6 305.2 163.2 305.4 163.5 305.6 163.2 305.7 163.1 305.9 163.1 306.1 163.1 306.3 163.2 306.5 162.9 306.6 163.1 306.8 163.3 307.0 163.3 307.2 163.3 307.3 163.0 307.5 163.1 307.7 163.3 307.9 163.2 308.1 163.2 308.2 162.9 308.4 163.3 308.6 163.2 308.8 163.2 308.9 163.6 309.1 163.3 309.3 163.4 309.5 163.5 309.7 163.3 309.8 163.3 310.0 163.3 310.2 163.5 310.4 163.4 310.5 163.0 310.7 163.7 310.9 163.5 311.1 163.4 311.2 163.6 311.4 163.5 311.6 163.5 311.8 163.4 312.0 163.3 312.1 163.5 312.3 163.4 312.5 163.3 312.7 163.3 312.8 163.3 313.0 163.5 313.2 163.1 313.4 163.0 313.6 163.0 313.7 163.1 313.9 163.5 314.1 163.1 314.3 163.6 314.4 163.4 314.6 163.1 314.8 163.5 315.0 163.2 315.1 163.3 315.3 163.4 315.5 163.5 315.7 163.3 315.9 163.4 316.0 163.0 316.2 163.0 316.4 163.5 316.6 163.4 316.7 163.5 316.9 163.7 317.1 163.6 317.3 163.4 317.5 163.5 317.6 163.7 317.8 163.4 318.0 163.3 318.2 163.6 318.3 163.6 318.5 163.1 318.7 163.1 318.9 163.6 319.0 163.4 319.2 163.1 319.4 163.3 319.6 163.1 319.8 163.2 319.9 163.0 320.1 163.5 320.3 163.5 320.5 163.3 320.6 162.9 320.8 163.2 321.0 163.4 321.2 163.0 321.4 162.9 321.5 163.0 321.7 163.0 321.9 162.8 322.1 162.8 322.2 163.0 322.4 163.0 322.6 163.2 322.8 163.2 323.0 163.2 323.1 163.1 323.3 163.2 323.5 163.1 323.7 162.9 323.8 163.1 324.0 163.0 324.2 163.4 324.4 163.0 324.5 163.2 324.7 163.3 324.9 163.3 325.1 162.9 325.3 163.0 325.4 163.3 325.6 163.3 325.8 163.1 326.0 163.1 326.1 162.7 326.3 163.2 326.5 163.3 326.7 163.0 326.9 162.9 327.0 162.9 327.2 162.7 327.4 162.5 327.6 162.9 327.7 163.0 327.9 163.2 328.1 162.8 328.3 162.6 328.4 162.8 328.6 162.5 328.8 162.6 329.0 162.4 329.2 162.6 329.3 162.9 329.5 163.0 329.7 163.0 329.9 163.1 330.0 162.7 330.2 162.6 330.4 162.3 330.6 162.6 330.8 162.7 330.9 162.8 331.1 162.5 331.3 162.6 331.5 162.8 331.6 162.6 331.8 162.5 332.0 163.0 332.2 162.6 332.4 162.7 332.5 162.8 332.7 162.8 332.9 162.4 333.1 162.4 333.2 162.4 333.4 162.9 333.6 162.9 333.8 162.6 333.9 162.9 334.1 163.0 334.3 163.2 334.5 162.6 334.7 162.6 334.8 162.7 335.0 162.7 335.2 162.9 335.4 162.9 335.5 162.6 335.7 162.8 335.9 162.5 336.1 162.9 336.3 162.9 336.4 162.4 336.6 162.6 336.8 162.4 337.0 162.6 337.1 163.0 337.3 162.4 337.5 162.8 337.7 162.4 337.8 162.9 338.0 162.9 338.2 162.5 338.4 162.5 338.6 162.6 338.7 162.9 338.9 162.5 339.1 163.0 339.3 162.9 339.4 163.0 339.6 162.9 339.8 162.8 340.0 163.2 340.2 163.0 340.3 163.0 340.5 163.4 340.7 163.2 340.9 163.1 341.0 163.2 341.2 163.0 341.4 163.4 341.6 163.0 341.8 162.9 341.9 163.0 342.1 163.3 342.3 163.1 342.5 163.2 342.6 163.0 342.8 163.2 343.0 163.1 343.2 163.3 343.3 162.9 343.5 163.6 343.7 163.3 343.9 163.1 344.1 163.5 344.2 163.1 344.4 163.4 344.6 163.2 344.8 163.5 344.9 163.4 345.1 163.3 345.3 163.3 345.5 163.4 345.7 162.8 345.8 163.3 346.0 163.4 346.2 163.0 346.4 163.0 346.5 162.9 346.7 162.8 346.9 163.3 347.1 163.0 347.2 163.1 347.4 163.1 347.6 163.0 347.8 163.5 348.0 163.1 348.1 162.7 348.3 163.2 348.5 162.9 348.7 162.8 348.8 162.8 349.0 162.6 349.2 163.3 349.4 163.1 349.6 162.9 349.7 163.4 349.9 163.2 350.1 162.8 350.3 162.8 350.4 162.9 350.6 163.4 350.8 163.0 351.0 162.9 351.2 163.0 351.3 163.0 351.5 162.5 351.7 163.1 351.9 163.3 352.0 163.0 352.2 163.1 352.4 163.1 352.6 163.0 352.7 162.9 352.9 163.1 353.1 163.4 353.3 163.1 353.5 162.9 353.6 163.1 353.8 162.8 354.0 162.8 354.2 163.2 354.3 162.9 354.5 162.6 354.7 162.7 354.9 162.9 355.1 162.8 355.2 163.1 355.4 163.3 355.6 163.0 355.8 163.1 355.9 163.1 356.1 163.2 356.3 163.1 356.5 163.3 356.6 163.2 356.8 163.1 357.0 163.3 357.2 163.1 357.4 163.5 357.5 163.3 357.7 162.9 357.9 162.8 358.1 163.1 358.2 163.1 358.4 163.3 358.6 163.2 358.8 163.0 359.0 163.3 359.1 163.0 359.3 163.0 359.5 163.0 359.7 163.3 359.8 163.1 360.0 163.5 360.2 162.9 360.4 163.1 360.5 163.3 360.7 162.9 360.9 162.8 361.1 163.1 361.3 162.6 361.4 163.3 361.6 163.1 361.8 162.9 362.0 163.5 362.1 162.9 362.3 163.1 362.5 163.2 362.7 163.4 362.9 163.2 363.0 163.4 363.2 163.4 363.4 163.2 363.6 163.4 363.7 163.0 363.9 163.4 364.1 163.3 364.3 163.2 364.5 163.0 364.6 162.8 364.8 162.8 365.0 163.0 365.2 163.1 365.3 163.1 365.5 163.0 365.7 163.0 365.9 163.3 366.0 163.5 366.2 162.8 366.4 163.0 366.6 163.2 366.8 163.1 366.9 163.2 367.1 163.2 367.3 163.0 367.5 162.9 367.6 163.0 367.8 163.1 368.0 162.8 368.2 162.7 368.4 162.8 368.5 162.7 368.7 163.0 368.9 162.7 369.1 162.6 369.2 162.8 369.4 162.9 369.6 162.6 369.8 162.8 369.9 162.6 370.1 162.8 370.3 162.6 370.5 162.8 370.7 163.1 370.8 162.7 371.0 162.7 371.2 162.5 371.4 162.7 371.5 162.7 371.7 162.5 371.9 162.4 372.1 162.6 372.3 162.5 372.4 162.4 372.6 162.5 372.8 162.4 373.0 162.5 373.1 162.6 373.3 162.5 373.5 162.2 373.7 162.6 373.9 162.6 374.0 162.6 374.2 162.6 374.4 162.5 374.6 162.8 374.7 162.9 374.9 162.5 375.1 162.8 375.3 162.6 375.4 162.6 375.6 162.4 375.8 162.5 376.0 162.7 376.2 162.9 376.3 163.0 376.5 162.9 376.7 162.8 376.9 163.2 377.0 162.8 377.2 162.8 377.4 162.6 377.6 162.8 377.8 162.8 377.9 162.9 378.1 162.8 378.3 163.0 378.5 162.7 378.6 162.4 378.8 162.7 379.0 162.7 379.2 162.8 379.3 162.4 379.5 162.8 379.7 162.6 379.9 162.7 380.1 162.8 380.2 162.5 380.4 162.7 380.6 162.7 380.8 162.7 380.9 162.9 381.1 162.9 381.3 162.8 381.5 162.9 381.7 162.8 381.8 162.9 382.0 163.0 382.2 162.8 382.4 162.7 382.5 162.7 382.7 162.4 382.9 162.9 383.1 162.7 383.3 163.1 383.4 162.9 383.6 162.9 383.8 163.2 384.0 163.2 384.1 162.8 384.3 162.9 384.5 163.0 384.7 163.1 384.8 162.6 385.0 163.1 385.2 163.1 385.4 162.8 385.6 163.0 385.7 163.1 385.9 162.8 386.1 163.0 386.3 162.9 386.4 163.0 386.6 163.2 386.8 162.9 387.0 163.0 387.2 163.3 387.3 163.3 387.5 163.0 387.7 163.3 387.9 163.3 388.0 163.2 388.2 163.3 388.4 163.6 388.6 163.2 388.7 163.2 388.9 163.2 389.1 163.1 389.3 163.2 389.5 163.1 389.6 163.0 389.8 163.3 390.0 163.0 390.2 163.0 390.3 163.1 390.5 163.0 390.7 163.2 390.9 163.4 391.1 163.1 391.2 163.2 391.4 163.2 391.6 163.3 391.8 163.1 391.9 163.1 392.1 163.4 392.3 163.2 392.5 163.2 392.7 163.4 392.8 163.4 393.0 163.3 393.2 163.3 393.4 163.1 393.5 162.9 393.7 162.7 393.9 162.8 394.1 162.9 394.2 162.9 394.4 162.9 394.6 163.2 394.8 163.1 395.0 163.1 395.1 163.2 395.3 163.3 395.5 163.3 395.7 163.3 395.8 163.4 396.0 163.2 396.2 163.3 396.4 163.3 396.6 163.2 396.7 163.2 396.9 163.4 397.1 163.4 397.3 163.7 397.4 163.7 397.6 163.7 397.8 163.0 398.0 163.5 398.1 163.2 398.3 163.0 398.5 163.4 398.7 163.1 398.9 163.1 399.0 163.3 399.2 163.1 399.4 163.4 399.6 163.6 399.7 163.5 399.9 163.6 400.1 163.8 400.3 163.9 400.5 163.2 400.6 163.8 400.8 163.8 401.0 163.9 401.2 163.8 401.3 163.8 401.5 163.8 401.7 164.0 401.9 164.0 402.0 163.9 402.2 163.7 402.4 163.5 402.6 163.6 402.8 163.5 402.9 163.8 403.1 163.8 403.3 164.0 403.5 163.7 403.6 164.0 403.8 163.7 404.0 163.3 404.2 163.4 404.4 163.3 404.5 163.5 404.7 163.6 404.9 163.5 405.1 163.5 405.2 163.2 405.4 163.1 405.6 163.6 405.8 163.5 406.0 163.4 406.1 163.4 406.3 163.7 406.5 163.5 406.7 163.4 406.8 163.4 407.0 163.7 407.2 163.6 407.4 163.8 407.5 163.4 407.7 163.7 407.9 163.7 408.1 163.6 408.3 163.7 408.4 163.7 408.6 163.9 408.8 163.3 409.0 163.4 409.1 163.5 409.3 163.2 409.5 163.6 409.7 163.5 409.9 163.5 410.0 163.2 410.2 163.4 410.4 163.5 410.6 163.5 410.7 163.3 410.9 163.1 411.1 163.6 411.3 163.3 411.4 163.4 411.6 163.5 411.8 163.8 412.0 163.3 412.2 163.6 412.3 163.4 412.5 163.4 412.7 163.6 412.9 163.4 413.0 163.5 413.2 163.3 413.4 163.3 413.6 163.2 413.8 163.1 413.9 163.2 414.1 162.8 414.3 163.1 414.5 163.3 414.6 163.3 414.8 163.3 415.0 163.3 415.2 163.3 415.4 163.4 415.5 162.9 415.7 163.1 415.9 163.3 416.1 163.2 416.2 163.2 416.4 162.9 416.6 163.0 416.8 162.9 416.9 163.7 417.1 163.0 417.3 163.0 417.5 162.9 417.7 163.2 417.8 163.5 418.0 163.1 418.2 163.4 418.4 163.7 418.5 163.5 418.7 163.3 418.9 163.2 419.1 163.4 419.3 163.7 419.4 163.1 419.6 163.8 419.8 163.6 420.0 163.8 420.1 163.4 420.3 163.4 420.5 163.4 420.7 163.5 420.8 163.5 421.0 163.4 421.2 163.8 421.4 163.2 421.6 163.3 421.7 163.4 421.9 163.4 422.1 163.4 422.3 163.0 422.4 163.2 422.6 163.3 422.8 163.2 423.0 163.4 423.2 163.3 423.3 163.1 423.5 163.2 423.7 163.1 423.9 162.9 424.0 163.0 424.2 163.1 424.4 163.0 424.6 163.1 424.8 163.2 424.9 163.1 425.1 163.5 425.3 163.0 425.5 163.5 425.6 163.1 425.8 163.3 426.0 163.1 426.2 163.3 426.3 163.5 426.5 163.2 426.7 163.4 426.9 163.4 427.1 163.4 427.2 163.3 427.4 163.3 427.6 163.4 427.8 163.6 427.9 163.3 428.1 163.3 428.3 163.0 428.5 163.2 428.7 163.3 428.8 163.0 429.0 163.2 429.2 163.1 429.4 163.1 429.5 163.3 429.7 162.9 429.9 162.9 430.1 163.0 430.2 163.2 430.4 162.9 430.6 162.7 430.8 163.0 431.0 163.1 431.1 162.8 431.3 163.1 431.5 163.2 431.7 162.8 431.8 162.9 432.0 162.9 432.2 163.0 432.4 162.8 432.6 162.8 432.7 162.9 432.9 162.8 433.1 162.7 433.3 162.6 433.4 162.6 433.6 162.5 433.8 163.3 434.0 162.9 434.2 162.7 434.3 162.7 434.5 163.0 434.7 162.5 434.9 162.8 435.0 163.0 435.2 162.8 435.4 162.9 435.6 163.1 435.7 162.8 435.9 162.9 436.1 163.0 436.3 162.8 436.5 162.8 436.6 162.9 436.8 162.5 437.0 162.9 437.2 162.4 437.3 162.6 437.5 162.9 437.7 162.7 437.9 162.5 438.1 162.8 438.2 162.9 438.4 162.8 438.6 162.5 438.8 163.1 438.9 162.7 439.1 162.8 439.3 162.9 439.5 162.8 439.6 162.8 439.8 162.5 440.0 162.6 440.2 162.8 440.4 162.3 440.5 162.8 440.7 162.5 440.9 162.6 441.1 162.3 441.2 162.5 441.4 162.2 441.6 162.5 441.8 162.3 442.0 162.5 442.1 162.1 442.3 162.6 442.5 162.3 442.7 162.3 442.8 162.3 443.0 162.5 443.2 162.4 443.4 162.8 443.5 162.8 443.7 162.4 443.9 162.9 444.1 162.4 444.3 162.7 444.4 162.7 444.6 162.7 444.8 162.5 445.0 162.8 445.1 162.8 445.3 162.8 445.5 162.5 445.7 162.6 445.9 162.6 446.0 162.8 446.2 162.9 446.4 163.1 446.6 162.7 446.7 162.7 446.9 162.9 447.1 162.8 447.3 162.7 447.5 162.9 447.6 162.7 447.8 162.8 448.0 163.1 448.2 162.9 448.3 163.0 448.5 162.7 448.7 162.9 448.9 162.9 449.0 163.0 449.2 162.9 449.4 162.9 449.6 162.8 449.8 162.9 449.9 163.0 450.1 163.1 450.3 163.1 450.5 163.1 450.6 162.8 450.8 163.5 451.0 163.1 451.2 163.0 451.4 162.9 451.5 163.3 451.7 162.9 451.9 162.8 452.1 163.1 452.2 163.4 452.4 163.1 452.6 163.2 452.8 162.8 452.9 163.0 453.1 162.5 453.3 162.8 453.5 163.1 453.7 163.0 453.8 163.1 454.0 162.7 454.2 162.5 454.4 162.9 454.5 162.8 454.7 163.1 454.9 162.9 455.1 162.6 455.3 163.3 455.4 162.8 455.6 162.8 455.8 163.4 456.0 163.3 456.1 163.2 456.3 162.9 456.5 163.2 456.7 163.2 456.9 163.0 457.0 163.2 457.2 163.2 457.4 163.3 457.6 163.0 457.7 163.3 457.9 163.0 458.1 163.3 458.3 163.3 458.4 163.0 458.6 163.1 458.8 163.6 459.0 163.2 459.2 163.4 459.3 163.2 459.5 162.9 459.7 163.2 459.9 163.0 460.0 163.1 460.2 162.7 460.4 163.2 460.6 163.3 460.8 163.2 460.9 163.2 461.1 163.1 461.3 163.1 461.5 163.0 461.6 163.3 461.8 163.2 462.0 163.2 462.2 163.3 462.3 163.1 462.5 163.0 462.7 163.0 462.9 163.3 463.1 163.5 463.2 163.4 463.4 163.2 463.6 163.7 463.8 163.4 463.9 163.1 464.1 163.2 464.3 163.3 464.5 162.8 464.7 162.8 464.8 163.0 465.0 162.7 465.2 162.7 465.4 163.1 465.5 162.5 465.7 163.2 465.9 163.1 466.1 163.2 466.3 162.9 466.4 163.2 466.6 163.0 466.8 162.8 467.0 163.0 467.1 163.1 467.3 162.8 467.5 163.3 467.7 163.0 467.8 163.2 468.0 163.2 468.2 163.2 468.4 163.3 468.6 163.2 468.7 163.4 468.9 163.3 469.1 163.1 469.3 163.2 469.4 163.4 469.6 163.3 469.8 163.2 470.0 163.2 470.2 163.1 470.3 163.1 470.5 163.2 470.7 163.0 470.9 163.2 471.0 163.5 471.2 163.1 471.4 163.2 471.6 163.1 471.7 163.3 471.9 163.0 472.1 163.3 472.3 163.0 472.5 163.1 472.6 163.2 472.8 163.3 473.0 162.8 473.2 162.9 473.3 162.7 473.5 162.5 473.7 162.8 473.9 162.8 474.1 162.9 474.2 162.9 474.4 162.9 474.6 163.1 474.8 162.5 474.9 163.2 475.1 162.8 475.3 162.8 475.5 162.9 475.6 163.0 475.8 162.9 476.0 162.9 476.2 163.0 476.4 162.8 476.5 162.9 476.7 163.0 476.9 162.7 477.1 163.0 477.2 162.8 477.4 162.9 477.6 162.7 477.8 162.9 478.0 162.9 478.1 163.2 478.3 163.1 478.5 163.0 478.7 162.8 478.8 162.7 479.0 162.7 479.2 163.0 479.4 162.8 479.6 163.0 479.7 163.2 479.9 162.9 480.1 162.9 480.3 163.1 480.4 163.0 480.6 162.6 480.8 162.9 481.0 163.1 481.1 162.4 481.3 162.8 481.5 162.8 481.7 162.7 481.9 163.0 482.0 162.5 482.2 163.0 482.4 163.0 482.6 162.7 482.7 162.8 482.9 162.4 483.1 162.9 483.3 162.6 483.5 162.6 483.6 162.5 483.8 162.4 484.0 162.6 484.2 162.3 484.3 162.9 484.5 162.8 484.7 162.7 484.9 162.9 485.0 162.9 485.2 162.9 485.4 162.9 485.6 163.0 485.8 163.0 485.9 163.2 486.1 162.9 486.3 163.3 486.5 162.6 486.6 162.7 486.8 162.9 487.0 163.1 487.2 163.2 487.4 162.9 487.5 163.0 487.7 162.9 487.9 163.2 488.1 162.9 488.2 163.3 488.4 163.3 488.6 163.5 488.8 163.4 489.0 163.2 489.1 163.4 489.3 163.4 489.5 163.1 489.7 163.3 489.8 163.0 490.0 163.7 490.2 163.2 490.4 163.2 490.5 163.6 490.7 163.6 490.9 163.3 491.1 163.6 491.3 163.4 491.4 163.3 491.6 163.4 491.8 163.2 492.0 163.5 492.1 163.3 492.3 163.2 492.5 163.3 492.7 163.7 492.9 163.3 493.0 163.4 493.2 163.5 493.4 163.1 493.6 163.7 493.7 163.0 493.9 163.4 494.1 163.0 494.3 163.2 494.4 163.6 494.6 163.2 494.8 163.1 495.0 163.0 495.2 162.9 495.3 163.3 495.5 163.0 495.7 163.0 495.9 163.2 496.0 163.3 496.2 163.3 496.4 163.0 496.6 163.1 496.8 163.4 496.9 163.5 497.1 163.1 497.3 163.6 497.5 163.2 497.6 163.4 497.8 163.7 498.0 163.4 498.2 163.4 498.4 163.0 498.5 162.8 498.7 163.3 498.9 163.1 499.1 163.0 499.2 163.3 499.4 163.3 499.6 162.8 499.8 163.1 499.9 163.0 500.1 163.1 500.3 162.9 500.5 163.1 500.7 162.8 500.8 162.7 501.0 163.1 501.2 163.2 501.4 163.0 501.5 163.3 501.7 163.2 501.9 163.0 502.1 162.7 502.3 162.9 502.4 163.2 502.6 162.8 502.8 163.3 503.0 163.1 503.1 162.7 503.3 162.9 503.5 163.3 503.7 163.3 503.8 162.9 504.0 163.1 504.2 163.2 504.4 163.0 504.6 163.1 504.7 163.4 504.9 162.9 505.1 163.2 505.3 163.2 505.4 163.3 505.6 163.1 505.8 163.2 506.0 162.9 506.2 163.0 506.3 162.9 506.5 163.2 506.7 163.2 506.9 163.4 507.0 163.3 507.2 163.0 507.4 162.6 507.6 163.3 507.8 163.3 507.9 163.0 508.1 163.0 508.3 163.2 508.5 163.0 508.6 163.3 508.8 163.1 509.0 162.9 509.2 162.8 509.3 163.1 509.5 163.2 509.7 163.0 509.9 162.9 510.1 163.0 510.2 163.3 510.4 163.3 510.6 163.1 510.8 163.5 510.9 163.6 511.1 163.2 511.3 163.2 511.5 163.2 511.7 163.3 511.8 163.4 512.0 163.4 512.2 163.6 512.4 163.6 512.5 163.5 512.7 163.4 512.9 163.1 513.1 163.5 513.2 163.3 513.4 163.4 513.6 163.0 513.8 163.2 514.0 163.3 514.1 163.1 514.3 163.3 514.5 163.3 514.7 163.0 514.8 163.1 515.0 162.9 515.2 162.9 515.4 162.9 515.6 163.1 515.7 163.1 515.9 162.8 516.1 162.9 516.3 162.8 516.4 163.0 516.6 163.2 516.8 163.2 517.0 162.9 517.1 162.8 517.3 163.2 517.5 163.1 517.7 163.0 517.9 163.4 518.0 163.3 518.2 163.4 518.4 162.8 518.6 162.9 518.7 163.1 518.9 163.3 519.1 163.3 519.3 163.1 519.5 163.3 519.6 163.3 519.8 163.1 520.0 163.4 520.2 163.1 520.3 163.0 520.5 163.2 520.7 163.2 520.9 163.1 521.1 163.2 521.2 163.1 521.4 163.0 521.6 162.9 521.8 163.2 521.9 163.1 522.1 163.0 522.3 162.9 522.5 162.8 522.6 163.2 522.8 162.9 523.0 162.9 523.2 163.0 523.4 162.9 523.5 162.9 523.7 162.7 523.9 163.2 524.1 162.9 524.2 163.0 524.4 163.1 524.6 162.9 524.8 162.9 525.0 163.3 525.1 163.1 525.3 163.0 525.5 163.4 525.7 163.0 525.8 163.2 526.0 163.2 526.2 163.2 526.4 163.0 526.5 163.3 526.7 163.3 526.9 163.0 527.1 163.3 527.3 163.4 527.4 163.5 527.6 163.1 527.8 163.2 528.0 163.2 528.1 163.3 528.3 163.3 528.5 163.4 528.7 163.4 528.9 163.3 529.0 163.3 529.2 162.9 529.4 163.3 529.6 163.2 529.7 163.3 529.9 163.0 530.1 163.5 530.3 163.2 530.5 163.0 530.6 163.3 530.8 163.2 531.0 163.6 531.2 163.3 531.3 163.6 531.5 163.3 531.7 163.4 531.9 163.5 532.0 163.2 532.2 163.2 532.4 163.3 532.6 163.3 532.8 163.4 532.9 163.1 533.1 162.6 533.3 163.0 533.5 162.8 533.6 163.0 533.8 162.8 534.0 162.8 534.2 162.9 534.4 163.2 534.5 163.1 534.7 162.9 534.9 163.2 535.1 163.1 535.2 163.2 535.4 163.6 535.6 163.1 535.8 163.1 535.9 163.3 536.1 163.1 536.3 162.9 536.5 163.1 536.7 162.9 536.8 163.0 537.0 163.3 537.2 162.9 537.4 163.0 537.5 163.1 537.7 162.9 537.9 163.1 538.1 163.0 538.3 163.0 538.4 163.2 538.6 163.4 538.8 163.3 539.0 163.0 539.1 163.3 539.3 163.4 539.5 163.3 539.7 163.2 539.9 163.3 540.0 163.2 540.2 163.4 540.4 163.3 540.6 163.3 540.7 163.2 540.9 163.6 541.1 163.2 541.3 163.4 541.4 162.9 541.6 162.9 541.8 162.8 542.0 162.9 542.2 163.1 542.3 162.8 542.5 163.0 542.7 162.8 542.9 163.0 543.0 163.0 543.2 162.9 543.4 162.6 543.6 162.9 543.8 162.6 543.9 162.5 544.1 163.3 544.3 162.9 544.5 163.1 544.6 163.0 544.8 163.1 545.0 163.0 545.2 162.7 545.3 162.8 545.5 163.0 545.7 163.1 545.9 163.1 546.1 163.1 546.2 163.1 546.4 163.2 546.6 163.0 546.8 163.4 546.9 163.0 547.1 162.9 547.3 163.0 547.5 163.3 547.7 162.8 547.8 163.0 548.0 163.5 548.2 163.0 548.4 162.8 548.5 162.9 548.7 162.9 548.9 162.9 549.1 163.0 549.3 163.4 549.4 163.2 549.6 163.1 549.8 163.0 550.0 163.4 550.1 163.3 550.3 163.1 550.5 163.5 550.7 163.5 550.8 163.2 551.0 163.1 551.2 163.2 551.4 163.5 551.6 163.2 551.7 163.4 551.9 163.0 552.1 163.1 552.3 163.1 552.4 163.1 552.6 163.3 552.8 163.0 553.0 163.0 553.2 163.1 553.3 162.9 553.5 163.2 553.7 163.0 553.9 163.0 554.0 163.3 554.2 163.1 554.4 163.2 554.6 163.3 554.7 163.2 554.9 163.0 555.1 163.2 555.3 163.0 555.5 163.3 555.6 162.9 555.8 162.8 556.0 162.8 556.2 162.8 556.3 163.0 556.5 162.9 556.7 162.8 556.9 163.1 557.1 163.0 557.2 162.6 557.4 163.0 557.6 162.7 557.8 163.2 557.9 162.8 558.1 163.0 558.3 162.8 558.5 162.9 558.6 162.7 558.8 162.7 559.0 162.8 559.2 162.7 559.4 162.4 559.5 162.8 559.7 162.6 559.9 162.7 560.1 162.8 560.2 162.4 560.4 163.1 560.6 162.9 560.8 163.2 561.0 163.0 561.1 162.9 561.3 162.3 561.5 162.9 561.7 162.6 561.8 162.7 562.0 163.0 562.2 162.9 562.4 162.7 562.6 162.9 562.7 162.9 562.9 162.9 563.1 163.2 563.3 163.0 563.4 162.8 563.6 162.8 563.8 163.1 564.0 163.0 564.1 162.9 564.3 163.0 564.5 162.8 564.7 162.9 564.9 163.0 565.0 163.2 565.2 163.2 565.4 162.9 565.6 163.3 565.7 163.0 565.9 163.2 566.1 163.2 566.3 162.9 566.5 163.1 566.6 163.2 566.8 163.2 567.0 163.1 567.2 162.6 567.3 163.3 567.5 162.9 567.7 163.0 567.9 162.8 568.0 163.1 568.2 163.5 568.4 162.7 568.6 163.1 568.8 162.9 568.9 163.1 569.1 163.0 569.3 162.8 569.5 162.6 569.6 162.6 569.8 162.9 570.0 162.7 570.2 162.8 570.4 162.7 570.5 162.6 570.7 162.6 570.9 162.8 571.1 162.7 571.2 162.6 571.4 162.6 571.6 162.7 571.8 162.2 572.0 162.6 572.1 162.3 572.3 162.5 572.5 162.3 572.7 162.8 572.8 162.1 573.0 162.5 573.2 162.7 573.4 162.4 573.5 162.0 573.7 162.4 573.9 162.7 574.1 162.6 574.3 162.3 574.4 162.8 574.6 162.6 574.8 162.6 575.0 162.0 575.1 162.4 575.3 162.1 575.5 162.5 575.7 162.6 575.9 162.3 576.0 162.4 576.2 162.9 576.4 162.5 576.6 162.5 576.7 162.8 576.9 162.8 577.1 162.8 577.3 162.9 577.4 163.0 577.6 162.9 577.8 162.8 578.0 163.0 578.2 162.8 578.3 163.1 578.5 162.7 578.7 162.7 578.9 162.8 579.0 162.6 579.2 162.4 579.4 162.6 579.6 163.1 579.8 162.6 579.9 162.8 580.1 162.9 580.3 162.9 580.5 162.9 580.6 162.6 580.8 162.8 581.0 163.0 581.2 163.0 581.4 163.0 581.5 162.8 581.7 162.6 581.9 163.0 582.1 162.9 582.2 162.9 582.4 163.0 582.6 162.9 582.8 162.9 582.9 163.2 583.1 163.2 583.3 162.7 583.5 162.9 583.7 162.9 583.8 163.0 584.0 163.0 584.2 162.9 584.4 163.0 584.5 163.1 584.7 162.9 584.9 162.8 585.1 163.3 585.3 163.0 585.4 163.0 585.6 163.3 585.8 163.2 586.0 163.2 586.1 163.0 586.3 163.0 586.5 163.4 586.7 163.3 586.8 162.9 587.0 163.1 587.2 163.0 587.4 163.1 587.6 163.0 587.7 163.5 587.9 163.1 588.1 163.4 588.3 163.1 588.4 163.0 588.6 163.4 588.8 163.2 589.0 163.4 589.2 163.4 589.3 163.4 589.5 163.6 589.7 163.6 589.9 163.4 590.0 163.4 590.2 163.7 590.4 163.8 590.6 163.2 590.8 163.4 590.9 163.5 591.1 163.8 591.3 163.7 591.5 163.5 591.6 163.7 591.8 163.2 592.0 163.4 592.2 163.2 592.3 163.5 592.5 163.4 592.7 163.4 592.9 163.2 593.1 163.3 593.2 163.3 593.4 163.1 593.6 163.2 593.8 162.9 593.9 163.2 594.1 163.4 594.3 163.2 594.5 162.9 594.7 163.2 594.8 163.1 595.0 163.1 595.2 163.0 595.4 162.9 595.5 163.2 595.7 163.1 595.9 162.9 596.1 162.9 596.2 163.0 596.4 163.0 596.6 163.2 596.8 163.2 597.0 163.0 597.1 163.3 597.3 163.0 597.5 163.4 597.7 163.1 597.8 163.1 598.0 163.2 598.2 163.0 598.4 163.2 598.6 163.0 598.7 163.1 598.9 163.3 599.1 163.0 599.3 163.4 599.4 163.2 599.6 163.5 599.8 163.3 600.0 163.3 600.1 163.3 600.3 163.4 600.5 163.3 600.7 163.1 600.9 163.2 601.0 163.2 601.2 163.3 601.4 162.8 601.6 163.0 601.7 163.3 601.9 163.3 602.1 163.5 602.3 163.4 602.5 163.4 602.6 163.4 602.8 163.6 603.0 163.7 603.2 163.5 603.3 163.5 603.5 163.8 603.7 163.5 603.9 163.2 604.1 163.5 604.2 163.4 604.4 163.8 604.6 163.4 604.8 163.7 604.9 163.7 605.1 163.5 605.3 163.0 605.5 163.5 605.6 163.6 605.8 163.4 606.0 163.4 606.2 163.1 606.4 163.6 606.5 163.7 606.7 163.4 606.9 163.3 607.1 163.3 607.2 163.1 607.4 163.5 607.6 163.4 607.8 163.2 608.0 163.0 608.1 163.1 608.3 163.2 608.5 163.3 608.7 163.0 608.8 163.1 609.0 162.8 609.2 163.4 609.4 163.0 609.5 163.5 609.7 163.5 609.9 163.5 610.1 163.4 610.3 163.5 610.4 163.3 610.6 163.2 610.8 163.2 611.0 163.1 611.1 163.2 611.3 163.2 611.5 162.9 611.7 163.1 611.9 163.2 612.0 163.2 612.2 163.1 612.4 163.1 612.6 163.3 612.7 163.0 612.9 163.0 613.1 163.1 613.3 163.3 613.5 163.6 613.6 163.4 613.8 163.3 614.0 163.3 614.2 163.3 614.3 163.5 614.5 163.1 614.7 163.4 614.9 163.0 615.0 163.0 615.2 163.4 615.4 163.2 615.6 163.3 615.8 163.4 615.9 163.6 616.1 163.5 616.3 163.2 616.5 163.3 616.6 163.2 616.8 163.5 617.0 163.3 617.2 163.3 617.4 163.6 617.5 163.6 617.7 163.3 617.9 163.4 618.1 163.5 618.2 163.4 618.4 163.2 618.6 163.1 618.8 163.5 618.9 163.2 619.1 162.9 619.3 163.3 619.5 163.1 619.7 163.8 619.8 163.1 620.0 163.3 620.2 163.5 620.4 163.0 620.5 162.9 620.7 162.9 620.9 162.9 621.1 163.1 621.3 163.1 621.4 163.0 621.6 163.0 621.8 163.0 622.0 163.1 622.1 163.0 622.3 162.8 622.5 162.9 622.7 162.5 622.9 162.6 623.0 163.2 623.2 163.2 623.4 163.3 623.6 163.3 623.7 163.0 623.9 163.3 624.1 163.3 624.3 163.2 624.4 163.0 624.6 163.3 624.8 163.3 625.0 163.1 625.2 163.2 625.3 163.2 625.5 163.1 625.7 163.3 625.9 163.1 626.0 163.2 626.2 162.9 626.4 162.9 626.6 163.2 626.8 162.8 626.9 163.2 627.1 162.8 627.3 162.9 627.5 163.1 627.6 163.1 627.8 163.0 628.0 163.0 628.2 163.1 628.3 162.8 628.5 163.2 628.7 163.0 628.9 163.0 629.1 163.4 629.2 163.2 629.4 163.5 629.6 163.7 629.8 163.4 629.9 163.3 630.1 163.1 630.3 163.3 630.5 163.1 630.7 163.1 630.8 163.2 631.0 163.2 631.2 163.4 631.4 163.6 631.5 163.4 631.7 163.4 631.9 163.5 632.1 163.5 632.3 163.8 632.4 163.5 632.6 163.5 632.8 163.7 633.0 163.5 633.1 163.4 633.3 163.5 633.5 163.4 633.7 163.4 633.8 163.9 634.0 163.6 634.2 163.5 634.4 163.4 634.6 163.3 634.7 163.8 634.9 163.5 635.1 163.3 635.3 163.3 635.4 163.2 635.6 163.6 635.8 163.6 636.0 163.7 636.2 163.4 636.3 163.8 636.5 163.4 636.7 163.4 636.9 163.6 637.0 164.0 637.2 163.6 637.4 163.3 637.6 163.7 637.7 163.4 637.9 163.3 638.1 163.2 638.3 163.3 638.5 163.3 638.6 163.4 638.8 163.3 639.0 163.3 639.2 163.2 639.3 163.3 639.5 163.1 639.7 163.6 639.9 163.1 640.1 163.4 640.2 163.2 640.4 163.3 640.6 163.2 640.8 163.1 640.9 163.4 641.1 163.4 641.3 163.4 641.5 163.3 641.6 163.6 641.8 163.3 642.0 163.4 642.2 163.5 642.4 163.3 642.5 163.6 642.7 163.1 642.9 163.2 643.1 163.0 643.2 163.6 643.4 163.5 643.6 163.3 643.8 163.5 644.0 163.1 644.1 163.3 644.3 163.2 644.5 163.1 644.7 163.0 644.8 162.7 645.0 162.9 645.2 163.2 645.4 162.8 645.6 163.1 645.7 162.9 645.9 163.2 646.1 163.1 646.3 162.8 646.4 163.1 646.6 163.2 646.8 163.2 647.0 163.1 647.1 162.8 647.3 163.2 647.5 163.1 647.7 162.8 647.9 163.0 648.0 162.8 648.2 162.5 648.4 162.7 648.6 163.0 648.7 163.0 648.9 163.0 649.1 162.9 649.3 162.8 649.5 162.6 649.6 162.6 649.8 162.8 650.0 163.0 650.2 162.8 650.3 163.2 650.5 162.9 650.7 162.9 650.9 163.1 651.0 163.1 651.2 162.8 651.4 163.1 651.6 162.9 651.8 162.8 651.9 162.7 652.1 163.0 652.3 162.7 652.5 162.9 652.6 162.8 652.8 162.8 653.0 162.9 653.2 163.0 653.4 162.6 653.5 162.8 653.7 162.9 653.9 162.6 654.1 162.9 654.2 162.7 654.4 162.9 654.6 163.1 654.8 162.7 655.0 163.1 655.1 162.7 655.3 163.0 655.5 162.8 655.7 162.7 655.8 162.8 656.0 163.0 656.2 162.7 656.4 162.8 656.5 163.0 656.7 162.9 656.9 162.8 657.1 162.7 657.3 163.2 657.4 162.9 657.6 162.8 657.8 162.9 658.0 163.0 658.1 162.6 658.3 163.0 658.5 162.7 658.7 162.5 658.9 163.1 659.0 162.7 659.2 162.7 659.4 162.7 659.6 162.9 659.7 162.9 659.9 163.1 660.1 162.8 660.3 162.7 660.4 162.8 660.6 162.9 660.8 162.8 661.0 162.6 661.2 162.6 661.3 162.6 661.5 162.6 661.7 162.9 661.9 163.2 662.0 162.6 662.2 162.4 662.4 162.9 662.6 162.7 662.8 162.5 662.9 162.5 663.1 162.5 663.3 162.5 663.5 162.7 663.6 162.6 663.8 162.5 664.0 162.6 664.2 162.3 664.4 162.5 664.5 162.5 664.7 162.7 664.9 162.5 665.1 162.8 665.2 162.6 665.4 163.0 665.6 162.7 665.8 162.4 665.9 162.6 666.1 162.5 666.3 162.8 666.5 162.2 666.7 162.4 666.8 162.5 667.0 162.3 667.2 162.3 667.4 162.2 667.5 162.4 667.7 162.8 667.9 162.5 668.1 162.3 668.3 162.4 668.4 162.5 668.6 162.2 668.8 162.3 669.0 162.2 669.1 162.5 669.3 162.4 669.5 162.1 669.7 162.3 669.8 162.1 670.0 161.8 670.2 162.2 670.4 162.1 670.6 162.2 670.7 162.2 670.9 162.1 671.1 162.2 671.3 162.3 671.4 161.8 671.6 162.1 671.8 161.9 672.0 162.1 672.2 162.2 672.3 162.1 672.5 162.2 672.7 162.5 672.9 162.1 673.0 162.5 673.2 162.3 673.4 161.9 673.6 162.3 673.7 162.1 673.9 162.5 674.1 162.4 674.3 162.4 674.5 162.3 674.6 162.5 674.8 162.6 675.0 162.5 675.2 162.8 675.3 162.7 675.5 162.6 675.7 162.8 675.9 162.8 676.1 162.9 676.2 162.6 676.4 162.8 676.6 162.8 676.8 162.9 676.9 162.5 677.1 162.8 677.3 163.1 677.5 162.7 677.7 162.7 677.8 162.6 678.0 162.9 678.2 162.5 678.4 162.6 678.5 162.7 678.7 163.0 678.9 162.7 679.1 162.8 679.2 162.6 679.4 162.9 679.6 163.0 679.8 162.7 680.0 162.9 680.1 162.8 680.3 163.0 680.5 162.7 680.7 162.7 680.8 162.8 681.0 162.9 681.2 162.9 681.4 162.8 681.6 162.8 681.7 162.8 681.9 162.8 682.1 163.2 682.3 162.8 682.4 162.5 682.6 162.7 682.8 162.6 683.0 162.7 683.1 163.0 683.3 163.1 683.5 162.8 683.7 162.7 683.9 162.7 684.0 162.8 684.2 162.8 684.4 162.9 684.6 162.9 684.7 162.9 684.9 162.8 685.1 163.0 685.3 163.0 685.5 162.9 685.6 163.1 685.8 163.5 686.0 163.0 686.2 163.4 686.3 162.8 686.5 163.0 686.7 162.9 686.9 163.2 687.1 163.3 687.2 163.2 687.4 163.2 687.6 163.3 687.8 163.1 687.9 163.0 688.1 163.1 688.3 163.3 688.5 163.5 688.6 163.2 688.8 163.3 689.0 163.1 689.2 162.9 689.4 162.9 689.5 163.1 689.7 163.0 689.9 162.9 690.1 163.2 690.2 163.1 690.4 163.0 690.6 163.1 690.8 163.2 691.0 163.3 691.1 163.2 691.3 163.3 691.5 163.1 691.7 163.3 691.8 163.1 692.0 163.1 692.2 163.5 692.4 163.2 692.5 163.3 692.7 163.0 692.9 163.2 693.1 163.2 693.3 163.1 693.4 163.3 693.6 163.1 693.8 163.1 694.0 163.2 694.1 163.1 694.3 163.3 694.5 163.1 694.7 163.4 694.9 162.9 695.0 163.0 695.2 163.0 695.4 163.1 695.6 162.6 695.7 163.2 695.9 163.1 696.1 163.2 696.3 162.8 696.5 163.1 696.6 162.8 696.8 163.1 697.0 162.9 697.2 163.0 697.3 162.8 697.5 163.0 697.7 163.1 697.9 162.9 698.0 163.2 698.2 163.1 698.4 162.7 698.6 163.2 698.8 162.7 698.9 162.9 699.1 163.0 699.3 162.8 699.5 162.7 699.6 162.9 699.8 162.8 700.0 162.7 700.2 162.7 700.4 162.9 700.5 163.0 700.7 163.0 700.9 162.9 701.1 162.7 701.2 162.6 701.4 162.7 701.6 162.5 701.8 162.8 701.9 162.8 702.1 162.8 702.3 162.4 702.5 163.2 702.7 162.8 702.8 162.8 703.0 162.8 703.2 162.6 703.4 162.8 703.5 163.0 703.7 163.2 703.9 163.0 704.1 163.1 704.3 163.1 704.4 163.2 704.6 163.3 704.8 163.1 705.0 162.9 705.1 163.0 705.3 163.1 705.5 163.5 705.7 163.0 705.9 163.0 706.0 163.1 706.2 163.1 706.4 162.9 706.6 163.2 706.7 163.0 706.9 163.2 707.1 163.2 707.3 163.1 707.4 163.4 707.6 163.1 707.8 163.0 708.0 163.4 708.2 163.0 708.3 163.2 708.5 163.1 708.7 163.2 708.9 163.2 709.0 163.2 709.2 163.4 709.4 163.3 709.6 163.3 709.8 162.8 709.9 162.9 710.1 163.4 710.3 163.0 710.5 163.1 710.6 163.1 710.8 163.0 711.0 163.0 711.2 163.2 711.3 163.1 711.5 163.0 711.7 163.3 711.9 163.1 712.1 163.1 712.2 163.2 712.4 163.3 712.6 163.1 712.8 163.0 712.9 163.1 713.1 163.3 713.3 163.1 713.5 163.2 713.7 163.1 713.8 163.0 714.0 163.4 714.2 163.3 714.4 163.3 714.5 163.3 714.7 162.8 714.9 163.0 715.1 163.4 715.2 163.0 715.4 163.1 715.6 162.7 715.8 162.8 716.0 162.9 716.1 162.9 716.3 162.8 716.5 162.8 716.7 162.9 716.8 162.9 717.0 162.9 717.2 163.2 717.4 163.0 717.6 162.9 717.7 163.1 717.9 162.8 718.1 163.2 718.3 163.0 718.4 163.1 718.6 162.9 718.8 163.1 719.0 163.1 719.2 163.1 719.3 163.5 719.5 163.1 719.7 163.3 719.9 163.2 720.0 163.2 720.2 163.0 720.4 163.0 720.6 162.9 720.7 163.1 720.9 163.2 721.1 163.3 721.3 163.1 721.5 162.9 721.6 163.1 721.8 163.2 722.0 163.0 722.2 163.0 722.3 163.1 722.5 163.3 722.7 163.6 722.9 163.3 723.1 163.2 723.2 163.3 723.4 163.6 723.6 163.3 723.8 163.6 723.9 163.1 724.1 163.3 724.3 163.6 724.5 163.3 724.6 163.4 724.8 163.2 725.0 163.3 725.2 163.5 725.4 163.2 725.5 163.6 725.7 163.1 725.9 163.4 726.1 163.5 726.2 163.6 726.4 163.0 726.6 163.1 726.8 163.5 727.0 163.2 727.1 163.3 727.3 163.4 727.5 163.3 727.7 163.4 727.8 163.2 728.0 163.4 728.2 163.7 728.4 163.1 728.6 163.2 728.7 163.5 728.9 163.4 729.1 163.5 729.3 163.5 729.4 163.4 729.6 163.4 729.8 163.6 730.0 163.6 730.1 163.4 730.3 163.5 730.5 163.1 730.7 163.6 730.9 163.4 731.0 163.5 731.2 163.7 731.4 163.4 731.6 163.6 731.7 163.8 731.9 163.6 732.1 163.4 732.3 163.7 732.5 163.2 732.6 163.4 732.8 163.6 733.0 163.4 733.2 163.2 733.3 163.4 733.5 163.4 733.7 163.1 733.9 163.1 734.0 163.5 734.2 163.4 734.4 163.4 734.6 163.4 734.8 163.5 734.9 163.1 735.1 163.3 735.3 163.3 735.5 163.1 735.6 163.4 735.8 163.4 736.0 163.4 736.2 163.4 736.4 163.3 736.5 163.2 736.7 163.4 736.9 163.1 737.1 163.4 737.2 163.2 737.4 163.5 737.6 163.3 737.8 163.2 738.0 162.9 738.1 163.0 738.3 163.1 738.5 162.8 738.7 162.9 738.8 162.9 739.0 163.2 739.2 163.4 739.4 163.1 739.5 163.2 739.7 163.2 739.9 163.2 740.1 163.5 740.3 163.0 740.4 163.4 740.6 163.4 740.8 163.2 741.0 163.6 741.1 163.2 741.3 163.2 741.5 163.5 741.7 163.6 741.9 163.6 742.0 163.8 742.2 163.4 742.4 163.6 742.6 163.7 742.7 163.7 742.9 163.5 743.1 163.4 743.3 163.7 743.4 163.5 743.6 163.7 743.8 163.3 744.0 163.5 744.2 163.1 744.3 163.5 744.5 163.5 744.7 163.5 744.9 163.3 745.0 163.7 745.2 163.3 745.4 163.4 745.6 163.5 745.8 163.5 745.9 163.3 746.1 163.1 746.3 163.4 746.5 163.2 746.6 163.0 746.8 163.3 747.0 163.4 747.2 163.5 747.4 163.3 747.5 163.3 747.7 163.4 747.9 163.5 748.1 163.7 748.2 163.6 748.4 163.4 748.6 163.2 748.8 163.4 748.9 163.4 749.1 163.2 749.3 163.1 749.5 163.3 749.7 163.3 749.8 163.1 750.0 163.0 750.2 163.3 750.4 163.1 750.5 163.1 750.7 162.8 750.9 163.2 751.1 163.0 751.3 163.0 751.4 163.2 751.6 162.8 751.8 162.7 752.0 163.0 752.1 162.5 752.3 163.1 752.5 163.0 752.7 163.0 752.8 162.8 753.0 163.0 753.2 163.1 753.4 162.9 753.6 162.9 753.7 162.7 753.9 162.5 754.1 162.9 754.3 163.4 754.4 163.1 754.6 163.3 754.8 163.0 755.0 163.0 755.2 163.3 755.3 163.3 755.5 163.1 755.7 163.0 755.9 163.4 756.0 162.9 756.2 163.0 756.4 163.0 756.6 163.0 756.7 163.2 756.9 163.1 757.1 162.9 757.3 162.9 757.5 163.0 757.6 163.1 757.8 163.1 758.0 162.7 758.2 162.8 758.3 162.9 758.5 163.2 758.7 163.1 758.9 163.2 759.1 162.6 759.2 162.7 759.4 162.7 759.6 162.7 759.8 162.2 759.9 162.4 760.1 162.8 760.3 162.6 760.5 162.8 760.7 162.9 760.8 162.6 761.0 162.2 761.2 162.5 761.4 162.7 761.5 162.8 761.7 162.7 761.9 162.6 762.1 163.0 762.2 163.1 762.4 162.5 762.6 162.7 762.8 162.5 763.0 162.9 763.1 162.7 763.3 163.0 763.5 162.9 763.7 162.7 763.8 162.8 764.0 163.1 764.2 162.9 764.4 163.2 764.6 163.2 764.7 162.9 764.9 162.8 765.1 162.8 765.3 163.3 765.4 163.0 765.6 163.0 765.8 163.2 766.0 163.5 766.1 162.9 766.3 162.9 766.5 163.0 766.7 163.6 766.9 163.5 767.0 163.1 767.2 163.1 767.4 163.2 767.6 163.4 767.7 163.2 767.9 163.3 768.1 163.2 768.3 163.3 768.5 163.2 768.6 163.3 768.8 163.1 769.0 163.2 769.2 163.4 769.3 163.0 769.5 163.4 769.7 163.2 769.9 163.0 770.1 163.0 770.2 163.7 770.4 163.2 770.6 163.2 770.8 163.1 770.9 163.7 771.1 163.4 771.3 163.4 771.5 163.4 771.6 163.1 771.8 163.5 772.0 163.2 772.2 163.3 772.4 163.6 772.5 163.6 772.7 163.5 772.9 163.5 773.1 163.3 773.2 163.4 773.4 163.2 773.6 163.6 773.8 163.8 774.0 163.4 774.1 163.3 774.3 163.4 774.5 163.4 774.7 163.1 774.8 162.9 775.0 163.3 775.2 163.4 775.4 163.4 775.5 162.9 775.7 163.2 775.9 163.1 776.1 162.9 776.3 163.0 776.4 163.3 776.6 163.0 776.8 163.1 777.0 163.0 777.1 162.9 777.3 163.2 777.5 163.2 777.7 163.3 777.9 163.0 778.0 163.3 778.2 163.1 778.4 163.4 778.6 163.3 778.7 163.4 778.9 163.3 779.1 163.2 779.3 163.3 779.5 163.3 779.6 163.5 779.8 163.0 780.0 163.3 780.2 163.1 780.3 163.2 780.5 162.9 780.7 163.2 780.9 163.0 781.0 163.0 781.2 162.9 781.4 162.9 781.6 162.9 781.8 163.1 781.9 162.7 782.1 162.7 782.3 162.8 782.5 162.8 782.6 162.9 782.8 163.0 783.0 162.7 783.2 162.7 783.4 163.2 783.5 162.9 783.7 163.1 783.9 163.1 784.1 163.1 784.2 163.0 784.4 163.0 784.6 163.0 784.8 163.3 784.9 162.9 785.1 163.0 785.3 163.2 785.5 162.9 785.7 163.2 785.8 162.9 786.0 162.8 786.2 163.2 786.4 162.9 786.5 163.0 786.7 163.0 786.9 163.3 787.1 162.9 787.3 162.9 787.4 162.7 787.6 162.9 787.8 162.7 788.0 162.8 788.1 162.8 788.3 162.7 788.5 162.8 788.7 162.7 788.9 162.9 789.0 162.8 789.2 162.9 789.4 162.7 789.6 162.5 789.7 162.8 789.9 162.7 790.1 162.8 790.3 163.0 790.4 162.7 790.6 162.6 790.8 162.8 791.0 163.1 791.2 162.8 791.3 162.9 791.5 162.4 791.7 162.7 791.9 162.8 792.0 162.9 792.2 162.8 792.4 162.8 792.6 162.9 792.8 162.8 792.9 163.0 793.1 162.6 793.3 163.1 793.5 162.9 793.6 163.0 793.8 163.1 794.0 162.6 794.2 163.3 794.3 162.6 794.5 163.2 794.7 163.0 794.9 162.6 795.1 163.4 795.2 163.3 795.4 162.8 795.6 163.0 795.8 163.1 795.9 163.1 796.1 163.1 796.3 162.9 796.5 162.7 796.7 163.0 796.8 163.0 797.0 162.8 797.2 162.6 797.4 163.1 797.5 162.9 797.7 163.1 797.9 163.2 798.1 163.2 798.2 163.2 798.4 163.3 798.6 163.4 798.8 163.2 799.0 163.0 799.1 162.9 799.3 163.2 799.5 163.0 799.7 162.9 799.8 162.9 800.0 163.0 800.2 163.1 800.4 162.7 800.6 163.0 800.7 163.1 800.9 163.2 801.1 162.9 801.3 163.0 801.4 162.6 801.6 163.0 801.8 162.7 802.0 162.7 802.2 162.7 802.3 163.2 802.5 162.7 802.7 163.0 802.9 163.1 803.0 163.2 803.2 163.2 803.4 163.2 803.6 163.6 803.7 163.1 803.9 163.1 804.1 163.3 804.3 163.1 804.5 162.7 804.6 163.0 804.8 163.1 805.0 162.7 805.2 163.2 805.3 163.1 805.5 163.2 805.7 163.2 805.9 162.9 806.1 162.9 806.2 163.2 806.4 163.0 806.6 163.0 806.8 163.1 806.9 163.0 807.1 163.0 807.3 163.1 807.5 163.0 807.6 163.1 807.8 162.9 808.0 163.0 808.2 163.2 808.4 163.2 808.5 163.1 808.7 163.0 808.9 162.9 809.1 162.9 809.2 163.1 809.4 162.7 809.6 162.8"/>
<path class="d" stroke="#000" stroke-width="3.4" d="M100.4 482.2h0"/>
</g>
<g font-size="27.9">
<text x="571.2" y="341.5" style="fill:#0000ff">·</text><text x="589.2" y="343.7" style="fill:#0000ff">CC order</text>
<text x="571.2" y="380" style="fill:#ff9500">·</text><text x="589.2" y="382.4" style="fill:#ff9500">TG order</text>
<text x="573.7" y="415.7" style="fill:#ff0000">·</text><text x="591.7" y="417.7" style="fill:#ff0000">TV order</text>
<text x="574.7" y="452.7" style="fill:#000">·</text><text x="592.7" y="454.7" style="fill:#000">Paley order</text>
</g>
</svg>
</body></html>
